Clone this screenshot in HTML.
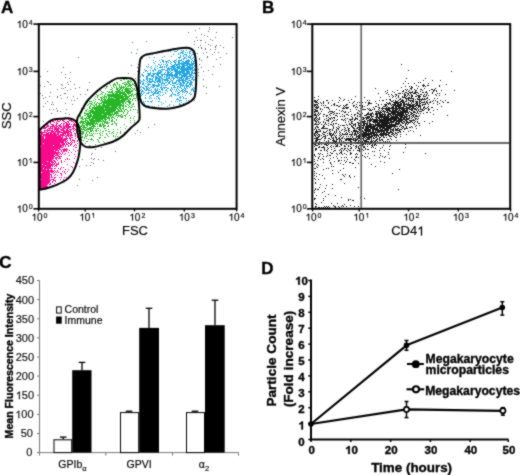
<!DOCTYPE html>
<html><head><meta charset="utf-8"><style>
html,body{margin:0;padding:0;background:#fff;width:520px;height:475px;overflow:hidden}
svg{display:block;will-change:transform}
text{stroke:#000;stroke-width:.15px}
text[font-weight=bold]{stroke-width:.35px}
.one{stroke:#000;stroke-width:.15px;vector-effect:non-scaling-stroke}
.oneb{stroke:#000;stroke-width:.35px;vector-effect:non-scaling-stroke}
</style></head><body>
<svg width="520" height="475" viewBox="0 0 520 475" font-family="Liberation Sans, sans-serif">
<defs><filter id="soft" x="0" y="0" width="520" height="475" filterUnits="userSpaceOnUse" color-interpolation-filters="sRGB"><feConvolveMatrix order="3" kernelMatrix="1 2 1 2 12 2 1 2 1" divisor="24" preserveAlpha="false" edgeMode="duplicate"/></filter></defs>
<g filter="url(#soft)">
<rect width="520" height="475" fill="#fff"/>
<path d="M64 118h1v1h-1zM68 118h1v1h-1zM58 119h1v1h-1zM60 119h1v1h-1zM62 119h1v1h-1zM64 119h1v1h-1zM68 119h1v1h-1zM72 119h1v1h-1zM52 120h1v1h-1zM55 120h1v1h-1zM57 120h1v1h-1zM60 120h1v1h-1zM62 120h1v1h-1zM63 120h1v1h-1zM69 120h1v1h-1zM70 120h1v1h-1zM71 120h1v1h-1zM73 120h1v1h-1zM74 120h1v1h-1zM49 121h1v1h-1zM50 121h1v1h-1zM52 121h1v1h-1zM53 121h1v1h-1zM57 121h1v1h-1zM58 121h1v1h-1zM59 121h1v1h-1zM63 121h1v1h-1zM64 121h1v1h-1zM67 121h1v1h-1zM68 121h1v1h-1zM71 121h1v1h-1zM72 121h1v1h-1zM48 122h1v1h-1zM50 122h1v1h-1zM54 122h1v1h-1zM56 122h1v1h-1zM65 122h1v1h-1zM66 122h1v1h-1zM68 122h1v1h-1zM73 122h1v1h-1zM75 122h1v1h-1zM47 123h1v1h-1zM50 123h1v1h-1zM56 123h1v1h-1zM57 123h1v1h-1zM61 123h1v1h-1zM63 123h1v1h-1zM64 123h1v1h-1zM66 123h1v1h-1zM67 123h1v1h-1zM69 123h1v1h-1zM74 123h1v1h-1zM47 124h1v1h-1zM51 124h1v1h-1zM52 124h1v1h-1zM53 124h1v1h-1zM56 124h1v1h-1zM60 124h1v1h-1zM63 124h1v1h-1zM66 124h1v1h-1zM67 124h1v1h-1zM68 124h1v1h-1zM69 124h1v1h-1zM71 124h1v1h-1zM73 124h1v1h-1zM74 124h1v1h-1zM75 124h1v1h-1zM76 124h1v1h-1zM47 125h1v1h-1zM48 125h1v1h-1zM52 125h1v1h-1zM53 125h1v1h-1zM55 125h1v1h-1zM56 125h1v1h-1zM58 125h1v1h-1zM59 125h1v1h-1zM60 125h1v1h-1zM63 125h1v1h-1zM65 125h1v1h-1zM66 125h1v1h-1zM67 125h1v1h-1zM68 125h1v1h-1zM73 125h1v1h-1zM74 125h1v1h-1zM75 125h1v1h-1zM44 126h1v1h-1zM46 126h1v1h-1zM47 126h1v1h-1zM48 126h1v1h-1zM50 126h1v1h-1zM51 126h1v1h-1zM52 126h1v1h-1zM53 126h1v1h-1zM54 126h1v1h-1zM56 126h1v1h-1zM57 126h1v1h-1zM59 126h1v1h-1zM60 126h1v1h-1zM61 126h1v1h-1zM63 126h1v1h-1zM64 126h1v1h-1zM65 126h1v1h-1zM66 126h1v1h-1zM67 126h1v1h-1zM68 126h1v1h-1zM69 126h1v1h-1zM70 126h1v1h-1zM72 126h1v1h-1zM73 126h1v1h-1zM75 126h1v1h-1zM78 126h1v1h-1zM42 127h1v1h-1zM44 127h1v1h-1zM45 127h1v1h-1zM46 127h1v1h-1zM50 127h1v1h-1zM52 127h1v1h-1zM54 127h1v1h-1zM55 127h1v1h-1zM56 127h1v1h-1zM58 127h1v1h-1zM60 127h1v1h-1zM61 127h1v1h-1zM63 127h1v1h-1zM64 127h1v1h-1zM66 127h1v1h-1zM67 127h1v1h-1zM68 127h1v1h-1zM69 127h1v1h-1zM70 127h1v1h-1zM73 127h1v1h-1zM77 127h1v1h-1zM41 128h1v1h-1zM43 128h1v1h-1zM44 128h1v1h-1zM45 128h1v1h-1zM48 128h1v1h-1zM49 128h1v1h-1zM50 128h1v1h-1zM51 128h1v1h-1zM52 128h1v1h-1zM54 128h1v1h-1zM55 128h1v1h-1zM56 128h1v1h-1zM57 128h1v1h-1zM58 128h1v1h-1zM59 128h1v1h-1zM62 128h1v1h-1zM63 128h1v1h-1zM64 128h1v1h-1zM65 128h1v1h-1zM67 128h1v1h-1zM68 128h1v1h-1zM72 128h1v1h-1zM73 128h1v1h-1zM74 128h1v1h-1zM76 128h1v1h-1zM41 129h1v1h-1zM47 129h1v1h-1zM49 129h1v1h-1zM52 129h1v1h-1zM54 129h1v1h-1zM55 129h1v1h-1zM56 129h1v1h-1zM57 129h1v1h-1zM58 129h1v1h-1zM60 129h1v1h-1zM61 129h1v1h-1zM62 129h1v1h-1zM63 129h1v1h-1zM66 129h1v1h-1zM67 129h1v1h-1zM69 129h1v1h-1zM70 129h1v1h-1zM71 129h1v1h-1zM73 129h1v1h-1zM75 129h1v1h-1zM78 129h1v1h-1zM40 130h1v1h-1zM44 130h1v1h-1zM45 130h1v1h-1zM46 130h1v1h-1zM47 130h1v1h-1zM48 130h1v1h-1zM49 130h1v1h-1zM50 130h1v1h-1zM51 130h1v1h-1zM52 130h1v1h-1zM54 130h1v1h-1zM56 130h1v1h-1zM57 130h1v1h-1zM58 130h1v1h-1zM61 130h1v1h-1zM62 130h1v1h-1zM63 130h1v1h-1zM64 130h1v1h-1zM66 130h1v1h-1zM67 130h1v1h-1zM68 130h1v1h-1zM70 130h1v1h-1zM74 130h1v1h-1zM76 130h1v1h-1zM78 130h1v1h-1zM41 131h1v1h-1zM44 131h1v1h-1zM47 131h1v1h-1zM51 131h1v1h-1zM52 131h1v1h-1zM53 131h1v1h-1zM55 131h1v1h-1zM56 131h1v1h-1zM57 131h1v1h-1zM58 131h1v1h-1zM59 131h1v1h-1zM60 131h1v1h-1zM63 131h1v1h-1zM64 131h1v1h-1zM65 131h1v1h-1zM66 131h1v1h-1zM67 131h1v1h-1zM68 131h1v1h-1zM69 131h1v1h-1zM70 131h1v1h-1zM73 131h1v1h-1zM76 131h1v1h-1zM78 131h1v1h-1zM40 132h1v1h-1zM41 132h1v1h-1zM42 132h1v1h-1zM43 132h1v1h-1zM44 132h1v1h-1zM45 132h1v1h-1zM46 132h1v1h-1zM48 132h1v1h-1zM49 132h1v1h-1zM50 132h1v1h-1zM51 132h1v1h-1zM52 132h1v1h-1zM53 132h1v1h-1zM54 132h1v1h-1zM55 132h1v1h-1zM57 132h1v1h-1zM58 132h1v1h-1zM59 132h1v1h-1zM60 132h1v1h-1zM61 132h1v1h-1zM62 132h1v1h-1zM63 132h1v1h-1zM64 132h1v1h-1zM65 132h1v1h-1zM66 132h1v1h-1zM67 132h1v1h-1zM68 132h1v1h-1zM70 132h1v1h-1zM71 132h1v1h-1zM76 132h1v1h-1zM77 132h1v1h-1zM41 133h1v1h-1zM42 133h1v1h-1zM46 133h1v1h-1zM47 133h1v1h-1zM48 133h1v1h-1zM50 133h1v1h-1zM51 133h1v1h-1zM53 133h1v1h-1zM54 133h1v1h-1zM55 133h1v1h-1zM57 133h1v1h-1zM58 133h1v1h-1zM62 133h1v1h-1zM63 133h1v1h-1zM64 133h1v1h-1zM65 133h1v1h-1zM67 133h1v1h-1zM68 133h1v1h-1zM69 133h1v1h-1zM71 133h1v1h-1zM74 133h1v1h-1zM75 133h1v1h-1zM78 133h1v1h-1zM41 134h1v1h-1zM42 134h1v1h-1zM43 134h1v1h-1zM44 134h1v1h-1zM45 134h1v1h-1zM46 134h1v1h-1zM47 134h1v1h-1zM48 134h1v1h-1zM49 134h1v1h-1zM50 134h1v1h-1zM51 134h1v1h-1zM52 134h1v1h-1zM53 134h1v1h-1zM54 134h1v1h-1zM55 134h1v1h-1zM56 134h1v1h-1zM57 134h1v1h-1zM58 134h1v1h-1zM60 134h1v1h-1zM61 134h1v1h-1zM62 134h1v1h-1zM63 134h1v1h-1zM65 134h1v1h-1zM67 134h1v1h-1zM68 134h1v1h-1zM70 134h1v1h-1zM71 134h1v1h-1zM75 134h1v1h-1zM40 135h1v1h-1zM41 135h1v1h-1zM43 135h1v1h-1zM44 135h1v1h-1zM45 135h1v1h-1zM46 135h1v1h-1zM47 135h1v1h-1zM48 135h1v1h-1zM49 135h1v1h-1zM50 135h1v1h-1zM51 135h1v1h-1zM52 135h1v1h-1zM53 135h1v1h-1zM54 135h1v1h-1zM55 135h1v1h-1zM56 135h1v1h-1zM58 135h1v1h-1zM59 135h1v1h-1zM60 135h1v1h-1zM61 135h1v1h-1zM62 135h1v1h-1zM63 135h1v1h-1zM64 135h1v1h-1zM66 135h1v1h-1zM67 135h1v1h-1zM68 135h1v1h-1zM69 135h1v1h-1zM70 135h1v1h-1zM71 135h1v1h-1zM72 135h1v1h-1zM75 135h1v1h-1zM78 135h1v1h-1zM40 136h1v1h-1zM41 136h1v1h-1zM42 136h1v1h-1zM43 136h1v1h-1zM45 136h1v1h-1zM46 136h1v1h-1zM47 136h1v1h-1zM48 136h1v1h-1zM49 136h1v1h-1zM50 136h1v1h-1zM51 136h1v1h-1zM52 136h1v1h-1zM53 136h1v1h-1zM54 136h1v1h-1zM55 136h1v1h-1zM56 136h1v1h-1zM57 136h1v1h-1zM58 136h1v1h-1zM59 136h1v1h-1zM60 136h1v1h-1zM62 136h1v1h-1zM65 136h1v1h-1zM66 136h1v1h-1zM68 136h1v1h-1zM70 136h1v1h-1zM75 136h1v1h-1zM77 136h1v1h-1zM78 136h1v1h-1zM40 137h1v1h-1zM41 137h1v1h-1zM42 137h1v1h-1zM43 137h1v1h-1zM45 137h1v1h-1zM46 137h1v1h-1zM47 137h1v1h-1zM48 137h1v1h-1zM49 137h1v1h-1zM50 137h1v1h-1zM51 137h1v1h-1zM52 137h1v1h-1zM53 137h1v1h-1zM54 137h1v1h-1zM55 137h1v1h-1zM56 137h1v1h-1zM57 137h1v1h-1zM58 137h1v1h-1zM59 137h1v1h-1zM60 137h1v1h-1zM61 137h1v1h-1zM62 137h1v1h-1zM66 137h1v1h-1zM69 137h1v1h-1zM71 137h1v1h-1zM72 137h1v1h-1zM77 137h1v1h-1zM40 138h1v1h-1zM41 138h1v1h-1zM42 138h1v1h-1zM43 138h1v1h-1zM45 138h1v1h-1zM46 138h1v1h-1zM47 138h1v1h-1zM48 138h1v1h-1zM49 138h1v1h-1zM50 138h1v1h-1zM51 138h1v1h-1zM52 138h1v1h-1zM53 138h1v1h-1zM54 138h1v1h-1zM55 138h1v1h-1zM56 138h1v1h-1zM57 138h1v1h-1zM58 138h1v1h-1zM59 138h1v1h-1zM60 138h1v1h-1zM61 138h1v1h-1zM62 138h1v1h-1zM64 138h1v1h-1zM65 138h1v1h-1zM66 138h1v1h-1zM67 138h1v1h-1zM69 138h1v1h-1zM70 138h1v1h-1zM75 138h1v1h-1zM40 139h1v1h-1zM41 139h1v1h-1zM42 139h1v1h-1zM43 139h1v1h-1zM44 139h1v1h-1zM45 139h1v1h-1zM46 139h1v1h-1zM47 139h1v1h-1zM48 139h1v1h-1zM49 139h1v1h-1zM50 139h1v1h-1zM51 139h1v1h-1zM52 139h1v1h-1zM53 139h1v1h-1zM54 139h1v1h-1zM55 139h1v1h-1zM56 139h1v1h-1zM57 139h1v1h-1zM58 139h1v1h-1zM59 139h1v1h-1zM60 139h1v1h-1zM61 139h1v1h-1zM62 139h1v1h-1zM63 139h1v1h-1zM64 139h1v1h-1zM65 139h1v1h-1zM66 139h1v1h-1zM70 139h1v1h-1zM72 139h1v1h-1zM78 139h1v1h-1zM40 140h1v1h-1zM41 140h1v1h-1zM42 140h1v1h-1zM43 140h1v1h-1zM44 140h1v1h-1zM45 140h1v1h-1zM46 140h1v1h-1zM47 140h1v1h-1zM48 140h1v1h-1zM49 140h1v1h-1zM50 140h1v1h-1zM51 140h1v1h-1zM52 140h1v1h-1zM53 140h1v1h-1zM54 140h1v1h-1zM55 140h1v1h-1zM56 140h1v1h-1zM57 140h1v1h-1zM58 140h1v1h-1zM59 140h1v1h-1zM60 140h1v1h-1zM61 140h1v1h-1zM62 140h1v1h-1zM63 140h1v1h-1zM64 140h1v1h-1zM65 140h1v1h-1zM67 140h1v1h-1zM70 140h1v1h-1zM72 140h1v1h-1zM73 140h1v1h-1zM74 140h1v1h-1zM77 140h1v1h-1zM79 140h1v1h-1zM40 141h1v1h-1zM41 141h1v1h-1zM42 141h1v1h-1zM43 141h1v1h-1zM44 141h1v1h-1zM45 141h1v1h-1zM46 141h1v1h-1zM47 141h1v1h-1zM48 141h1v1h-1zM49 141h1v1h-1zM50 141h1v1h-1zM51 141h1v1h-1zM52 141h1v1h-1zM53 141h1v1h-1zM54 141h1v1h-1zM55 141h1v1h-1zM56 141h1v1h-1zM57 141h1v1h-1zM58 141h1v1h-1zM59 141h1v1h-1zM60 141h1v1h-1zM61 141h1v1h-1zM62 141h1v1h-1zM63 141h1v1h-1zM65 141h1v1h-1zM66 141h1v1h-1zM71 141h1v1h-1zM74 141h1v1h-1zM77 141h1v1h-1zM40 142h1v1h-1zM41 142h1v1h-1zM42 142h1v1h-1zM43 142h1v1h-1zM44 142h1v1h-1zM45 142h1v1h-1zM46 142h1v1h-1zM47 142h1v1h-1zM48 142h1v1h-1zM49 142h1v1h-1zM50 142h1v1h-1zM51 142h1v1h-1zM52 142h1v1h-1zM53 142h1v1h-1zM54 142h1v1h-1zM55 142h1v1h-1zM56 142h1v1h-1zM57 142h1v1h-1zM58 142h1v1h-1zM59 142h1v1h-1zM60 142h1v1h-1zM61 142h1v1h-1zM62 142h1v1h-1zM63 142h1v1h-1zM65 142h1v1h-1zM67 142h1v1h-1zM68 142h1v1h-1zM70 142h1v1h-1zM72 142h1v1h-1zM74 142h1v1h-1zM40 143h1v1h-1zM41 143h1v1h-1zM42 143h1v1h-1zM44 143h1v1h-1zM45 143h1v1h-1zM46 143h1v1h-1zM47 143h1v1h-1zM48 143h1v1h-1zM49 143h1v1h-1zM50 143h1v1h-1zM51 143h1v1h-1zM52 143h1v1h-1zM53 143h1v1h-1zM54 143h1v1h-1zM55 143h1v1h-1zM56 143h1v1h-1zM57 143h1v1h-1zM58 143h1v1h-1zM59 143h1v1h-1zM61 143h1v1h-1zM62 143h1v1h-1zM63 143h1v1h-1zM64 143h1v1h-1zM66 143h1v1h-1zM68 143h1v1h-1zM69 143h1v1h-1zM71 143h1v1h-1zM77 143h1v1h-1zM40 144h1v1h-1zM41 144h1v1h-1zM42 144h1v1h-1zM43 144h1v1h-1zM44 144h1v1h-1zM45 144h1v1h-1zM46 144h1v1h-1zM47 144h1v1h-1zM48 144h1v1h-1zM49 144h1v1h-1zM50 144h1v1h-1zM51 144h1v1h-1zM52 144h1v1h-1zM53 144h1v1h-1zM54 144h1v1h-1zM55 144h1v1h-1zM56 144h1v1h-1zM57 144h1v1h-1zM58 144h1v1h-1zM59 144h1v1h-1zM60 144h1v1h-1zM62 144h1v1h-1zM63 144h1v1h-1zM64 144h1v1h-1zM66 144h1v1h-1zM67 144h1v1h-1zM70 144h1v1h-1zM71 144h1v1h-1zM75 144h1v1h-1zM40 145h1v1h-1zM41 145h1v1h-1zM42 145h1v1h-1zM43 145h1v1h-1zM44 145h1v1h-1zM45 145h1v1h-1zM46 145h1v1h-1zM47 145h1v1h-1zM48 145h1v1h-1zM49 145h1v1h-1zM50 145h1v1h-1zM51 145h1v1h-1zM52 145h1v1h-1zM54 145h1v1h-1zM55 145h1v1h-1zM56 145h1v1h-1zM57 145h1v1h-1zM58 145h1v1h-1zM59 145h1v1h-1zM60 145h1v1h-1zM61 145h1v1h-1zM62 145h1v1h-1zM63 145h1v1h-1zM65 145h1v1h-1zM68 145h1v1h-1zM70 145h1v1h-1zM74 145h1v1h-1zM76 145h1v1h-1zM41 146h1v1h-1zM42 146h1v1h-1zM43 146h1v1h-1zM44 146h1v1h-1zM45 146h1v1h-1zM46 146h1v1h-1zM47 146h1v1h-1zM48 146h1v1h-1zM49 146h1v1h-1zM50 146h1v1h-1zM51 146h1v1h-1zM52 146h1v1h-1zM53 146h1v1h-1zM54 146h1v1h-1zM55 146h1v1h-1zM56 146h1v1h-1zM57 146h1v1h-1zM58 146h1v1h-1zM59 146h1v1h-1zM60 146h1v1h-1zM61 146h1v1h-1zM63 146h1v1h-1zM65 146h1v1h-1zM68 146h1v1h-1zM73 146h1v1h-1zM40 147h1v1h-1zM41 147h1v1h-1zM42 147h1v1h-1zM43 147h1v1h-1zM44 147h1v1h-1zM45 147h1v1h-1zM46 147h1v1h-1zM47 147h1v1h-1zM48 147h1v1h-1zM49 147h1v1h-1zM50 147h1v1h-1zM51 147h1v1h-1zM52 147h1v1h-1zM53 147h1v1h-1zM54 147h1v1h-1zM55 147h1v1h-1zM56 147h1v1h-1zM57 147h1v1h-1zM58 147h1v1h-1zM59 147h1v1h-1zM60 147h1v1h-1zM61 147h1v1h-1zM62 147h1v1h-1zM75 147h1v1h-1zM76 147h1v1h-1zM40 148h1v1h-1zM41 148h1v1h-1zM42 148h1v1h-1zM43 148h1v1h-1zM44 148h1v1h-1zM45 148h1v1h-1zM46 148h1v1h-1zM47 148h1v1h-1zM48 148h1v1h-1zM49 148h1v1h-1zM50 148h1v1h-1zM51 148h1v1h-1zM52 148h1v1h-1zM53 148h1v1h-1zM54 148h1v1h-1zM55 148h1v1h-1zM56 148h1v1h-1zM57 148h1v1h-1zM58 148h1v1h-1zM59 148h1v1h-1zM64 148h1v1h-1zM66 148h1v1h-1zM40 149h1v1h-1zM41 149h1v1h-1zM42 149h1v1h-1zM43 149h1v1h-1zM44 149h1v1h-1zM45 149h1v1h-1zM46 149h1v1h-1zM47 149h1v1h-1zM48 149h1v1h-1zM49 149h1v1h-1zM50 149h1v1h-1zM51 149h1v1h-1zM52 149h1v1h-1zM53 149h1v1h-1zM54 149h1v1h-1zM55 149h1v1h-1zM56 149h1v1h-1zM57 149h1v1h-1zM59 149h1v1h-1zM60 149h1v1h-1zM62 149h1v1h-1zM63 149h1v1h-1zM64 149h1v1h-1zM65 149h1v1h-1zM66 149h1v1h-1zM67 149h1v1h-1zM73 149h1v1h-1zM40 150h1v1h-1zM41 150h1v1h-1zM42 150h1v1h-1zM43 150h1v1h-1zM44 150h1v1h-1zM45 150h1v1h-1zM46 150h1v1h-1zM47 150h1v1h-1zM48 150h1v1h-1zM49 150h1v1h-1zM50 150h1v1h-1zM51 150h1v1h-1zM52 150h1v1h-1zM53 150h1v1h-1zM55 150h1v1h-1zM56 150h1v1h-1zM57 150h1v1h-1zM58 150h1v1h-1zM61 150h1v1h-1zM63 150h1v1h-1zM64 150h1v1h-1zM65 150h1v1h-1zM66 150h1v1h-1zM69 150h1v1h-1zM77 150h1v1h-1zM40 151h1v1h-1zM41 151h1v1h-1zM42 151h1v1h-1zM43 151h1v1h-1zM44 151h1v1h-1zM45 151h1v1h-1zM46 151h1v1h-1zM47 151h1v1h-1zM48 151h1v1h-1zM49 151h1v1h-1zM50 151h1v1h-1zM51 151h1v1h-1zM52 151h1v1h-1zM53 151h1v1h-1zM54 151h1v1h-1zM55 151h1v1h-1zM58 151h1v1h-1zM61 151h1v1h-1zM63 151h1v1h-1zM64 151h1v1h-1zM66 151h1v1h-1zM75 151h1v1h-1zM40 152h1v1h-1zM41 152h1v1h-1zM42 152h1v1h-1zM43 152h1v1h-1zM44 152h1v1h-1zM45 152h1v1h-1zM46 152h1v1h-1zM47 152h1v1h-1zM48 152h1v1h-1zM49 152h1v1h-1zM50 152h1v1h-1zM51 152h1v1h-1zM52 152h1v1h-1zM53 152h1v1h-1zM54 152h1v1h-1zM55 152h1v1h-1zM56 152h1v1h-1zM57 152h1v1h-1zM58 152h1v1h-1zM59 152h1v1h-1zM62 152h1v1h-1zM68 152h1v1h-1zM71 152h1v1h-1zM40 153h1v1h-1zM41 153h1v1h-1zM42 153h1v1h-1zM43 153h1v1h-1zM44 153h1v1h-1zM45 153h1v1h-1zM46 153h1v1h-1zM47 153h1v1h-1zM48 153h1v1h-1zM49 153h1v1h-1zM50 153h1v1h-1zM51 153h1v1h-1zM52 153h1v1h-1zM53 153h1v1h-1zM54 153h1v1h-1zM55 153h1v1h-1zM56 153h1v1h-1zM57 153h1v1h-1zM58 153h1v1h-1zM60 153h1v1h-1zM62 153h1v1h-1zM65 153h1v1h-1zM40 154h1v1h-1zM41 154h1v1h-1zM42 154h1v1h-1zM43 154h1v1h-1zM44 154h1v1h-1zM45 154h1v1h-1zM46 154h1v1h-1zM47 154h1v1h-1zM48 154h1v1h-1zM49 154h1v1h-1zM50 154h1v1h-1zM51 154h1v1h-1zM52 154h1v1h-1zM53 154h1v1h-1zM54 154h1v1h-1zM56 154h1v1h-1zM57 154h1v1h-1zM59 154h1v1h-1zM61 154h1v1h-1zM64 154h1v1h-1zM74 154h1v1h-1zM40 155h1v1h-1zM41 155h1v1h-1zM42 155h1v1h-1zM43 155h1v1h-1zM44 155h1v1h-1zM45 155h1v1h-1zM46 155h1v1h-1zM47 155h1v1h-1zM48 155h1v1h-1zM49 155h1v1h-1zM50 155h1v1h-1zM51 155h1v1h-1zM52 155h1v1h-1zM53 155h1v1h-1zM55 155h1v1h-1zM56 155h1v1h-1zM57 155h1v1h-1zM58 155h1v1h-1zM69 155h1v1h-1zM40 156h1v1h-1zM41 156h1v1h-1zM42 156h1v1h-1zM43 156h1v1h-1zM44 156h1v1h-1zM45 156h1v1h-1zM46 156h1v1h-1zM47 156h1v1h-1zM48 156h1v1h-1zM49 156h1v1h-1zM50 156h1v1h-1zM51 156h1v1h-1zM52 156h1v1h-1zM53 156h1v1h-1zM54 156h1v1h-1zM58 156h1v1h-1zM59 156h1v1h-1zM60 156h1v1h-1zM61 156h1v1h-1zM75 156h1v1h-1zM40 157h1v1h-1zM41 157h1v1h-1zM42 157h1v1h-1zM43 157h1v1h-1zM44 157h1v1h-1zM45 157h1v1h-1zM46 157h1v1h-1zM47 157h1v1h-1zM48 157h1v1h-1zM49 157h1v1h-1zM50 157h1v1h-1zM51 157h1v1h-1zM52 157h1v1h-1zM53 157h1v1h-1zM55 157h1v1h-1zM56 157h1v1h-1zM57 157h1v1h-1zM59 157h1v1h-1zM40 158h1v1h-1zM41 158h1v1h-1zM42 158h1v1h-1zM43 158h1v1h-1zM44 158h1v1h-1zM45 158h1v1h-1zM46 158h1v1h-1zM47 158h1v1h-1zM48 158h1v1h-1zM49 158h1v1h-1zM50 158h1v1h-1zM51 158h1v1h-1zM52 158h1v1h-1zM53 158h1v1h-1zM55 158h1v1h-1zM56 158h1v1h-1zM58 158h1v1h-1zM59 158h1v1h-1zM60 158h1v1h-1zM67 158h1v1h-1zM74 158h1v1h-1zM40 159h1v1h-1zM41 159h1v1h-1zM42 159h1v1h-1zM43 159h1v1h-1zM44 159h1v1h-1zM45 159h1v1h-1zM46 159h1v1h-1zM47 159h1v1h-1zM48 159h1v1h-1zM49 159h1v1h-1zM50 159h1v1h-1zM51 159h1v1h-1zM52 159h1v1h-1zM56 159h1v1h-1zM65 159h1v1h-1zM67 159h1v1h-1zM69 159h1v1h-1zM40 160h1v1h-1zM41 160h1v1h-1zM42 160h1v1h-1zM43 160h1v1h-1zM44 160h1v1h-1zM45 160h1v1h-1zM46 160h1v1h-1zM47 160h1v1h-1zM48 160h1v1h-1zM49 160h1v1h-1zM50 160h1v1h-1zM51 160h1v1h-1zM53 160h1v1h-1zM54 160h1v1h-1zM57 160h1v1h-1zM61 160h1v1h-1zM40 161h1v1h-1zM41 161h1v1h-1zM42 161h1v1h-1zM43 161h1v1h-1zM44 161h1v1h-1zM45 161h1v1h-1zM46 161h1v1h-1zM48 161h1v1h-1zM49 161h1v1h-1zM50 161h1v1h-1zM51 161h1v1h-1zM52 161h1v1h-1zM54 161h1v1h-1zM55 161h1v1h-1zM61 161h1v1h-1zM64 161h1v1h-1zM40 162h1v1h-1zM41 162h1v1h-1zM42 162h1v1h-1zM43 162h1v1h-1zM44 162h1v1h-1zM45 162h1v1h-1zM46 162h1v1h-1zM47 162h1v1h-1zM48 162h1v1h-1zM49 162h1v1h-1zM51 162h1v1h-1zM52 162h1v1h-1zM53 162h1v1h-1zM55 162h1v1h-1zM58 162h1v1h-1zM61 162h1v1h-1zM73 162h1v1h-1zM40 163h1v1h-1zM41 163h1v1h-1zM42 163h1v1h-1zM43 163h1v1h-1zM44 163h1v1h-1zM45 163h1v1h-1zM46 163h1v1h-1zM47 163h1v1h-1zM48 163h1v1h-1zM49 163h1v1h-1zM50 163h1v1h-1zM52 163h1v1h-1zM54 163h1v1h-1zM56 163h1v1h-1zM58 163h1v1h-1zM75 163h1v1h-1zM40 164h1v1h-1zM41 164h1v1h-1zM43 164h1v1h-1zM44 164h1v1h-1zM45 164h1v1h-1zM46 164h1v1h-1zM47 164h1v1h-1zM48 164h1v1h-1zM49 164h1v1h-1zM50 164h1v1h-1zM51 164h1v1h-1zM52 164h1v1h-1zM53 164h1v1h-1zM54 164h1v1h-1zM56 164h1v1h-1zM57 164h1v1h-1zM58 164h1v1h-1zM67 164h1v1h-1zM40 165h1v1h-1zM41 165h1v1h-1zM42 165h1v1h-1zM43 165h1v1h-1zM44 165h1v1h-1zM46 165h1v1h-1zM47 165h1v1h-1zM48 165h1v1h-1zM49 165h1v1h-1zM50 165h1v1h-1zM51 165h1v1h-1zM52 165h1v1h-1zM55 165h1v1h-1zM56 165h1v1h-1zM40 166h1v1h-1zM41 166h1v1h-1zM42 166h1v1h-1zM43 166h1v1h-1zM44 166h1v1h-1zM45 166h1v1h-1zM46 166h1v1h-1zM47 166h1v1h-1zM48 166h1v1h-1zM49 166h1v1h-1zM50 166h1v1h-1zM52 166h1v1h-1zM54 166h1v1h-1zM56 166h1v1h-1zM71 166h1v1h-1zM40 167h1v1h-1zM41 167h1v1h-1zM42 167h1v1h-1zM43 167h1v1h-1zM44 167h1v1h-1zM45 167h1v1h-1zM46 167h1v1h-1zM47 167h1v1h-1zM48 167h1v1h-1zM49 167h1v1h-1zM50 167h1v1h-1zM61 167h1v1h-1zM63 167h1v1h-1zM72 167h1v1h-1zM40 168h1v1h-1zM41 168h1v1h-1zM42 168h1v1h-1zM44 168h1v1h-1zM45 168h1v1h-1zM46 168h1v1h-1zM47 168h1v1h-1zM48 168h1v1h-1zM49 168h1v1h-1zM50 168h1v1h-1zM51 168h1v1h-1zM52 168h1v1h-1zM54 168h1v1h-1zM55 168h1v1h-1zM58 168h1v1h-1zM60 168h1v1h-1zM40 169h1v1h-1zM41 169h1v1h-1zM42 169h1v1h-1zM43 169h1v1h-1zM44 169h1v1h-1zM45 169h1v1h-1zM47 169h1v1h-1zM48 169h1v1h-1zM51 169h1v1h-1zM60 169h1v1h-1zM65 169h1v1h-1zM68 169h1v1h-1zM40 170h1v1h-1zM41 170h1v1h-1zM42 170h1v1h-1zM43 170h1v1h-1zM44 170h1v1h-1zM45 170h1v1h-1zM46 170h1v1h-1zM47 170h1v1h-1zM48 170h1v1h-1zM49 170h1v1h-1zM50 170h1v1h-1zM51 170h1v1h-1zM52 170h1v1h-1zM54 170h1v1h-1zM57 170h1v1h-1zM40 171h1v1h-1zM41 171h1v1h-1zM42 171h1v1h-1zM43 171h1v1h-1zM44 171h1v1h-1zM45 171h1v1h-1zM46 171h1v1h-1zM47 171h1v1h-1zM48 171h1v1h-1zM49 171h1v1h-1zM50 171h1v1h-1zM51 171h1v1h-1zM52 171h1v1h-1zM53 171h1v1h-1zM55 171h1v1h-1zM57 171h1v1h-1zM62 171h1v1h-1zM64 171h1v1h-1zM67 171h1v1h-1zM40 172h1v1h-1zM42 172h1v1h-1zM43 172h1v1h-1zM44 172h1v1h-1zM45 172h1v1h-1zM46 172h1v1h-1zM47 172h1v1h-1zM48 172h1v1h-1zM49 172h1v1h-1zM51 172h1v1h-1zM52 172h1v1h-1zM54 172h1v1h-1zM56 172h1v1h-1zM58 172h1v1h-1zM64 172h1v1h-1zM40 173h1v1h-1zM41 173h1v1h-1zM42 173h1v1h-1zM43 173h1v1h-1zM44 173h1v1h-1zM45 173h1v1h-1zM46 173h1v1h-1zM47 173h1v1h-1zM48 173h1v1h-1zM49 173h1v1h-1zM53 173h1v1h-1zM60 173h1v1h-1zM61 173h1v1h-1zM65 173h1v1h-1zM40 174h1v1h-1zM41 174h1v1h-1zM42 174h1v1h-1zM43 174h1v1h-1zM44 174h1v1h-1zM45 174h1v1h-1zM46 174h1v1h-1zM47 174h1v1h-1zM48 174h1v1h-1zM49 174h1v1h-1zM50 174h1v1h-1zM51 174h1v1h-1zM55 174h1v1h-1zM61 174h1v1h-1zM40 175h1v1h-1zM41 175h1v1h-1zM42 175h1v1h-1zM43 175h1v1h-1zM44 175h1v1h-1zM45 175h1v1h-1zM46 175h1v1h-1zM47 175h1v1h-1zM48 175h1v1h-1zM49 175h1v1h-1zM51 175h1v1h-1zM54 175h1v1h-1zM57 175h1v1h-1zM61 175h1v1h-1zM40 176h1v1h-1zM41 176h1v1h-1zM42 176h1v1h-1zM43 176h1v1h-1zM44 176h1v1h-1zM45 176h1v1h-1zM46 176h1v1h-1zM47 176h1v1h-1zM48 176h1v1h-1zM49 176h1v1h-1zM51 176h1v1h-1zM40 177h1v1h-1zM41 177h1v1h-1zM42 177h1v1h-1zM43 177h1v1h-1zM44 177h1v1h-1zM45 177h1v1h-1zM46 177h1v1h-1zM47 177h1v1h-1zM48 177h1v1h-1zM49 177h1v1h-1zM51 177h1v1h-1zM52 177h1v1h-1zM54 177h1v1h-1zM55 177h1v1h-1zM59 177h1v1h-1zM61 177h1v1h-1zM64 177h1v1h-1zM66 177h1v1h-1zM68 177h1v1h-1zM40 178h1v1h-1zM41 178h1v1h-1zM42 178h1v1h-1zM43 178h1v1h-1zM44 178h1v1h-1zM45 178h1v1h-1zM46 178h1v1h-1zM47 178h1v1h-1zM48 178h1v1h-1zM49 178h1v1h-1zM54 178h1v1h-1zM41 179h1v1h-1zM42 179h1v1h-1zM43 179h1v1h-1zM44 179h1v1h-1zM45 179h1v1h-1zM46 179h1v1h-1zM47 179h1v1h-1zM48 179h1v1h-1zM49 179h1v1h-1zM51 179h1v1h-1zM52 179h1v1h-1zM53 179h1v1h-1zM60 179h1v1h-1zM63 179h1v1h-1zM40 180h1v1h-1zM41 180h1v1h-1zM42 180h1v1h-1zM43 180h1v1h-1zM44 180h1v1h-1zM45 180h1v1h-1zM46 180h1v1h-1zM47 180h1v1h-1zM48 180h1v1h-1zM49 180h1v1h-1zM50 180h1v1h-1zM53 180h1v1h-1zM54 180h1v1h-1zM55 180h1v1h-1zM40 181h1v1h-1zM41 181h1v1h-1zM42 181h1v1h-1zM43 181h1v1h-1zM44 181h1v1h-1zM45 181h1v1h-1zM46 181h1v1h-1zM47 181h1v1h-1zM48 181h1v1h-1zM49 181h1v1h-1zM52 181h1v1h-1zM55 181h1v1h-1zM63 181h1v1h-1zM40 182h1v1h-1zM41 182h1v1h-1zM42 182h1v1h-1zM43 182h1v1h-1zM44 182h1v1h-1zM45 182h1v1h-1zM46 182h1v1h-1zM47 182h1v1h-1zM48 182h1v1h-1zM49 182h1v1h-1zM52 182h1v1h-1zM40 183h1v1h-1zM41 183h1v1h-1zM42 183h1v1h-1zM43 183h1v1h-1zM44 183h1v1h-1zM45 183h1v1h-1zM46 183h1v1h-1zM47 183h1v1h-1zM48 183h1v1h-1zM50 183h1v1h-1zM54 183h1v1h-1zM40 184h1v1h-1zM41 184h1v1h-1zM42 184h1v1h-1zM43 184h1v1h-1zM44 184h1v1h-1zM45 184h1v1h-1zM46 184h1v1h-1zM47 184h1v1h-1zM49 184h1v1h-1zM50 184h1v1h-1zM40 185h1v1h-1zM41 185h1v1h-1zM42 185h1v1h-1zM43 185h1v1h-1zM44 185h1v1h-1zM45 185h1v1h-1zM46 185h1v1h-1zM52 185h1v1h-1zM40 186h1v1h-1zM41 186h1v1h-1zM42 186h1v1h-1zM43 186h1v1h-1zM44 186h1v1h-1zM45 186h1v1h-1zM46 186h1v1h-1zM47 186h1v1h-1zM51 186h1v1h-1zM40 187h1v1h-1zM41 187h1v1h-1zM42 187h1v1h-1zM43 187h1v1h-1zM44 187h1v1h-1zM45 187h1v1h-1zM46 187h1v1h-1zM47 187h1v1h-1zM40 188h1v1h-1zM41 188h1v1h-1zM42 188h1v1h-1zM43 188h1v1h-1zM44 188h1v1h-1zM45 188h1v1h-1zM40 189h1v1h-1z" fill="#f80a8c"/>
<path d="M126 78h1v1h-1zM127 78h1v1h-1zM128 78h1v1h-1zM129 78h1v1h-1zM130 78h1v1h-1zM123 79h1v1h-1zM124 79h1v1h-1zM126 79h1v1h-1zM130 79h1v1h-1zM120 80h1v1h-1zM121 80h1v1h-1zM128 80h1v1h-1zM130 80h1v1h-1zM132 80h1v1h-1zM127 81h1v1h-1zM128 81h1v1h-1zM129 81h1v1h-1zM131 81h1v1h-1zM116 82h1v1h-1zM117 82h1v1h-1zM124 82h1v1h-1zM125 82h1v1h-1zM127 82h1v1h-1zM128 82h1v1h-1zM130 82h1v1h-1zM107 83h1v1h-1zM109 83h1v1h-1zM114 83h1v1h-1zM117 83h1v1h-1zM122 83h1v1h-1zM123 83h1v1h-1zM126 83h1v1h-1zM128 83h1v1h-1zM129 83h1v1h-1zM132 83h1v1h-1zM134 83h1v1h-1zM135 83h1v1h-1zM113 84h1v1h-1zM114 84h1v1h-1zM115 84h1v1h-1zM117 84h1v1h-1zM119 84h1v1h-1zM124 84h1v1h-1zM125 84h1v1h-1zM126 84h1v1h-1zM127 84h1v1h-1zM129 84h1v1h-1zM130 84h1v1h-1zM132 84h1v1h-1zM133 84h1v1h-1zM135 84h1v1h-1zM110 85h1v1h-1zM113 85h1v1h-1zM115 85h1v1h-1zM119 85h1v1h-1zM121 85h1v1h-1zM125 85h1v1h-1zM128 85h1v1h-1zM129 85h1v1h-1zM130 85h1v1h-1zM131 85h1v1h-1zM134 85h1v1h-1zM104 86h1v1h-1zM106 86h1v1h-1zM107 86h1v1h-1zM113 86h1v1h-1zM116 86h1v1h-1zM119 86h1v1h-1zM121 86h1v1h-1zM123 86h1v1h-1zM125 86h1v1h-1zM127 86h1v1h-1zM128 86h1v1h-1zM130 86h1v1h-1zM135 86h1v1h-1zM106 87h1v1h-1zM111 87h1v1h-1zM114 87h1v1h-1zM116 87h1v1h-1zM119 87h1v1h-1zM120 87h1v1h-1zM121 87h1v1h-1zM122 87h1v1h-1zM123 87h1v1h-1zM124 87h1v1h-1zM126 87h1v1h-1zM131 87h1v1h-1zM136 87h1v1h-1zM105 88h1v1h-1zM112 88h1v1h-1zM116 88h1v1h-1zM117 88h1v1h-1zM118 88h1v1h-1zM120 88h1v1h-1zM121 88h1v1h-1zM123 88h1v1h-1zM125 88h1v1h-1zM126 88h1v1h-1zM127 88h1v1h-1zM128 88h1v1h-1zM129 88h1v1h-1zM130 88h1v1h-1zM132 88h1v1h-1zM134 88h1v1h-1zM136 88h1v1h-1zM110 89h1v1h-1zM111 89h1v1h-1zM116 89h1v1h-1zM117 89h1v1h-1zM119 89h1v1h-1zM120 89h1v1h-1zM122 89h1v1h-1zM124 89h1v1h-1zM125 89h1v1h-1zM126 89h1v1h-1zM127 89h1v1h-1zM128 89h1v1h-1zM130 89h1v1h-1zM133 89h1v1h-1zM134 89h1v1h-1zM136 89h1v1h-1zM100 90h1v1h-1zM112 90h1v1h-1zM117 90h1v1h-1zM118 90h1v1h-1zM119 90h1v1h-1zM121 90h1v1h-1zM122 90h1v1h-1zM125 90h1v1h-1zM126 90h1v1h-1zM127 90h1v1h-1zM128 90h1v1h-1zM129 90h1v1h-1zM131 90h1v1h-1zM132 90h1v1h-1zM135 90h1v1h-1zM101 91h1v1h-1zM107 91h1v1h-1zM109 91h1v1h-1zM111 91h1v1h-1zM112 91h1v1h-1zM115 91h1v1h-1zM116 91h1v1h-1zM117 91h1v1h-1zM118 91h1v1h-1zM119 91h1v1h-1zM120 91h1v1h-1zM122 91h1v1h-1zM124 91h1v1h-1zM125 91h1v1h-1zM126 91h1v1h-1zM127 91h1v1h-1zM128 91h1v1h-1zM129 91h1v1h-1zM130 91h1v1h-1zM131 91h1v1h-1zM132 91h1v1h-1zM137 91h1v1h-1zM102 92h1v1h-1zM103 92h1v1h-1zM108 92h1v1h-1zM109 92h1v1h-1zM110 92h1v1h-1zM111 92h1v1h-1zM112 92h1v1h-1zM114 92h1v1h-1zM116 92h1v1h-1zM117 92h1v1h-1zM118 92h1v1h-1zM119 92h1v1h-1zM120 92h1v1h-1zM121 92h1v1h-1zM122 92h1v1h-1zM123 92h1v1h-1zM124 92h1v1h-1zM126 92h1v1h-1zM127 92h1v1h-1zM128 92h1v1h-1zM129 92h1v1h-1zM130 92h1v1h-1zM137 92h1v1h-1zM101 93h1v1h-1zM105 93h1v1h-1zM112 93h1v1h-1zM113 93h1v1h-1zM115 93h1v1h-1zM116 93h1v1h-1zM117 93h1v1h-1zM119 93h1v1h-1zM120 93h1v1h-1zM121 93h1v1h-1zM122 93h1v1h-1zM123 93h1v1h-1zM124 93h1v1h-1zM125 93h1v1h-1zM127 93h1v1h-1zM128 93h1v1h-1zM129 93h1v1h-1zM130 93h1v1h-1zM132 93h1v1h-1zM136 93h1v1h-1zM96 94h1v1h-1zM100 94h1v1h-1zM102 94h1v1h-1zM105 94h1v1h-1zM107 94h1v1h-1zM108 94h1v1h-1zM109 94h1v1h-1zM110 94h1v1h-1zM111 94h1v1h-1zM112 94h1v1h-1zM113 94h1v1h-1zM114 94h1v1h-1zM115 94h1v1h-1zM116 94h1v1h-1zM117 94h1v1h-1zM118 94h1v1h-1zM119 94h1v1h-1zM120 94h1v1h-1zM122 94h1v1h-1zM123 94h1v1h-1zM124 94h1v1h-1zM125 94h1v1h-1zM126 94h1v1h-1zM128 94h1v1h-1zM131 94h1v1h-1zM132 94h1v1h-1zM134 94h1v1h-1zM135 94h1v1h-1zM136 94h1v1h-1zM137 94h1v1h-1zM93 95h1v1h-1zM97 95h1v1h-1zM98 95h1v1h-1zM104 95h1v1h-1zM107 95h1v1h-1zM108 95h1v1h-1zM109 95h1v1h-1zM110 95h1v1h-1zM111 95h1v1h-1zM112 95h1v1h-1zM113 95h1v1h-1zM114 95h1v1h-1zM115 95h1v1h-1zM116 95h1v1h-1zM117 95h1v1h-1zM118 95h1v1h-1zM119 95h1v1h-1zM120 95h1v1h-1zM121 95h1v1h-1zM122 95h1v1h-1zM124 95h1v1h-1zM125 95h1v1h-1zM126 95h1v1h-1zM129 95h1v1h-1zM130 95h1v1h-1zM131 95h1v1h-1zM133 95h1v1h-1zM136 95h1v1h-1zM137 95h1v1h-1zM92 96h1v1h-1zM95 96h1v1h-1zM97 96h1v1h-1zM102 96h1v1h-1zM104 96h1v1h-1zM105 96h1v1h-1zM106 96h1v1h-1zM108 96h1v1h-1zM109 96h1v1h-1zM110 96h1v1h-1zM111 96h1v1h-1zM112 96h1v1h-1zM113 96h1v1h-1zM114 96h1v1h-1zM115 96h1v1h-1zM116 96h1v1h-1zM117 96h1v1h-1zM118 96h1v1h-1zM119 96h1v1h-1zM120 96h1v1h-1zM121 96h1v1h-1zM122 96h1v1h-1zM123 96h1v1h-1zM124 96h1v1h-1zM125 96h1v1h-1zM126 96h1v1h-1zM127 96h1v1h-1zM128 96h1v1h-1zM129 96h1v1h-1zM131 96h1v1h-1zM133 96h1v1h-1zM136 96h1v1h-1zM90 97h1v1h-1zM97 97h1v1h-1zM100 97h1v1h-1zM101 97h1v1h-1zM103 97h1v1h-1zM104 97h1v1h-1zM106 97h1v1h-1zM108 97h1v1h-1zM109 97h1v1h-1zM111 97h1v1h-1zM113 97h1v1h-1zM114 97h1v1h-1zM115 97h1v1h-1zM116 97h1v1h-1zM117 97h1v1h-1zM118 97h1v1h-1zM119 97h1v1h-1zM120 97h1v1h-1zM121 97h1v1h-1zM122 97h1v1h-1zM123 97h1v1h-1zM125 97h1v1h-1zM126 97h1v1h-1zM127 97h1v1h-1zM128 97h1v1h-1zM136 97h1v1h-1zM89 98h1v1h-1zM94 98h1v1h-1zM101 98h1v1h-1zM102 98h1v1h-1zM104 98h1v1h-1zM106 98h1v1h-1zM108 98h1v1h-1zM109 98h1v1h-1zM110 98h1v1h-1zM111 98h1v1h-1zM112 98h1v1h-1zM113 98h1v1h-1zM115 98h1v1h-1zM116 98h1v1h-1zM117 98h1v1h-1zM118 98h1v1h-1zM119 98h1v1h-1zM120 98h1v1h-1zM121 98h1v1h-1zM122 98h1v1h-1zM123 98h1v1h-1zM124 98h1v1h-1zM125 98h1v1h-1zM126 98h1v1h-1zM127 98h1v1h-1zM129 98h1v1h-1zM130 98h1v1h-1zM133 98h1v1h-1zM134 98h1v1h-1zM135 98h1v1h-1zM137 98h1v1h-1zM95 99h1v1h-1zM98 99h1v1h-1zM99 99h1v1h-1zM101 99h1v1h-1zM103 99h1v1h-1zM104 99h1v1h-1zM105 99h1v1h-1zM107 99h1v1h-1zM108 99h1v1h-1zM109 99h1v1h-1zM110 99h1v1h-1zM111 99h1v1h-1zM112 99h1v1h-1zM113 99h1v1h-1zM114 99h1v1h-1zM115 99h1v1h-1zM116 99h1v1h-1zM117 99h1v1h-1zM118 99h1v1h-1zM119 99h1v1h-1zM121 99h1v1h-1zM122 99h1v1h-1zM123 99h1v1h-1zM124 99h1v1h-1zM125 99h1v1h-1zM126 99h1v1h-1zM127 99h1v1h-1zM128 99h1v1h-1zM130 99h1v1h-1zM132 99h1v1h-1zM137 99h1v1h-1zM93 100h1v1h-1zM100 100h1v1h-1zM101 100h1v1h-1zM102 100h1v1h-1zM104 100h1v1h-1zM105 100h1v1h-1zM106 100h1v1h-1zM107 100h1v1h-1zM108 100h1v1h-1zM109 100h1v1h-1zM110 100h1v1h-1zM111 100h1v1h-1zM112 100h1v1h-1zM113 100h1v1h-1zM114 100h1v1h-1zM115 100h1v1h-1zM116 100h1v1h-1zM117 100h1v1h-1zM118 100h1v1h-1zM119 100h1v1h-1zM120 100h1v1h-1zM121 100h1v1h-1zM122 100h1v1h-1zM123 100h1v1h-1zM124 100h1v1h-1zM125 100h1v1h-1zM128 100h1v1h-1zM129 100h1v1h-1zM132 100h1v1h-1zM135 100h1v1h-1zM89 101h1v1h-1zM90 101h1v1h-1zM91 101h1v1h-1zM95 101h1v1h-1zM102 101h1v1h-1zM103 101h1v1h-1zM104 101h1v1h-1zM105 101h1v1h-1zM106 101h1v1h-1zM107 101h1v1h-1zM108 101h1v1h-1zM109 101h1v1h-1zM110 101h1v1h-1zM111 101h1v1h-1zM112 101h1v1h-1zM113 101h1v1h-1zM114 101h1v1h-1zM115 101h1v1h-1zM116 101h1v1h-1zM117 101h1v1h-1zM118 101h1v1h-1zM119 101h1v1h-1zM120 101h1v1h-1zM121 101h1v1h-1zM122 101h1v1h-1zM123 101h1v1h-1zM124 101h1v1h-1zM126 101h1v1h-1zM127 101h1v1h-1zM128 101h1v1h-1zM129 101h1v1h-1zM130 101h1v1h-1zM87 102h1v1h-1zM92 102h1v1h-1zM94 102h1v1h-1zM97 102h1v1h-1zM101 102h1v1h-1zM102 102h1v1h-1zM103 102h1v1h-1zM104 102h1v1h-1zM105 102h1v1h-1zM106 102h1v1h-1zM107 102h1v1h-1zM108 102h1v1h-1zM109 102h1v1h-1zM110 102h1v1h-1zM111 102h1v1h-1zM112 102h1v1h-1zM113 102h1v1h-1zM114 102h1v1h-1zM115 102h1v1h-1zM116 102h1v1h-1zM117 102h1v1h-1zM118 102h1v1h-1zM119 102h1v1h-1zM120 102h1v1h-1zM121 102h1v1h-1zM122 102h1v1h-1zM123 102h1v1h-1zM125 102h1v1h-1zM128 102h1v1h-1zM129 102h1v1h-1zM130 102h1v1h-1zM138 102h1v1h-1zM86 103h1v1h-1zM89 103h1v1h-1zM90 103h1v1h-1zM91 103h1v1h-1zM94 103h1v1h-1zM96 103h1v1h-1zM98 103h1v1h-1zM99 103h1v1h-1zM100 103h1v1h-1zM101 103h1v1h-1zM103 103h1v1h-1zM104 103h1v1h-1zM105 103h1v1h-1zM106 103h1v1h-1zM107 103h1v1h-1zM108 103h1v1h-1zM109 103h1v1h-1zM110 103h1v1h-1zM111 103h1v1h-1zM112 103h1v1h-1zM113 103h1v1h-1zM114 103h1v1h-1zM115 103h1v1h-1zM116 103h1v1h-1zM117 103h1v1h-1zM118 103h1v1h-1zM119 103h1v1h-1zM120 103h1v1h-1zM122 103h1v1h-1zM123 103h1v1h-1zM125 103h1v1h-1zM129 103h1v1h-1zM130 103h1v1h-1zM133 103h1v1h-1zM138 103h1v1h-1zM85 104h1v1h-1zM88 104h1v1h-1zM91 104h1v1h-1zM92 104h1v1h-1zM95 104h1v1h-1zM96 104h1v1h-1zM99 104h1v1h-1zM102 104h1v1h-1zM103 104h1v1h-1zM104 104h1v1h-1zM106 104h1v1h-1zM107 104h1v1h-1zM108 104h1v1h-1zM109 104h1v1h-1zM110 104h1v1h-1zM111 104h1v1h-1zM112 104h1v1h-1zM113 104h1v1h-1zM114 104h1v1h-1zM115 104h1v1h-1zM116 104h1v1h-1zM117 104h1v1h-1zM118 104h1v1h-1zM119 104h1v1h-1zM120 104h1v1h-1zM121 104h1v1h-1zM123 104h1v1h-1zM127 104h1v1h-1zM129 104h1v1h-1zM132 104h1v1h-1zM133 104h1v1h-1zM87 105h1v1h-1zM90 105h1v1h-1zM93 105h1v1h-1zM94 105h1v1h-1zM96 105h1v1h-1zM98 105h1v1h-1zM99 105h1v1h-1zM100 105h1v1h-1zM102 105h1v1h-1zM103 105h1v1h-1zM104 105h1v1h-1zM105 105h1v1h-1zM106 105h1v1h-1zM107 105h1v1h-1zM108 105h1v1h-1zM109 105h1v1h-1zM110 105h1v1h-1zM111 105h1v1h-1zM112 105h1v1h-1zM113 105h1v1h-1zM114 105h1v1h-1zM115 105h1v1h-1zM116 105h1v1h-1zM117 105h1v1h-1zM118 105h1v1h-1zM119 105h1v1h-1zM120 105h1v1h-1zM121 105h1v1h-1zM122 105h1v1h-1zM123 105h1v1h-1zM125 105h1v1h-1zM128 105h1v1h-1zM131 105h1v1h-1zM89 106h1v1h-1zM90 106h1v1h-1zM94 106h1v1h-1zM96 106h1v1h-1zM97 106h1v1h-1zM98 106h1v1h-1zM99 106h1v1h-1zM100 106h1v1h-1zM101 106h1v1h-1zM102 106h1v1h-1zM103 106h1v1h-1zM104 106h1v1h-1zM105 106h1v1h-1zM106 106h1v1h-1zM107 106h1v1h-1zM108 106h1v1h-1zM109 106h1v1h-1zM111 106h1v1h-1zM112 106h1v1h-1zM113 106h1v1h-1zM114 106h1v1h-1zM115 106h1v1h-1zM116 106h1v1h-1zM117 106h1v1h-1zM119 106h1v1h-1zM120 106h1v1h-1zM122 106h1v1h-1zM123 106h1v1h-1zM125 106h1v1h-1zM126 106h1v1h-1zM129 106h1v1h-1zM132 106h1v1h-1zM134 106h1v1h-1zM138 106h1v1h-1zM89 107h1v1h-1zM92 107h1v1h-1zM93 107h1v1h-1zM94 107h1v1h-1zM95 107h1v1h-1zM96 107h1v1h-1zM97 107h1v1h-1zM98 107h1v1h-1zM99 107h1v1h-1zM100 107h1v1h-1zM101 107h1v1h-1zM102 107h1v1h-1zM103 107h1v1h-1zM104 107h1v1h-1zM105 107h1v1h-1zM106 107h1v1h-1zM107 107h1v1h-1zM108 107h1v1h-1zM109 107h1v1h-1zM110 107h1v1h-1zM111 107h1v1h-1zM112 107h1v1h-1zM113 107h1v1h-1zM114 107h1v1h-1zM115 107h1v1h-1zM116 107h1v1h-1zM118 107h1v1h-1zM119 107h1v1h-1zM120 107h1v1h-1zM123 107h1v1h-1zM128 107h1v1h-1zM130 107h1v1h-1zM131 107h1v1h-1zM84 108h1v1h-1zM89 108h1v1h-1zM90 108h1v1h-1zM92 108h1v1h-1zM93 108h1v1h-1zM94 108h1v1h-1zM95 108h1v1h-1zM96 108h1v1h-1zM97 108h1v1h-1zM98 108h1v1h-1zM99 108h1v1h-1zM100 108h1v1h-1zM101 108h1v1h-1zM102 108h1v1h-1zM103 108h1v1h-1zM105 108h1v1h-1zM106 108h1v1h-1zM107 108h1v1h-1zM108 108h1v1h-1zM109 108h1v1h-1zM110 108h1v1h-1zM111 108h1v1h-1zM112 108h1v1h-1zM113 108h1v1h-1zM114 108h1v1h-1zM115 108h1v1h-1zM116 108h1v1h-1zM117 108h1v1h-1zM119 108h1v1h-1zM120 108h1v1h-1zM122 108h1v1h-1zM123 108h1v1h-1zM82 109h1v1h-1zM87 109h1v1h-1zM91 109h1v1h-1zM92 109h1v1h-1zM94 109h1v1h-1zM95 109h1v1h-1zM96 109h1v1h-1zM97 109h1v1h-1zM98 109h1v1h-1zM99 109h1v1h-1zM100 109h1v1h-1zM101 109h1v1h-1zM102 109h1v1h-1zM103 109h1v1h-1zM104 109h1v1h-1zM105 109h1v1h-1zM106 109h1v1h-1zM107 109h1v1h-1zM108 109h1v1h-1zM109 109h1v1h-1zM110 109h1v1h-1zM111 109h1v1h-1zM112 109h1v1h-1zM113 109h1v1h-1zM114 109h1v1h-1zM115 109h1v1h-1zM117 109h1v1h-1zM118 109h1v1h-1zM120 109h1v1h-1zM121 109h1v1h-1zM123 109h1v1h-1zM125 109h1v1h-1zM126 109h1v1h-1zM130 109h1v1h-1zM133 109h1v1h-1zM135 109h1v1h-1zM85 110h1v1h-1zM86 110h1v1h-1zM89 110h1v1h-1zM90 110h1v1h-1zM91 110h1v1h-1zM92 110h1v1h-1zM93 110h1v1h-1zM95 110h1v1h-1zM96 110h1v1h-1zM97 110h1v1h-1zM98 110h1v1h-1zM99 110h1v1h-1zM100 110h1v1h-1zM101 110h1v1h-1zM102 110h1v1h-1zM103 110h1v1h-1zM104 110h1v1h-1zM105 110h1v1h-1zM106 110h1v1h-1zM107 110h1v1h-1zM108 110h1v1h-1zM109 110h1v1h-1zM110 110h1v1h-1zM111 110h1v1h-1zM112 110h1v1h-1zM113 110h1v1h-1zM114 110h1v1h-1zM115 110h1v1h-1zM118 110h1v1h-1zM119 110h1v1h-1zM121 110h1v1h-1zM124 110h1v1h-1zM127 110h1v1h-1zM130 110h1v1h-1zM137 110h1v1h-1zM81 111h1v1h-1zM86 111h1v1h-1zM88 111h1v1h-1zM90 111h1v1h-1zM91 111h1v1h-1zM92 111h1v1h-1zM93 111h1v1h-1zM94 111h1v1h-1zM95 111h1v1h-1zM96 111h1v1h-1zM97 111h1v1h-1zM98 111h1v1h-1zM99 111h1v1h-1zM100 111h1v1h-1zM101 111h1v1h-1zM102 111h1v1h-1zM103 111h1v1h-1zM104 111h1v1h-1zM106 111h1v1h-1zM107 111h1v1h-1zM108 111h1v1h-1zM109 111h1v1h-1zM110 111h1v1h-1zM111 111h1v1h-1zM112 111h1v1h-1zM113 111h1v1h-1zM114 111h1v1h-1zM116 111h1v1h-1zM117 111h1v1h-1zM118 111h1v1h-1zM119 111h1v1h-1zM120 111h1v1h-1zM121 111h1v1h-1zM122 111h1v1h-1zM124 111h1v1h-1zM128 111h1v1h-1zM84 112h1v1h-1zM89 112h1v1h-1zM90 112h1v1h-1zM91 112h1v1h-1zM92 112h1v1h-1zM93 112h1v1h-1zM94 112h1v1h-1zM95 112h1v1h-1zM96 112h1v1h-1zM97 112h1v1h-1zM98 112h1v1h-1zM99 112h1v1h-1zM100 112h1v1h-1zM101 112h1v1h-1zM102 112h1v1h-1zM103 112h1v1h-1zM104 112h1v1h-1zM105 112h1v1h-1zM106 112h1v1h-1zM107 112h1v1h-1zM108 112h1v1h-1zM109 112h1v1h-1zM110 112h1v1h-1zM111 112h1v1h-1zM112 112h1v1h-1zM114 112h1v1h-1zM115 112h1v1h-1zM116 112h1v1h-1zM117 112h1v1h-1zM123 112h1v1h-1zM127 112h1v1h-1zM137 112h1v1h-1zM139 112h1v1h-1zM84 113h1v1h-1zM85 113h1v1h-1zM86 113h1v1h-1zM87 113h1v1h-1zM88 113h1v1h-1zM89 113h1v1h-1zM90 113h1v1h-1zM92 113h1v1h-1zM93 113h1v1h-1zM94 113h1v1h-1zM95 113h1v1h-1zM96 113h1v1h-1zM97 113h1v1h-1zM98 113h1v1h-1zM99 113h1v1h-1zM100 113h1v1h-1zM101 113h1v1h-1zM102 113h1v1h-1zM103 113h1v1h-1zM104 113h1v1h-1zM105 113h1v1h-1zM106 113h1v1h-1zM107 113h1v1h-1zM108 113h1v1h-1zM109 113h1v1h-1zM110 113h1v1h-1zM112 113h1v1h-1zM114 113h1v1h-1zM115 113h1v1h-1zM116 113h1v1h-1zM117 113h1v1h-1zM118 113h1v1h-1zM123 113h1v1h-1zM127 113h1v1h-1zM86 114h1v1h-1zM87 114h1v1h-1zM88 114h1v1h-1zM90 114h1v1h-1zM91 114h1v1h-1zM93 114h1v1h-1zM94 114h1v1h-1zM95 114h1v1h-1zM96 114h1v1h-1zM97 114h1v1h-1zM98 114h1v1h-1zM99 114h1v1h-1zM100 114h1v1h-1zM101 114h1v1h-1zM103 114h1v1h-1zM104 114h1v1h-1zM105 114h1v1h-1zM106 114h1v1h-1zM107 114h1v1h-1zM108 114h1v1h-1zM109 114h1v1h-1zM110 114h1v1h-1zM111 114h1v1h-1zM112 114h1v1h-1zM113 114h1v1h-1zM114 114h1v1h-1zM116 114h1v1h-1zM121 114h1v1h-1zM126 114h1v1h-1zM80 115h1v1h-1zM84 115h1v1h-1zM85 115h1v1h-1zM87 115h1v1h-1zM88 115h1v1h-1zM89 115h1v1h-1zM90 115h1v1h-1zM91 115h1v1h-1zM93 115h1v1h-1zM94 115h1v1h-1zM95 115h1v1h-1zM96 115h1v1h-1zM97 115h1v1h-1zM98 115h1v1h-1zM99 115h1v1h-1zM100 115h1v1h-1zM101 115h1v1h-1zM102 115h1v1h-1zM103 115h1v1h-1zM104 115h1v1h-1zM105 115h1v1h-1zM106 115h1v1h-1zM108 115h1v1h-1zM109 115h1v1h-1zM110 115h1v1h-1zM111 115h1v1h-1zM113 115h1v1h-1zM116 115h1v1h-1zM117 115h1v1h-1zM118 115h1v1h-1zM119 115h1v1h-1zM120 115h1v1h-1zM122 115h1v1h-1zM124 115h1v1h-1zM125 115h1v1h-1zM129 115h1v1h-1zM79 116h1v1h-1zM80 116h1v1h-1zM82 116h1v1h-1zM87 116h1v1h-1zM88 116h1v1h-1zM89 116h1v1h-1zM90 116h1v1h-1zM91 116h1v1h-1zM92 116h1v1h-1zM93 116h1v1h-1zM94 116h1v1h-1zM95 116h1v1h-1zM96 116h1v1h-1zM97 116h1v1h-1zM98 116h1v1h-1zM99 116h1v1h-1zM100 116h1v1h-1zM101 116h1v1h-1zM102 116h1v1h-1zM103 116h1v1h-1zM104 116h1v1h-1zM105 116h1v1h-1zM106 116h1v1h-1zM108 116h1v1h-1zM110 116h1v1h-1zM112 116h1v1h-1zM115 116h1v1h-1zM118 116h1v1h-1zM120 116h1v1h-1zM121 116h1v1h-1zM122 116h1v1h-1zM125 116h1v1h-1zM134 116h1v1h-1zM81 117h1v1h-1zM82 117h1v1h-1zM86 117h1v1h-1zM88 117h1v1h-1zM89 117h1v1h-1zM90 117h1v1h-1zM92 117h1v1h-1zM93 117h1v1h-1zM94 117h1v1h-1zM95 117h1v1h-1zM96 117h1v1h-1zM97 117h1v1h-1zM98 117h1v1h-1zM99 117h1v1h-1zM100 117h1v1h-1zM101 117h1v1h-1zM102 117h1v1h-1zM103 117h1v1h-1zM104 117h1v1h-1zM105 117h1v1h-1zM106 117h1v1h-1zM107 117h1v1h-1zM108 117h1v1h-1zM109 117h1v1h-1zM111 117h1v1h-1zM112 117h1v1h-1zM113 117h1v1h-1zM117 117h1v1h-1zM121 117h1v1h-1zM122 117h1v1h-1zM130 117h1v1h-1zM138 117h1v1h-1zM80 118h1v1h-1zM81 118h1v1h-1zM82 118h1v1h-1zM84 118h1v1h-1zM85 118h1v1h-1zM86 118h1v1h-1zM87 118h1v1h-1zM88 118h1v1h-1zM89 118h1v1h-1zM91 118h1v1h-1zM92 118h1v1h-1zM93 118h1v1h-1zM94 118h1v1h-1zM95 118h1v1h-1zM96 118h1v1h-1zM97 118h1v1h-1zM98 118h1v1h-1zM99 118h1v1h-1zM100 118h1v1h-1zM101 118h1v1h-1zM102 118h1v1h-1zM103 118h1v1h-1zM104 118h1v1h-1zM105 118h1v1h-1zM107 118h1v1h-1zM108 118h1v1h-1zM109 118h1v1h-1zM111 118h1v1h-1zM114 118h1v1h-1zM125 118h1v1h-1zM130 118h1v1h-1zM133 118h1v1h-1zM82 119h1v1h-1zM83 119h1v1h-1zM85 119h1v1h-1zM89 119h1v1h-1zM90 119h1v1h-1zM91 119h1v1h-1zM92 119h1v1h-1zM93 119h1v1h-1zM95 119h1v1h-1zM96 119h1v1h-1zM97 119h1v1h-1zM98 119h1v1h-1zM99 119h1v1h-1zM100 119h1v1h-1zM101 119h1v1h-1zM102 119h1v1h-1zM104 119h1v1h-1zM105 119h1v1h-1zM106 119h1v1h-1zM109 119h1v1h-1zM112 119h1v1h-1zM116 119h1v1h-1zM81 120h1v1h-1zM85 120h1v1h-1zM86 120h1v1h-1zM87 120h1v1h-1zM89 120h1v1h-1zM90 120h1v1h-1zM91 120h1v1h-1zM92 120h1v1h-1zM93 120h1v1h-1zM94 120h1v1h-1zM95 120h1v1h-1zM96 120h1v1h-1zM97 120h1v1h-1zM98 120h1v1h-1zM99 120h1v1h-1zM100 120h1v1h-1zM102 120h1v1h-1zM103 120h1v1h-1zM105 120h1v1h-1zM109 120h1v1h-1zM111 120h1v1h-1zM112 120h1v1h-1zM116 120h1v1h-1zM130 120h1v1h-1zM134 120h1v1h-1zM80 121h1v1h-1zM81 121h1v1h-1zM82 121h1v1h-1zM83 121h1v1h-1zM84 121h1v1h-1zM85 121h1v1h-1zM87 121h1v1h-1zM88 121h1v1h-1zM90 121h1v1h-1zM91 121h1v1h-1zM92 121h1v1h-1zM93 121h1v1h-1zM94 121h1v1h-1zM95 121h1v1h-1zM96 121h1v1h-1zM97 121h1v1h-1zM98 121h1v1h-1zM99 121h1v1h-1zM100 121h1v1h-1zM101 121h1v1h-1zM103 121h1v1h-1zM104 121h1v1h-1zM105 121h1v1h-1zM107 121h1v1h-1zM111 121h1v1h-1zM112 121h1v1h-1zM114 121h1v1h-1zM79 122h1v1h-1zM80 122h1v1h-1zM81 122h1v1h-1zM82 122h1v1h-1zM83 122h1v1h-1zM85 122h1v1h-1zM86 122h1v1h-1zM87 122h1v1h-1zM88 122h1v1h-1zM89 122h1v1h-1zM90 122h1v1h-1zM91 122h1v1h-1zM92 122h1v1h-1zM93 122h1v1h-1zM94 122h1v1h-1zM96 122h1v1h-1zM98 122h1v1h-1zM102 122h1v1h-1zM104 122h1v1h-1zM105 122h1v1h-1zM106 122h1v1h-1zM107 122h1v1h-1zM109 122h1v1h-1zM114 122h1v1h-1zM130 122h1v1h-1zM134 122h1v1h-1zM78 123h1v1h-1zM80 123h1v1h-1zM82 123h1v1h-1zM83 123h1v1h-1zM84 123h1v1h-1zM86 123h1v1h-1zM87 123h1v1h-1zM88 123h1v1h-1zM89 123h1v1h-1zM90 123h1v1h-1zM91 123h1v1h-1zM92 123h1v1h-1zM93 123h1v1h-1zM94 123h1v1h-1zM95 123h1v1h-1zM96 123h1v1h-1zM97 123h1v1h-1zM100 123h1v1h-1zM102 123h1v1h-1zM104 123h1v1h-1zM106 123h1v1h-1zM107 123h1v1h-1zM108 123h1v1h-1zM112 123h1v1h-1zM115 123h1v1h-1zM116 123h1v1h-1zM78 124h1v1h-1zM82 124h1v1h-1zM85 124h1v1h-1zM86 124h1v1h-1zM87 124h1v1h-1zM88 124h1v1h-1zM89 124h1v1h-1zM90 124h1v1h-1zM91 124h1v1h-1zM92 124h1v1h-1zM93 124h1v1h-1zM95 124h1v1h-1zM97 124h1v1h-1zM99 124h1v1h-1zM100 124h1v1h-1zM102 124h1v1h-1zM103 124h1v1h-1zM111 124h1v1h-1zM112 124h1v1h-1zM116 124h1v1h-1zM124 124h1v1h-1zM78 125h1v1h-1zM79 125h1v1h-1zM81 125h1v1h-1zM82 125h1v1h-1zM83 125h1v1h-1zM84 125h1v1h-1zM86 125h1v1h-1zM87 125h1v1h-1zM89 125h1v1h-1zM90 125h1v1h-1zM92 125h1v1h-1zM93 125h1v1h-1zM94 125h1v1h-1zM99 125h1v1h-1zM100 125h1v1h-1zM101 125h1v1h-1zM103 125h1v1h-1zM104 125h1v1h-1zM105 125h1v1h-1zM108 125h1v1h-1zM116 125h1v1h-1zM78 126h1v1h-1zM80 126h1v1h-1zM81 126h1v1h-1zM83 126h1v1h-1zM84 126h1v1h-1zM87 126h1v1h-1zM91 126h1v1h-1zM92 126h1v1h-1zM93 126h1v1h-1zM94 126h1v1h-1zM95 126h1v1h-1zM97 126h1v1h-1zM99 126h1v1h-1zM100 126h1v1h-1zM101 126h1v1h-1zM103 126h1v1h-1zM104 126h1v1h-1zM107 126h1v1h-1zM108 126h1v1h-1zM126 126h1v1h-1zM131 126h1v1h-1zM77 127h1v1h-1zM79 127h1v1h-1zM80 127h1v1h-1zM82 127h1v1h-1zM83 127h1v1h-1zM84 127h1v1h-1zM85 127h1v1h-1zM86 127h1v1h-1zM89 127h1v1h-1zM90 127h1v1h-1zM91 127h1v1h-1zM93 127h1v1h-1zM103 127h1v1h-1zM120 127h1v1h-1zM81 128h1v1h-1zM83 128h1v1h-1zM85 128h1v1h-1zM87 128h1v1h-1zM88 128h1v1h-1zM89 128h1v1h-1zM90 128h1v1h-1zM91 128h1v1h-1zM92 128h1v1h-1zM93 128h1v1h-1zM95 128h1v1h-1zM97 128h1v1h-1zM98 128h1v1h-1zM104 128h1v1h-1zM105 128h1v1h-1zM125 128h1v1h-1zM78 129h1v1h-1zM81 129h1v1h-1zM82 129h1v1h-1zM83 129h1v1h-1zM84 129h1v1h-1zM86 129h1v1h-1zM87 129h1v1h-1zM88 129h1v1h-1zM89 129h1v1h-1zM90 129h1v1h-1zM92 129h1v1h-1zM96 129h1v1h-1zM108 129h1v1h-1zM113 129h1v1h-1zM117 129h1v1h-1zM78 130h1v1h-1zM84 130h1v1h-1zM85 130h1v1h-1zM86 130h1v1h-1zM90 130h1v1h-1zM91 130h1v1h-1zM92 130h1v1h-1zM95 130h1v1h-1zM96 130h1v1h-1zM98 130h1v1h-1zM100 130h1v1h-1zM105 130h1v1h-1zM106 130h1v1h-1zM78 131h1v1h-1zM81 131h1v1h-1zM82 131h1v1h-1zM83 131h1v1h-1zM87 131h1v1h-1zM88 131h1v1h-1zM90 131h1v1h-1zM91 131h1v1h-1zM93 131h1v1h-1zM96 131h1v1h-1zM102 131h1v1h-1zM103 131h1v1h-1zM108 131h1v1h-1zM109 131h1v1h-1zM113 131h1v1h-1zM120 131h1v1h-1zM82 132h1v1h-1zM83 132h1v1h-1zM86 132h1v1h-1zM89 132h1v1h-1zM100 132h1v1h-1zM112 132h1v1h-1zM117 132h1v1h-1zM120 132h1v1h-1zM124 132h1v1h-1zM78 133h1v1h-1zM81 133h1v1h-1zM82 133h1v1h-1zM83 133h1v1h-1zM86 133h1v1h-1zM89 133h1v1h-1zM91 133h1v1h-1zM93 133h1v1h-1zM95 133h1v1h-1zM97 133h1v1h-1zM99 133h1v1h-1zM102 133h1v1h-1zM106 133h1v1h-1zM109 133h1v1h-1zM111 133h1v1h-1zM113 133h1v1h-1zM120 133h1v1h-1zM80 134h1v1h-1zM82 134h1v1h-1zM85 134h1v1h-1zM87 134h1v1h-1zM92 134h1v1h-1zM100 134h1v1h-1zM106 134h1v1h-1zM116 134h1v1h-1zM78 135h1v1h-1zM80 135h1v1h-1zM85 135h1v1h-1zM87 135h1v1h-1zM89 135h1v1h-1zM90 135h1v1h-1zM91 135h1v1h-1zM92 135h1v1h-1zM100 135h1v1h-1zM102 135h1v1h-1zM107 135h1v1h-1zM113 135h1v1h-1zM78 136h1v1h-1zM82 136h1v1h-1zM85 136h1v1h-1zM86 136h1v1h-1zM93 136h1v1h-1zM108 136h1v1h-1zM113 136h1v1h-1zM115 136h1v1h-1zM117 136h1v1h-1zM81 137h1v1h-1zM82 137h1v1h-1zM84 137h1v1h-1zM99 137h1v1h-1zM100 137h1v1h-1zM104 137h1v1h-1zM105 137h1v1h-1zM80 138h1v1h-1zM84 138h1v1h-1zM86 138h1v1h-1zM91 138h1v1h-1zM99 138h1v1h-1zM115 138h1v1h-1zM81 139h1v1h-1zM88 139h1v1h-1zM90 139h1v1h-1zM91 139h1v1h-1zM92 139h1v1h-1zM97 139h1v1h-1zM81 140h1v1h-1zM83 140h1v1h-1zM93 140h1v1h-1zM98 140h1v1h-1zM86 141h1v1h-1zM87 141h1v1h-1zM98 141h1v1h-1zM103 141h1v1h-1zM99 142h1v1h-1zM104 142h1v1h-1zM109 142h1v1h-1zM81 143h1v1h-1zM85 143h1v1h-1zM95 144h1v1h-1zM89 145h1v1h-1zM89 146h1v1h-1z" fill="#28b628"/>
<path d="M182 48h1v1h-1zM185 48h1v1h-1zM186 48h1v1h-1zM191 49h1v1h-1zM177 50h1v1h-1zM181 50h1v1h-1zM183 50h1v1h-1zM186 50h1v1h-1zM191 50h1v1h-1zM164 51h1v1h-1zM168 51h1v1h-1zM170 51h1v1h-1zM174 51h1v1h-1zM175 51h1v1h-1zM176 51h1v1h-1zM182 51h1v1h-1zM183 51h1v1h-1zM189 51h1v1h-1zM190 51h1v1h-1zM162 52h1v1h-1zM180 52h1v1h-1zM181 52h1v1h-1zM182 52h1v1h-1zM185 52h1v1h-1zM187 52h1v1h-1zM189 52h1v1h-1zM192 52h1v1h-1zM155 53h1v1h-1zM178 53h1v1h-1zM180 53h1v1h-1zM182 53h1v1h-1zM183 53h1v1h-1zM189 53h1v1h-1zM190 53h1v1h-1zM193 53h1v1h-1zM152 54h1v1h-1zM173 54h1v1h-1zM178 54h1v1h-1zM184 54h1v1h-1zM185 54h1v1h-1zM186 54h1v1h-1zM192 54h1v1h-1zM193 54h1v1h-1zM180 55h1v1h-1zM183 55h1v1h-1zM186 55h1v1h-1zM189 55h1v1h-1zM191 55h1v1h-1zM164 56h1v1h-1zM171 56h1v1h-1zM180 56h1v1h-1zM183 56h1v1h-1zM186 56h1v1h-1zM188 56h1v1h-1zM190 56h1v1h-1zM149 57h1v1h-1zM154 57h1v1h-1zM162 57h1v1h-1zM178 57h1v1h-1zM179 57h1v1h-1zM180 57h1v1h-1zM184 57h1v1h-1zM185 57h1v1h-1zM188 57h1v1h-1zM189 57h1v1h-1zM190 57h1v1h-1zM193 57h1v1h-1zM142 58h1v1h-1zM179 58h1v1h-1zM183 58h1v1h-1zM184 58h1v1h-1zM186 58h1v1h-1zM190 58h1v1h-1zM192 58h1v1h-1zM195 58h1v1h-1zM161 59h1v1h-1zM176 59h1v1h-1zM181 59h1v1h-1zM183 59h1v1h-1zM188 59h1v1h-1zM191 59h1v1h-1zM194 59h1v1h-1zM195 59h1v1h-1zM153 60h1v1h-1zM159 60h1v1h-1zM162 60h1v1h-1zM163 60h1v1h-1zM168 60h1v1h-1zM169 60h1v1h-1zM174 60h1v1h-1zM175 60h1v1h-1zM178 60h1v1h-1zM179 60h1v1h-1zM180 60h1v1h-1zM181 60h1v1h-1zM186 60h1v1h-1zM187 60h1v1h-1zM188 60h1v1h-1zM189 60h1v1h-1zM192 60h1v1h-1zM194 60h1v1h-1zM195 60h1v1h-1zM155 61h1v1h-1zM162 61h1v1h-1zM163 61h1v1h-1zM165 61h1v1h-1zM166 61h1v1h-1zM167 61h1v1h-1zM170 61h1v1h-1zM173 61h1v1h-1zM174 61h1v1h-1zM176 61h1v1h-1zM178 61h1v1h-1zM179 61h1v1h-1zM182 61h1v1h-1zM183 61h1v1h-1zM185 61h1v1h-1zM186 61h1v1h-1zM187 61h1v1h-1zM188 61h1v1h-1zM189 61h1v1h-1zM191 61h1v1h-1zM193 61h1v1h-1zM194 61h1v1h-1zM195 61h1v1h-1zM153 62h1v1h-1zM160 62h1v1h-1zM163 62h1v1h-1zM166 62h1v1h-1zM168 62h1v1h-1zM171 62h1v1h-1zM174 62h1v1h-1zM175 62h1v1h-1zM178 62h1v1h-1zM179 62h1v1h-1zM181 62h1v1h-1zM183 62h1v1h-1zM184 62h1v1h-1zM185 62h1v1h-1zM186 62h1v1h-1zM187 62h1v1h-1zM188 62h1v1h-1zM191 62h1v1h-1zM193 62h1v1h-1zM195 62h1v1h-1zM154 63h1v1h-1zM166 63h1v1h-1zM170 63h1v1h-1zM175 63h1v1h-1zM178 63h1v1h-1zM179 63h1v1h-1zM180 63h1v1h-1zM181 63h1v1h-1zM182 63h1v1h-1zM183 63h1v1h-1zM184 63h1v1h-1zM185 63h1v1h-1zM186 63h1v1h-1zM187 63h1v1h-1zM188 63h1v1h-1zM189 63h1v1h-1zM191 63h1v1h-1zM192 63h1v1h-1zM193 63h1v1h-1zM194 63h1v1h-1zM195 63h1v1h-1zM148 64h1v1h-1zM158 64h1v1h-1zM159 64h1v1h-1zM161 64h1v1h-1zM163 64h1v1h-1zM165 64h1v1h-1zM167 64h1v1h-1zM171 64h1v1h-1zM174 64h1v1h-1zM175 64h1v1h-1zM176 64h1v1h-1zM177 64h1v1h-1zM178 64h1v1h-1zM179 64h1v1h-1zM181 64h1v1h-1zM182 64h1v1h-1zM183 64h1v1h-1zM184 64h1v1h-1zM186 64h1v1h-1zM187 64h1v1h-1zM188 64h1v1h-1zM189 64h1v1h-1zM190 64h1v1h-1zM191 64h1v1h-1zM192 64h1v1h-1zM193 64h1v1h-1zM195 64h1v1h-1zM155 65h1v1h-1zM160 65h1v1h-1zM166 65h1v1h-1zM167 65h1v1h-1zM172 65h1v1h-1zM173 65h1v1h-1zM174 65h1v1h-1zM176 65h1v1h-1zM177 65h1v1h-1zM179 65h1v1h-1zM182 65h1v1h-1zM183 65h1v1h-1zM184 65h1v1h-1zM185 65h1v1h-1zM186 65h1v1h-1zM187 65h1v1h-1zM189 65h1v1h-1zM190 65h1v1h-1zM191 65h1v1h-1zM192 65h1v1h-1zM194 65h1v1h-1zM195 65h1v1h-1zM146 66h1v1h-1zM148 66h1v1h-1zM151 66h1v1h-1zM157 66h1v1h-1zM160 66h1v1h-1zM162 66h1v1h-1zM164 66h1v1h-1zM166 66h1v1h-1zM170 66h1v1h-1zM171 66h1v1h-1zM172 66h1v1h-1zM173 66h1v1h-1zM174 66h1v1h-1zM175 66h1v1h-1zM177 66h1v1h-1zM178 66h1v1h-1zM179 66h1v1h-1zM180 66h1v1h-1zM181 66h1v1h-1zM182 66h1v1h-1zM183 66h1v1h-1zM184 66h1v1h-1zM187 66h1v1h-1zM188 66h1v1h-1zM189 66h1v1h-1zM190 66h1v1h-1zM192 66h1v1h-1zM194 66h1v1h-1zM147 67h1v1h-1zM150 67h1v1h-1zM155 67h1v1h-1zM159 67h1v1h-1zM160 67h1v1h-1zM161 67h1v1h-1zM162 67h1v1h-1zM164 67h1v1h-1zM166 67h1v1h-1zM168 67h1v1h-1zM171 67h1v1h-1zM172 67h1v1h-1zM173 67h1v1h-1zM174 67h1v1h-1zM176 67h1v1h-1zM177 67h1v1h-1zM178 67h1v1h-1zM179 67h1v1h-1zM181 67h1v1h-1zM182 67h1v1h-1zM183 67h1v1h-1zM184 67h1v1h-1zM186 67h1v1h-1zM187 67h1v1h-1zM188 67h1v1h-1zM189 67h1v1h-1zM190 67h1v1h-1zM191 67h1v1h-1zM192 67h1v1h-1zM193 67h1v1h-1zM151 68h1v1h-1zM154 68h1v1h-1zM157 68h1v1h-1zM167 68h1v1h-1zM168 68h1v1h-1zM169 68h1v1h-1zM170 68h1v1h-1zM171 68h1v1h-1zM173 68h1v1h-1zM174 68h1v1h-1zM175 68h1v1h-1zM177 68h1v1h-1zM178 68h1v1h-1zM179 68h1v1h-1zM180 68h1v1h-1zM181 68h1v1h-1zM182 68h1v1h-1zM183 68h1v1h-1zM184 68h1v1h-1zM185 68h1v1h-1zM186 68h1v1h-1zM187 68h1v1h-1zM188 68h1v1h-1zM189 68h1v1h-1zM190 68h1v1h-1zM191 68h1v1h-1zM192 68h1v1h-1zM194 68h1v1h-1zM139 69h1v1h-1zM144 69h1v1h-1zM154 69h1v1h-1zM155 69h1v1h-1zM161 69h1v1h-1zM162 69h1v1h-1zM163 69h1v1h-1zM164 69h1v1h-1zM167 69h1v1h-1zM168 69h1v1h-1zM169 69h1v1h-1zM171 69h1v1h-1zM172 69h1v1h-1zM173 69h1v1h-1zM174 69h1v1h-1zM175 69h1v1h-1zM176 69h1v1h-1zM177 69h1v1h-1zM180 69h1v1h-1zM181 69h1v1h-1zM182 69h1v1h-1zM183 69h1v1h-1zM184 69h1v1h-1zM185 69h1v1h-1zM186 69h1v1h-1zM187 69h1v1h-1zM188 69h1v1h-1zM189 69h1v1h-1zM190 69h1v1h-1zM191 69h1v1h-1zM192 69h1v1h-1zM194 69h1v1h-1zM195 69h1v1h-1zM145 70h1v1h-1zM146 70h1v1h-1zM150 70h1v1h-1zM152 70h1v1h-1zM153 70h1v1h-1zM155 70h1v1h-1zM158 70h1v1h-1zM159 70h1v1h-1zM160 70h1v1h-1zM162 70h1v1h-1zM165 70h1v1h-1zM166 70h1v1h-1zM167 70h1v1h-1zM169 70h1v1h-1zM171 70h1v1h-1zM172 70h1v1h-1zM174 70h1v1h-1zM175 70h1v1h-1zM176 70h1v1h-1zM177 70h1v1h-1zM179 70h1v1h-1zM181 70h1v1h-1zM182 70h1v1h-1zM183 70h1v1h-1zM184 70h1v1h-1zM185 70h1v1h-1zM186 70h1v1h-1zM187 70h1v1h-1zM188 70h1v1h-1zM190 70h1v1h-1zM192 70h1v1h-1zM193 70h1v1h-1zM194 70h1v1h-1zM195 70h1v1h-1zM145 71h1v1h-1zM147 71h1v1h-1zM153 71h1v1h-1zM158 71h1v1h-1zM160 71h1v1h-1zM161 71h1v1h-1zM167 71h1v1h-1zM168 71h1v1h-1zM170 71h1v1h-1zM174 71h1v1h-1zM175 71h1v1h-1zM176 71h1v1h-1zM177 71h1v1h-1zM178 71h1v1h-1zM179 71h1v1h-1zM180 71h1v1h-1zM181 71h1v1h-1zM182 71h1v1h-1zM183 71h1v1h-1zM184 71h1v1h-1zM186 71h1v1h-1zM187 71h1v1h-1zM188 71h1v1h-1zM189 71h1v1h-1zM191 71h1v1h-1zM192 71h1v1h-1zM143 72h1v1h-1zM150 72h1v1h-1zM157 72h1v1h-1zM158 72h1v1h-1zM159 72h1v1h-1zM160 72h1v1h-1zM161 72h1v1h-1zM165 72h1v1h-1zM167 72h1v1h-1zM168 72h1v1h-1zM169 72h1v1h-1zM171 72h1v1h-1zM172 72h1v1h-1zM175 72h1v1h-1zM176 72h1v1h-1zM177 72h1v1h-1zM178 72h1v1h-1zM179 72h1v1h-1zM180 72h1v1h-1zM181 72h1v1h-1zM182 72h1v1h-1zM183 72h1v1h-1zM184 72h1v1h-1zM186 72h1v1h-1zM187 72h1v1h-1zM188 72h1v1h-1zM189 72h1v1h-1zM191 72h1v1h-1zM192 72h1v1h-1zM194 72h1v1h-1zM147 73h1v1h-1zM148 73h1v1h-1zM149 73h1v1h-1zM150 73h1v1h-1zM152 73h1v1h-1zM153 73h1v1h-1zM154 73h1v1h-1zM155 73h1v1h-1zM156 73h1v1h-1zM157 73h1v1h-1zM158 73h1v1h-1zM159 73h1v1h-1zM160 73h1v1h-1zM164 73h1v1h-1zM167 73h1v1h-1zM168 73h1v1h-1zM170 73h1v1h-1zM171 73h1v1h-1zM175 73h1v1h-1zM176 73h1v1h-1zM177 73h1v1h-1zM178 73h1v1h-1zM179 73h1v1h-1zM180 73h1v1h-1zM182 73h1v1h-1zM183 73h1v1h-1zM184 73h1v1h-1zM185 73h1v1h-1zM186 73h1v1h-1zM187 73h1v1h-1zM188 73h1v1h-1zM189 73h1v1h-1zM191 73h1v1h-1zM192 73h1v1h-1zM193 73h1v1h-1zM194 73h1v1h-1zM195 73h1v1h-1zM141 74h1v1h-1zM142 74h1v1h-1zM148 74h1v1h-1zM149 74h1v1h-1zM150 74h1v1h-1zM153 74h1v1h-1zM154 74h1v1h-1zM156 74h1v1h-1zM157 74h1v1h-1zM158 74h1v1h-1zM161 74h1v1h-1zM162 74h1v1h-1zM163 74h1v1h-1zM164 74h1v1h-1zM165 74h1v1h-1zM166 74h1v1h-1zM167 74h1v1h-1zM168 74h1v1h-1zM169 74h1v1h-1zM170 74h1v1h-1zM171 74h1v1h-1zM172 74h1v1h-1zM174 74h1v1h-1zM175 74h1v1h-1zM176 74h1v1h-1zM177 74h1v1h-1zM179 74h1v1h-1zM180 74h1v1h-1zM181 74h1v1h-1zM183 74h1v1h-1zM184 74h1v1h-1zM185 74h1v1h-1zM186 74h1v1h-1zM187 74h1v1h-1zM189 74h1v1h-1zM190 74h1v1h-1zM191 74h1v1h-1zM142 75h1v1h-1zM143 75h1v1h-1zM147 75h1v1h-1zM148 75h1v1h-1zM149 75h1v1h-1zM151 75h1v1h-1zM152 75h1v1h-1zM153 75h1v1h-1zM157 75h1v1h-1zM158 75h1v1h-1zM161 75h1v1h-1zM162 75h1v1h-1zM166 75h1v1h-1zM167 75h1v1h-1zM168 75h1v1h-1zM169 75h1v1h-1zM170 75h1v1h-1zM171 75h1v1h-1zM172 75h1v1h-1zM173 75h1v1h-1zM174 75h1v1h-1zM175 75h1v1h-1zM176 75h1v1h-1zM177 75h1v1h-1zM179 75h1v1h-1zM181 75h1v1h-1zM182 75h1v1h-1zM183 75h1v1h-1zM184 75h1v1h-1zM185 75h1v1h-1zM186 75h1v1h-1zM189 75h1v1h-1zM190 75h1v1h-1zM191 75h1v1h-1zM192 75h1v1h-1zM140 76h1v1h-1zM143 76h1v1h-1zM146 76h1v1h-1zM147 76h1v1h-1zM151 76h1v1h-1zM152 76h1v1h-1zM153 76h1v1h-1zM155 76h1v1h-1zM156 76h1v1h-1zM158 76h1v1h-1zM159 76h1v1h-1zM160 76h1v1h-1zM162 76h1v1h-1zM164 76h1v1h-1zM166 76h1v1h-1zM167 76h1v1h-1zM169 76h1v1h-1zM171 76h1v1h-1zM172 76h1v1h-1zM174 76h1v1h-1zM175 76h1v1h-1zM176 76h1v1h-1zM177 76h1v1h-1zM181 76h1v1h-1zM182 76h1v1h-1zM183 76h1v1h-1zM184 76h1v1h-1zM185 76h1v1h-1zM186 76h1v1h-1zM187 76h1v1h-1zM188 76h1v1h-1zM189 76h1v1h-1zM190 76h1v1h-1zM193 76h1v1h-1zM146 77h1v1h-1zM147 77h1v1h-1zM153 77h1v1h-1zM155 77h1v1h-1zM156 77h1v1h-1zM157 77h1v1h-1zM159 77h1v1h-1zM160 77h1v1h-1zM161 77h1v1h-1zM164 77h1v1h-1zM166 77h1v1h-1zM168 77h1v1h-1zM169 77h1v1h-1zM172 77h1v1h-1zM173 77h1v1h-1zM175 77h1v1h-1zM176 77h1v1h-1zM177 77h1v1h-1zM178 77h1v1h-1zM179 77h1v1h-1zM180 77h1v1h-1zM181 77h1v1h-1zM182 77h1v1h-1zM184 77h1v1h-1zM186 77h1v1h-1zM187 77h1v1h-1zM190 77h1v1h-1zM191 77h1v1h-1zM192 77h1v1h-1zM193 77h1v1h-1zM195 77h1v1h-1zM146 78h1v1h-1zM147 78h1v1h-1zM149 78h1v1h-1zM150 78h1v1h-1zM152 78h1v1h-1zM155 78h1v1h-1zM156 78h1v1h-1zM157 78h1v1h-1zM158 78h1v1h-1zM159 78h1v1h-1zM161 78h1v1h-1zM162 78h1v1h-1zM166 78h1v1h-1zM167 78h1v1h-1zM168 78h1v1h-1zM169 78h1v1h-1zM171 78h1v1h-1zM173 78h1v1h-1zM174 78h1v1h-1zM177 78h1v1h-1zM179 78h1v1h-1zM180 78h1v1h-1zM181 78h1v1h-1zM183 78h1v1h-1zM185 78h1v1h-1zM186 78h1v1h-1zM187 78h1v1h-1zM188 78h1v1h-1zM189 78h1v1h-1zM192 78h1v1h-1zM139 79h1v1h-1zM143 79h1v1h-1zM146 79h1v1h-1zM147 79h1v1h-1zM149 79h1v1h-1zM150 79h1v1h-1zM151 79h1v1h-1zM152 79h1v1h-1zM155 79h1v1h-1zM156 79h1v1h-1zM158 79h1v1h-1zM159 79h1v1h-1zM160 79h1v1h-1zM162 79h1v1h-1zM163 79h1v1h-1zM164 79h1v1h-1zM165 79h1v1h-1zM166 79h1v1h-1zM167 79h1v1h-1zM170 79h1v1h-1zM173 79h1v1h-1zM178 79h1v1h-1zM179 79h1v1h-1zM181 79h1v1h-1zM182 79h1v1h-1zM183 79h1v1h-1zM185 79h1v1h-1zM186 79h1v1h-1zM187 79h1v1h-1zM191 79h1v1h-1zM192 79h1v1h-1zM193 79h1v1h-1zM194 79h1v1h-1zM195 79h1v1h-1zM139 80h1v1h-1zM140 80h1v1h-1zM143 80h1v1h-1zM144 80h1v1h-1zM147 80h1v1h-1zM149 80h1v1h-1zM152 80h1v1h-1zM155 80h1v1h-1zM157 80h1v1h-1zM158 80h1v1h-1zM159 80h1v1h-1zM160 80h1v1h-1zM162 80h1v1h-1zM164 80h1v1h-1zM165 80h1v1h-1zM166 80h1v1h-1zM167 80h1v1h-1zM168 80h1v1h-1zM171 80h1v1h-1zM172 80h1v1h-1zM176 80h1v1h-1zM177 80h1v1h-1zM178 80h1v1h-1zM179 80h1v1h-1zM180 80h1v1h-1zM181 80h1v1h-1zM182 80h1v1h-1zM183 80h1v1h-1zM184 80h1v1h-1zM185 80h1v1h-1zM188 80h1v1h-1zM189 80h1v1h-1zM190 80h1v1h-1zM193 80h1v1h-1zM195 80h1v1h-1zM141 81h1v1h-1zM142 81h1v1h-1zM146 81h1v1h-1zM148 81h1v1h-1zM149 81h1v1h-1zM150 81h1v1h-1zM151 81h1v1h-1zM152 81h1v1h-1zM153 81h1v1h-1zM154 81h1v1h-1zM156 81h1v1h-1zM157 81h1v1h-1zM158 81h1v1h-1zM159 81h1v1h-1zM160 81h1v1h-1zM162 81h1v1h-1zM167 81h1v1h-1zM169 81h1v1h-1zM170 81h1v1h-1zM172 81h1v1h-1zM176 81h1v1h-1zM178 81h1v1h-1zM179 81h1v1h-1zM182 81h1v1h-1zM183 81h1v1h-1zM185 81h1v1h-1zM186 81h1v1h-1zM187 81h1v1h-1zM190 81h1v1h-1zM191 81h1v1h-1zM139 82h1v1h-1zM140 82h1v1h-1zM143 82h1v1h-1zM147 82h1v1h-1zM149 82h1v1h-1zM150 82h1v1h-1zM151 82h1v1h-1zM154 82h1v1h-1zM155 82h1v1h-1zM157 82h1v1h-1zM159 82h1v1h-1zM160 82h1v1h-1zM162 82h1v1h-1zM165 82h1v1h-1zM166 82h1v1h-1zM168 82h1v1h-1zM169 82h1v1h-1zM172 82h1v1h-1zM174 82h1v1h-1zM175 82h1v1h-1zM176 82h1v1h-1zM179 82h1v1h-1zM180 82h1v1h-1zM182 82h1v1h-1zM183 82h1v1h-1zM184 82h1v1h-1zM187 82h1v1h-1zM188 82h1v1h-1zM190 82h1v1h-1zM191 82h1v1h-1zM192 82h1v1h-1zM140 83h1v1h-1zM142 83h1v1h-1zM143 83h1v1h-1zM145 83h1v1h-1zM148 83h1v1h-1zM158 83h1v1h-1zM161 83h1v1h-1zM162 83h1v1h-1zM163 83h1v1h-1zM164 83h1v1h-1zM168 83h1v1h-1zM169 83h1v1h-1zM172 83h1v1h-1zM173 83h1v1h-1zM174 83h1v1h-1zM175 83h1v1h-1zM178 83h1v1h-1zM180 83h1v1h-1zM181 83h1v1h-1zM183 83h1v1h-1zM184 83h1v1h-1zM186 83h1v1h-1zM187 83h1v1h-1zM189 83h1v1h-1zM190 83h1v1h-1zM191 83h1v1h-1zM142 84h1v1h-1zM143 84h1v1h-1zM147 84h1v1h-1zM148 84h1v1h-1zM149 84h1v1h-1zM150 84h1v1h-1zM152 84h1v1h-1zM153 84h1v1h-1zM154 84h1v1h-1zM158 84h1v1h-1zM159 84h1v1h-1zM161 84h1v1h-1zM164 84h1v1h-1zM167 84h1v1h-1zM170 84h1v1h-1zM176 84h1v1h-1zM177 84h1v1h-1zM179 84h1v1h-1zM180 84h1v1h-1zM181 84h1v1h-1zM183 84h1v1h-1zM186 84h1v1h-1zM189 84h1v1h-1zM190 84h1v1h-1zM191 84h1v1h-1zM139 85h1v1h-1zM144 85h1v1h-1zM148 85h1v1h-1zM152 85h1v1h-1zM153 85h1v1h-1zM154 85h1v1h-1zM155 85h1v1h-1zM156 85h1v1h-1zM157 85h1v1h-1zM158 85h1v1h-1zM159 85h1v1h-1zM161 85h1v1h-1zM163 85h1v1h-1zM165 85h1v1h-1zM166 85h1v1h-1zM172 85h1v1h-1zM173 85h1v1h-1zM174 85h1v1h-1zM180 85h1v1h-1zM181 85h1v1h-1zM182 85h1v1h-1zM183 85h1v1h-1zM185 85h1v1h-1zM186 85h1v1h-1zM187 85h1v1h-1zM188 85h1v1h-1zM190 85h1v1h-1zM192 85h1v1h-1zM141 86h1v1h-1zM145 86h1v1h-1zM146 86h1v1h-1zM147 86h1v1h-1zM151 86h1v1h-1zM153 86h1v1h-1zM154 86h1v1h-1zM156 86h1v1h-1zM157 86h1v1h-1zM158 86h1v1h-1zM161 86h1v1h-1zM174 86h1v1h-1zM177 86h1v1h-1zM178 86h1v1h-1zM180 86h1v1h-1zM182 86h1v1h-1zM184 86h1v1h-1zM186 86h1v1h-1zM187 86h1v1h-1zM188 86h1v1h-1zM190 86h1v1h-1zM140 87h1v1h-1zM142 87h1v1h-1zM143 87h1v1h-1zM146 87h1v1h-1zM148 87h1v1h-1zM150 87h1v1h-1zM152 87h1v1h-1zM153 87h1v1h-1zM160 87h1v1h-1zM161 87h1v1h-1zM163 87h1v1h-1zM164 87h1v1h-1zM165 87h1v1h-1zM166 87h1v1h-1zM171 87h1v1h-1zM173 87h1v1h-1zM174 87h1v1h-1zM175 87h1v1h-1zM177 87h1v1h-1zM179 87h1v1h-1zM180 87h1v1h-1zM184 87h1v1h-1zM186 87h1v1h-1zM189 87h1v1h-1zM193 87h1v1h-1zM139 88h1v1h-1zM143 88h1v1h-1zM144 88h1v1h-1zM146 88h1v1h-1zM147 88h1v1h-1zM149 88h1v1h-1zM155 88h1v1h-1zM157 88h1v1h-1zM161 88h1v1h-1zM162 88h1v1h-1zM164 88h1v1h-1zM167 88h1v1h-1zM168 88h1v1h-1zM171 88h1v1h-1zM177 88h1v1h-1zM181 88h1v1h-1zM184 88h1v1h-1zM185 88h1v1h-1zM187 88h1v1h-1zM192 88h1v1h-1zM194 88h1v1h-1zM141 89h1v1h-1zM144 89h1v1h-1zM146 89h1v1h-1zM147 89h1v1h-1zM148 89h1v1h-1zM151 89h1v1h-1zM154 89h1v1h-1zM155 89h1v1h-1zM157 89h1v1h-1zM159 89h1v1h-1zM161 89h1v1h-1zM162 89h1v1h-1zM166 89h1v1h-1zM170 89h1v1h-1zM172 89h1v1h-1zM174 89h1v1h-1zM176 89h1v1h-1zM178 89h1v1h-1zM182 89h1v1h-1zM183 89h1v1h-1zM185 89h1v1h-1zM191 89h1v1h-1zM192 89h1v1h-1zM193 89h1v1h-1zM139 90h1v1h-1zM140 90h1v1h-1zM142 90h1v1h-1zM145 90h1v1h-1zM146 90h1v1h-1zM148 90h1v1h-1zM149 90h1v1h-1zM150 90h1v1h-1zM155 90h1v1h-1zM156 90h1v1h-1zM157 90h1v1h-1zM162 90h1v1h-1zM165 90h1v1h-1zM166 90h1v1h-1zM170 90h1v1h-1zM171 90h1v1h-1zM176 90h1v1h-1zM179 90h1v1h-1zM181 90h1v1h-1zM182 90h1v1h-1zM184 90h1v1h-1zM185 90h1v1h-1zM191 90h1v1h-1zM193 90h1v1h-1zM141 91h1v1h-1zM142 91h1v1h-1zM143 91h1v1h-1zM151 91h1v1h-1zM153 91h1v1h-1zM155 91h1v1h-1zM156 91h1v1h-1zM158 91h1v1h-1zM159 91h1v1h-1zM160 91h1v1h-1zM167 91h1v1h-1zM171 91h1v1h-1zM175 91h1v1h-1zM177 91h1v1h-1zM180 91h1v1h-1zM182 91h1v1h-1zM183 91h1v1h-1zM185 91h1v1h-1zM186 91h1v1h-1zM187 91h1v1h-1zM193 91h1v1h-1zM194 91h1v1h-1zM139 92h1v1h-1zM141 92h1v1h-1zM144 92h1v1h-1zM148 92h1v1h-1zM149 92h1v1h-1zM151 92h1v1h-1zM152 92h1v1h-1zM154 92h1v1h-1zM155 92h1v1h-1zM157 92h1v1h-1zM158 92h1v1h-1zM160 92h1v1h-1zM162 92h1v1h-1zM165 92h1v1h-1zM172 92h1v1h-1zM178 92h1v1h-1zM179 92h1v1h-1zM182 92h1v1h-1zM184 92h1v1h-1zM187 92h1v1h-1zM190 92h1v1h-1zM140 93h1v1h-1zM141 93h1v1h-1zM143 93h1v1h-1zM146 93h1v1h-1zM147 93h1v1h-1zM148 93h1v1h-1zM153 93h1v1h-1zM154 93h1v1h-1zM155 93h1v1h-1zM156 93h1v1h-1zM157 93h1v1h-1zM158 93h1v1h-1zM165 93h1v1h-1zM172 93h1v1h-1zM177 93h1v1h-1zM178 93h1v1h-1zM186 93h1v1h-1zM189 93h1v1h-1zM194 93h1v1h-1zM139 94h1v1h-1zM140 94h1v1h-1zM142 94h1v1h-1zM152 94h1v1h-1zM153 94h1v1h-1zM159 94h1v1h-1zM163 94h1v1h-1zM171 94h1v1h-1zM173 94h1v1h-1zM174 94h1v1h-1zM175 94h1v1h-1zM179 94h1v1h-1zM182 94h1v1h-1zM190 94h1v1h-1zM191 94h1v1h-1zM140 95h1v1h-1zM141 95h1v1h-1zM145 95h1v1h-1zM150 95h1v1h-1zM151 95h1v1h-1zM153 95h1v1h-1zM158 95h1v1h-1zM160 95h1v1h-1zM162 95h1v1h-1zM170 95h1v1h-1zM171 95h1v1h-1zM175 95h1v1h-1zM177 95h1v1h-1zM178 95h1v1h-1zM185 95h1v1h-1zM140 96h1v1h-1zM149 96h1v1h-1zM156 96h1v1h-1zM157 96h1v1h-1zM169 96h1v1h-1zM171 96h1v1h-1zM180 96h1v1h-1zM182 96h1v1h-1zM145 97h1v1h-1zM150 97h1v1h-1zM158 97h1v1h-1zM179 97h1v1h-1zM180 97h1v1h-1zM183 97h1v1h-1zM145 98h1v1h-1zM149 98h1v1h-1zM151 98h1v1h-1zM154 98h1v1h-1zM156 98h1v1h-1zM158 98h1v1h-1zM159 98h1v1h-1zM177 98h1v1h-1zM180 98h1v1h-1zM183 98h1v1h-1zM185 98h1v1h-1zM186 98h1v1h-1zM141 99h1v1h-1zM159 99h1v1h-1zM176 99h1v1h-1zM177 99h1v1h-1zM178 99h1v1h-1zM192 99h1v1h-1zM152 100h1v1h-1zM179 100h1v1h-1zM180 100h1v1h-1zM181 100h1v1h-1zM186 100h1v1h-1zM188 100h1v1h-1zM143 101h1v1h-1zM145 101h1v1h-1zM147 101h1v1h-1zM148 101h1v1h-1zM150 101h1v1h-1zM151 101h1v1h-1zM158 101h1v1h-1zM159 101h1v1h-1zM165 101h1v1h-1zM171 101h1v1h-1zM175 101h1v1h-1zM177 101h1v1h-1zM179 101h1v1h-1zM143 102h1v1h-1zM151 102h1v1h-1zM161 102h1v1h-1zM181 102h1v1h-1zM144 103h1v1h-1zM163 103h1v1h-1zM179 103h1v1h-1zM183 103h1v1h-1zM186 103h1v1h-1zM144 104h1v1h-1zM161 104h1v1h-1zM169 104h1v1h-1zM179 104h1v1h-1zM180 104h1v1h-1zM184 104h1v1h-1zM148 105h1v1h-1zM158 105h1v1h-1zM169 105h1v1h-1zM173 105h1v1h-1zM182 105h1v1h-1zM152 106h1v1h-1zM154 106h1v1h-1zM167 106h1v1h-1zM160 108h1v1h-1z" fill="#22a6e4"/>
<path d="M209 27h1v1h-1zM199 28h1v1h-1zM209 29h1v1h-1zM195 30h1v1h-1zM208 31h1v1h-1zM188 32h1v1h-1zM216 32h1v1h-1zM201 34h1v1h-1zM204 35h1v1h-1zM207 36h1v1h-1zM196 37h1v1h-1zM215 37h1v1h-1zM232 37h1v1h-1zM210 39h1v1h-1zM197 40h1v1h-1zM200 40h1v1h-1zM201 40h1v1h-1zM212 40h1v1h-1zM146 41h1v1h-1zM194 41h1v1h-1zM132 42h1v1h-1zM205 42h1v1h-1zM194 44h1v1h-1zM208 44h1v1h-1zM200 45h1v1h-1zM210 45h1v1h-1zM216 45h1v1h-1zM220 45h1v1h-1zM215 46h1v1h-1zM198 47h1v1h-1zM201 47h1v1h-1zM215 47h1v1h-1zM223 47h1v1h-1zM201 48h1v1h-1zM205 48h1v1h-1zM137 49h1v1h-1zM205 49h1v1h-1zM210 49h1v1h-1zM215 49h1v1h-1zM131 52h1v1h-1zM206 52h1v1h-1zM214 52h1v1h-1zM218 52h1v1h-1zM136 53h1v1h-1zM195 53h1v1h-1zM197 53h1v1h-1zM203 53h1v1h-1zM226 53h1v1h-1zM212 54h1v1h-1zM207 56h1v1h-1zM78 57h1v1h-1zM207 57h1v1h-1zM220 57h1v1h-1zM199 58h1v1h-1zM199 59h1v1h-1zM216 59h1v1h-1zM201 60h1v1h-1zM138 64h1v1h-1zM199 64h1v1h-1zM220 64h1v1h-1zM131 65h1v1h-1zM213 66h1v1h-1zM63 67h1v1h-1zM137 67h1v1h-1zM201 67h1v1h-1zM198 69h1v1h-1zM208 70h1v1h-1zM47 71h1v1h-1zM137 71h1v1h-1zM196 71h1v1h-1zM203 71h1v1h-1zM61 72h1v1h-1zM70 72h1v1h-1zM198 72h1v1h-1zM128 73h1v1h-1zM65 74h1v1h-1zM212 74h1v1h-1zM198 75h1v1h-1zM40 76h1v1h-1zM65 77h1v1h-1zM69 78h1v1h-1zM135 78h1v1h-1zM203 79h1v1h-1zM47 81h1v1h-1zM70 81h1v1h-1zM135 81h1v1h-1zM48 82h1v1h-1zM67 82h1v1h-1zM89 82h1v1h-1zM50 84h1v1h-1zM61 84h1v1h-1zM68 84h1v1h-1zM74 84h1v1h-1zM40 85h1v1h-1zM62 85h1v1h-1zM44 86h1v1h-1zM203 86h1v1h-1zM219 86h1v1h-1zM65 87h1v1h-1zM79 87h1v1h-1zM206 87h1v1h-1zM61 88h1v1h-1zM63 88h1v1h-1zM75 88h1v1h-1zM57 89h1v1h-1zM70 89h1v1h-1zM87 89h1v1h-1zM67 90h1v1h-1zM87 90h1v1h-1zM50 92h1v1h-1zM40 93h1v1h-1zM64 93h1v1h-1zM65 93h1v1h-1zM206 93h1v1h-1zM80 94h1v1h-1zM85 94h1v1h-1zM42 95h1v1h-1zM60 95h1v1h-1zM49 96h1v1h-1zM57 96h1v1h-1zM73 96h1v1h-1zM45 97h1v1h-1zM57 97h1v1h-1zM67 97h1v1h-1zM43 98h1v1h-1zM61 98h1v1h-1zM77 98h1v1h-1zM88 98h1v1h-1zM71 100h1v1h-1zM74 100h1v1h-1zM194 100h1v1h-1zM47 101h1v1h-1zM52 102h1v1h-1zM45 103h1v1h-1zM65 103h1v1h-1zM51 104h1v1h-1zM53 104h1v1h-1zM72 104h1v1h-1zM43 106h1v1h-1zM56 108h1v1h-1zM81 108h1v1h-1zM49 109h1v1h-1zM53 109h1v1h-1zM66 109h1v1h-1zM57 110h1v1h-1zM57 111h1v1h-1zM60 111h1v1h-1zM51 113h1v1h-1zM65 113h1v1h-1zM69 114h1v1h-1zM65 117h1v1h-1zM56 118h1v1h-1zM76 120h1v1h-1zM43 121h1v1h-1zM154 124h1v1h-1zM148 127h1v1h-1zM137 130h1v1h-1zM140 132h1v1h-1zM135 133h1v1h-1zM124 134h1v1h-1zM86 147h1v1h-1zM93 147h1v1h-1zM101 147h1v1h-1zM95 149h1v1h-1zM115 151h1v1h-1zM92 153h1v1h-1zM91 154h1v1h-1zM91 158h1v1h-1zM94 158h1v1h-1zM82 159h1v1h-1zM93 159h1v1h-1zM98 159h1v1h-1zM103 160h1v1h-1zM91 162h1v1h-1zM93 163h1v1h-1zM86 165h1v1h-1zM90 165h1v1h-1zM79 166h1v1h-1zM97 177h1v1h-1zM79 179h1v1h-1zM92 180h1v1h-1zM77 185h1v1h-1z" fill="#6a6a6a"/>
<path d="M39.6,129.5C41.6,127.9 43.5,126.1 45.5,124.6C47.5,123.0 48.8,121.2 51.5,120.2C54.2,119.2 58.9,119.0 62.0,118.7C65.1,118.4 67.6,117.9 70.0,118.4C72.4,118.9 74.6,119.9 76.2,121.6C77.8,123.3 78.8,126.1 79.5,128.8C80.2,131.5 80.3,135.1 80.4,138.0C80.5,140.9 80.5,142.9 80.1,146.4C79.7,149.9 79.2,154.9 78.0,159.2C76.8,163.5 75.0,168.7 73.2,172.0C71.4,175.3 70.1,176.9 67.4,179.0C64.7,181.1 60.5,183.1 57.2,184.6C53.9,186.1 50.5,187.1 47.6,188.0C44.7,188.9 42.3,189.2 39.6,189.8Z" fill="none" stroke="#000" stroke-width="2" stroke-linejoin="round"/>
<path d="M77.4,118.3C78.0,116.1 79.3,114.9 80.7,112.4C82.1,109.9 84.4,105.3 85.8,103.1C87.2,100.8 87.4,100.7 89.1,98.9C90.8,97.1 93.5,94.3 95.9,92.2C98.3,90.1 100.9,88.1 103.4,86.3C105.9,84.5 108.8,82.6 111.0,81.3C113.2,80.0 114.7,79.0 116.9,78.4C119.2,77.8 122.1,77.9 124.5,77.9C126.9,77.9 129.5,77.8 131.2,78.4C132.9,79.0 133.6,79.6 134.6,81.3C135.6,83.0 136.4,85.3 137.1,88.8C137.8,92.3 138.4,97.8 138.8,102.3C139.2,106.8 139.6,112.6 139.6,115.7C139.6,118.8 140.2,118.8 138.8,120.8C137.4,122.8 133.9,125.0 131.2,127.5C128.5,130.0 125.6,133.7 122.8,135.9C120.0,138.2 117.5,139.6 114.4,141.0C111.3,142.4 107.7,143.4 104.3,144.4C100.9,145.4 97.3,146.5 94.2,146.9C91.1,147.3 88.0,147.6 85.8,146.9C83.5,146.2 82.0,144.5 80.7,142.7C79.4,140.9 78.8,138.7 78.2,135.9C77.6,133.1 77.1,128.7 77.0,125.8C76.9,122.9 76.8,120.5 77.4,118.3Z" fill="none" stroke="#000" stroke-width="2" stroke-linejoin="round"/>
<path d="M141.6,57.2C142.5,56.3 143.9,55.5 145.4,54.9C146.9,54.3 147.5,54.4 150.7,53.8C153.8,53.2 160.0,51.9 164.3,51.1C168.6,50.3 172.7,49.3 176.5,48.8C180.3,48.2 184.4,47.7 187.1,47.8C189.8,47.9 191.1,48.7 192.4,49.6C193.7,50.5 194.1,50.9 194.7,53.4C195.3,55.9 195.9,60.4 196.2,64.8C196.4,69.2 196.3,75.4 196.2,79.9C196.1,84.5 195.9,89.1 195.5,92.1C195.1,95.1 195.2,96.3 194.0,98.1C192.8,99.9 191.0,101.3 188.6,102.7C186.2,104.1 183.0,105.5 179.5,106.5C176.0,107.5 171.7,108.5 167.4,108.8C163.1,109.0 157.2,108.4 153.7,108.0C150.1,107.6 148.1,107.4 146.1,106.5C144.1,105.6 142.7,104.6 141.6,102.7C140.5,100.8 139.8,98.9 139.3,95.1C138.8,91.3 138.6,84.5 138.6,79.9C138.6,75.4 139.1,71.1 139.3,67.8C139.6,64.5 139.7,62.0 140.1,60.2C140.5,58.4 140.7,58.1 141.6,57.2Z" fill="none" stroke="#000" stroke-width="2" stroke-linejoin="round"/>
<path d="M399 118h1v1h-1zM374 129h1v1h-1zM403 123h1v1h-1zM390 113h1v1h-1zM390 113h1v1h-1zM404 115h1v1h-1zM387 124h1v1h-1zM407 112h1v1h-1zM385 122h1v1h-1zM386 108h1v1h-1zM392 121h1v1h-1zM403 103h1v1h-1zM399 120h1v1h-1zM377 131h1v1h-1zM428 95h1v1h-1zM413 100h1v1h-1zM399 123h1v1h-1zM404 109h1v1h-1zM370 118h1v1h-1zM412 115h1v1h-1zM390 138h1v1h-1zM409 116h1v1h-1zM396 119h1v1h-1zM369 125h1v1h-1zM399 110h1v1h-1zM395 124h1v1h-1zM388 129h1v1h-1zM391 120h1v1h-1zM413 115h1v1h-1zM405 128h1v1h-1zM384 124h1v1h-1zM387 128h1v1h-1zM392 124h1v1h-1zM366 141h1v1h-1zM384 137h1v1h-1zM381 119h1v1h-1zM351 134h1v1h-1zM425 92h1v1h-1zM387 115h1v1h-1zM415 96h1v1h-1zM391 126h1v1h-1zM396 124h1v1h-1zM386 112h1v1h-1zM351 122h1v1h-1zM362 117h1v1h-1zM401 111h1v1h-1zM384 122h1v1h-1zM393 106h1v1h-1zM397 115h1v1h-1zM371 140h1v1h-1zM371 132h1v1h-1zM376 133h1v1h-1zM350 124h1v1h-1zM372 136h1v1h-1zM388 114h1v1h-1zM412 106h1v1h-1zM408 91h1v1h-1zM399 105h1v1h-1zM376 119h1v1h-1zM369 122h1v1h-1zM421 100h1v1h-1zM395 113h1v1h-1zM376 127h1v1h-1zM377 138h1v1h-1zM435 94h1v1h-1zM406 112h1v1h-1zM399 119h1v1h-1zM395 117h1v1h-1zM393 128h1v1h-1zM411 110h1v1h-1zM403 107h1v1h-1zM417 99h1v1h-1zM363 143h1v1h-1zM401 104h1v1h-1zM396 115h1v1h-1zM408 107h1v1h-1zM401 109h1v1h-1zM355 141h1v1h-1zM394 121h1v1h-1zM424 107h1v1h-1zM414 122h1v1h-1zM377 132h1v1h-1zM362 144h1v1h-1zM418 110h1v1h-1zM387 106h1v1h-1zM395 103h1v1h-1zM380 133h1v1h-1zM413 108h1v1h-1zM385 117h1v1h-1zM391 125h1v1h-1zM366 127h1v1h-1zM389 108h1v1h-1zM400 116h1v1h-1zM376 132h1v1h-1zM385 129h1v1h-1zM413 131h1v1h-1zM367 130h1v1h-1zM402 120h1v1h-1zM406 103h1v1h-1zM391 117h1v1h-1zM366 135h1v1h-1zM397 130h1v1h-1zM411 103h1v1h-1zM385 106h1v1h-1zM354 114h1v1h-1zM412 117h1v1h-1zM399 114h1v1h-1zM422 109h1v1h-1zM417 98h1v1h-1zM400 101h1v1h-1zM384 115h1v1h-1zM359 150h1v1h-1zM350 136h1v1h-1zM391 124h1v1h-1zM385 134h1v1h-1zM383 106h1v1h-1zM379 140h1v1h-1zM374 132h1v1h-1zM411 108h1v1h-1zM396 115h1v1h-1zM397 124h1v1h-1zM419 96h1v1h-1zM382 133h1v1h-1zM401 114h1v1h-1zM376 133h1v1h-1zM381 120h1v1h-1zM399 126h1v1h-1zM390 126h1v1h-1zM375 122h1v1h-1zM386 123h1v1h-1zM408 105h1v1h-1zM378 131h1v1h-1zM371 139h1v1h-1zM411 87h1v1h-1zM369 138h1v1h-1zM390 129h1v1h-1zM370 137h1v1h-1zM374 129h1v1h-1zM413 112h1v1h-1zM400 103h1v1h-1zM383 118h1v1h-1zM416 96h1v1h-1zM377 116h1v1h-1zM413 108h1v1h-1zM400 116h1v1h-1zM412 108h1v1h-1zM395 124h1v1h-1zM397 111h1v1h-1zM390 120h1v1h-1zM339 140h1v1h-1zM427 85h1v1h-1zM395 101h1v1h-1zM397 124h1v1h-1zM391 122h1v1h-1zM374 119h1v1h-1zM378 122h1v1h-1zM387 110h1v1h-1zM399 93h1v1h-1zM401 122h1v1h-1zM396 118h1v1h-1zM413 120h1v1h-1zM378 126h1v1h-1zM409 105h1v1h-1zM381 119h1v1h-1zM399 106h1v1h-1zM378 122h1v1h-1zM405 101h1v1h-1zM369 129h1v1h-1zM426 98h1v1h-1zM380 120h1v1h-1zM391 136h1v1h-1zM376 125h1v1h-1zM377 139h1v1h-1zM394 134h1v1h-1zM362 133h1v1h-1zM415 115h1v1h-1zM391 124h1v1h-1zM348 136h1v1h-1zM390 115h1v1h-1zM387 92h1v1h-1zM391 111h1v1h-1zM382 127h1v1h-1zM385 116h1v1h-1zM344 148h1v1h-1zM365 132h1v1h-1zM348 142h1v1h-1zM364 134h1v1h-1zM401 108h1v1h-1zM411 102h1v1h-1zM420 105h1v1h-1zM389 141h1v1h-1zM395 109h1v1h-1zM384 123h1v1h-1zM396 112h1v1h-1zM391 112h1v1h-1zM377 131h1v1h-1zM412 106h1v1h-1zM388 134h1v1h-1zM385 134h1v1h-1zM383 118h1v1h-1zM372 116h1v1h-1zM360 141h1v1h-1zM392 126h1v1h-1zM401 118h1v1h-1zM405 111h1v1h-1zM385 122h1v1h-1zM421 99h1v1h-1zM379 124h1v1h-1zM381 126h1v1h-1zM350 150h1v1h-1zM420 96h1v1h-1zM406 96h1v1h-1zM417 105h1v1h-1zM359 132h1v1h-1zM405 111h1v1h-1zM359 135h1v1h-1zM405 92h1v1h-1zM387 118h1v1h-1zM383 123h1v1h-1zM395 123h1v1h-1zM389 125h1v1h-1zM421 102h1v1h-1zM413 107h1v1h-1zM369 144h1v1h-1zM403 101h1v1h-1zM354 159h1v1h-1zM432 107h1v1h-1zM383 126h1v1h-1zM383 117h1v1h-1zM397 129h1v1h-1zM432 89h1v1h-1zM405 111h1v1h-1zM390 119h1v1h-1zM403 113h1v1h-1zM382 120h1v1h-1zM411 110h1v1h-1zM381 127h1v1h-1zM383 121h1v1h-1zM389 127h1v1h-1zM415 108h1v1h-1zM392 114h1v1h-1zM385 119h1v1h-1zM366 141h1v1h-1zM402 97h1v1h-1zM385 125h1v1h-1zM397 116h1v1h-1zM380 113h1v1h-1zM395 112h1v1h-1zM402 126h1v1h-1zM364 143h1v1h-1zM355 133h1v1h-1zM386 120h1v1h-1zM358 136h1v1h-1zM400 106h1v1h-1zM388 113h1v1h-1zM411 105h1v1h-1zM402 107h1v1h-1zM410 122h1v1h-1zM387 139h1v1h-1zM397 117h1v1h-1zM407 107h1v1h-1zM403 97h1v1h-1zM393 111h1v1h-1zM386 116h1v1h-1zM379 128h1v1h-1zM393 135h1v1h-1zM380 122h1v1h-1zM418 116h1v1h-1zM414 106h1v1h-1zM389 123h1v1h-1zM380 125h1v1h-1zM394 92h1v1h-1zM411 98h1v1h-1zM402 109h1v1h-1zM371 137h1v1h-1zM358 131h1v1h-1zM419 97h1v1h-1zM403 100h1v1h-1zM381 122h1v1h-1zM387 114h1v1h-1zM393 125h1v1h-1zM388 112h1v1h-1zM369 123h1v1h-1zM407 107h1v1h-1zM384 134h1v1h-1zM371 132h1v1h-1zM412 104h1v1h-1zM395 122h1v1h-1zM413 104h1v1h-1zM400 120h1v1h-1zM412 113h1v1h-1zM422 99h1v1h-1zM389 103h1v1h-1zM412 108h1v1h-1zM384 130h1v1h-1zM404 121h1v1h-1zM344 142h1v1h-1zM385 114h1v1h-1zM377 130h1v1h-1zM360 139h1v1h-1zM404 112h1v1h-1zM389 114h1v1h-1zM399 113h1v1h-1zM365 135h1v1h-1zM386 99h1v1h-1zM435 100h1v1h-1zM401 107h1v1h-1zM360 121h1v1h-1zM396 98h1v1h-1zM394 116h1v1h-1zM371 114h1v1h-1zM374 125h1v1h-1zM389 108h1v1h-1zM350 140h1v1h-1zM408 102h1v1h-1zM412 122h1v1h-1zM402 114h1v1h-1zM411 118h1v1h-1zM408 94h1v1h-1zM364 133h1v1h-1zM390 108h1v1h-1zM404 115h1v1h-1zM411 120h1v1h-1zM384 123h1v1h-1zM382 107h1v1h-1zM403 108h1v1h-1zM407 118h1v1h-1zM431 107h1v1h-1zM357 136h1v1h-1zM392 117h1v1h-1zM382 113h1v1h-1zM389 102h1v1h-1zM390 114h1v1h-1zM385 134h1v1h-1zM392 109h1v1h-1zM370 136h1v1h-1zM373 132h1v1h-1zM370 127h1v1h-1zM392 110h1v1h-1zM398 97h1v1h-1zM412 101h1v1h-1zM369 137h1v1h-1zM389 126h1v1h-1zM412 105h1v1h-1zM392 118h1v1h-1zM409 90h1v1h-1zM412 91h1v1h-1zM379 119h1v1h-1zM381 120h1v1h-1zM386 107h1v1h-1zM375 122h1v1h-1zM389 116h1v1h-1zM387 122h1v1h-1zM424 96h1v1h-1zM385 108h1v1h-1zM376 118h1v1h-1zM396 124h1v1h-1zM391 108h1v1h-1zM353 145h1v1h-1zM377 141h1v1h-1zM372 145h1v1h-1zM381 110h1v1h-1zM399 112h1v1h-1zM373 125h1v1h-1zM358 131h1v1h-1zM407 116h1v1h-1zM383 124h1v1h-1zM395 128h1v1h-1zM395 103h1v1h-1zM397 90h1v1h-1zM381 122h1v1h-1zM372 129h1v1h-1zM375 141h1v1h-1zM372 126h1v1h-1zM395 120h1v1h-1zM445 94h1v1h-1zM388 94h1v1h-1zM379 124h1v1h-1zM385 116h1v1h-1zM379 114h1v1h-1zM362 131h1v1h-1zM389 116h1v1h-1zM407 128h1v1h-1zM389 109h1v1h-1zM375 124h1v1h-1zM395 125h1v1h-1zM390 143h1v1h-1zM379 112h1v1h-1zM361 143h1v1h-1zM401 104h1v1h-1zM392 132h1v1h-1zM346 154h1v1h-1zM388 123h1v1h-1zM408 118h1v1h-1zM446 84h1v1h-1zM374 128h1v1h-1zM422 102h1v1h-1zM366 118h1v1h-1zM409 106h1v1h-1zM409 117h1v1h-1zM375 101h1v1h-1zM363 118h1v1h-1zM375 134h1v1h-1zM414 109h1v1h-1zM419 100h1v1h-1zM389 125h1v1h-1zM386 119h1v1h-1zM385 135h1v1h-1zM388 109h1v1h-1zM389 135h1v1h-1zM410 104h1v1h-1zM404 102h1v1h-1zM403 117h1v1h-1zM372 126h1v1h-1zM373 147h1v1h-1zM379 121h1v1h-1zM410 93h1v1h-1zM396 94h1v1h-1zM390 121h1v1h-1zM418 123h1v1h-1zM406 116h1v1h-1zM375 128h1v1h-1zM408 83h1v1h-1zM405 95h1v1h-1zM372 135h1v1h-1zM383 118h1v1h-1zM407 107h1v1h-1zM422 98h1v1h-1zM418 106h1v1h-1zM371 125h1v1h-1zM385 128h1v1h-1zM420 111h1v1h-1zM378 125h1v1h-1zM399 118h1v1h-1zM385 120h1v1h-1zM400 107h1v1h-1zM368 135h1v1h-1zM366 131h1v1h-1zM370 124h1v1h-1zM427 93h1v1h-1zM426 92h1v1h-1zM429 102h1v1h-1zM386 133h1v1h-1zM366 117h1v1h-1zM390 99h1v1h-1zM382 116h1v1h-1zM376 139h1v1h-1zM395 102h1v1h-1zM367 122h1v1h-1zM403 90h1v1h-1zM392 108h1v1h-1zM383 120h1v1h-1zM371 140h1v1h-1zM399 131h1v1h-1zM391 118h1v1h-1zM405 113h1v1h-1zM396 120h1v1h-1zM391 119h1v1h-1zM369 137h1v1h-1zM372 113h1v1h-1zM394 121h1v1h-1zM403 118h1v1h-1zM379 110h1v1h-1zM360 128h1v1h-1zM372 133h1v1h-1zM384 126h1v1h-1zM404 115h1v1h-1zM392 132h1v1h-1zM374 136h1v1h-1zM400 136h1v1h-1zM386 117h1v1h-1zM412 95h1v1h-1zM384 108h1v1h-1zM384 130h1v1h-1zM397 128h1v1h-1zM396 107h1v1h-1zM356 140h1v1h-1zM377 113h1v1h-1zM379 142h1v1h-1zM380 127h1v1h-1zM388 130h1v1h-1zM412 95h1v1h-1zM406 111h1v1h-1zM402 123h1v1h-1zM373 133h1v1h-1zM389 103h1v1h-1zM397 106h1v1h-1zM361 134h1v1h-1zM362 142h1v1h-1zM416 105h1v1h-1zM415 112h1v1h-1zM392 117h1v1h-1zM404 97h1v1h-1zM413 114h1v1h-1zM437 93h1v1h-1zM333 140h1v1h-1zM397 113h1v1h-1zM407 95h1v1h-1zM408 131h1v1h-1zM378 124h1v1h-1zM367 134h1v1h-1zM420 109h1v1h-1zM423 84h1v1h-1zM358 146h1v1h-1zM370 130h1v1h-1zM405 114h1v1h-1zM400 98h1v1h-1zM383 128h1v1h-1zM358 125h1v1h-1zM412 106h1v1h-1zM418 105h1v1h-1zM359 145h1v1h-1zM396 124h1v1h-1zM392 101h1v1h-1zM398 132h1v1h-1zM415 101h1v1h-1zM397 115h1v1h-1zM406 119h1v1h-1zM404 128h1v1h-1zM361 129h1v1h-1zM433 91h1v1h-1zM382 126h1v1h-1zM398 128h1v1h-1zM417 105h1v1h-1zM415 126h1v1h-1zM392 126h1v1h-1zM349 140h1v1h-1zM389 113h1v1h-1zM412 104h1v1h-1zM388 120h1v1h-1zM362 131h1v1h-1zM415 105h1v1h-1zM437 98h1v1h-1zM409 104h1v1h-1zM417 112h1v1h-1zM363 144h1v1h-1zM383 128h1v1h-1zM355 157h1v1h-1zM417 116h1v1h-1zM397 103h1v1h-1zM346 150h1v1h-1zM406 114h1v1h-1zM406 98h1v1h-1zM369 117h1v1h-1zM386 120h1v1h-1zM415 93h1v1h-1zM365 134h1v1h-1zM394 104h1v1h-1zM414 111h1v1h-1zM391 107h1v1h-1zM379 112h1v1h-1zM394 113h1v1h-1zM401 112h1v1h-1zM402 101h1v1h-1zM424 101h1v1h-1zM359 127h1v1h-1zM399 131h1v1h-1zM391 122h1v1h-1zM424 102h1v1h-1zM370 133h1v1h-1zM424 98h1v1h-1zM369 117h1v1h-1zM378 130h1v1h-1zM369 139h1v1h-1zM384 114h1v1h-1zM384 125h1v1h-1zM388 109h1v1h-1zM393 126h1v1h-1zM405 110h1v1h-1zM407 124h1v1h-1zM351 153h1v1h-1zM411 100h1v1h-1zM393 119h1v1h-1zM400 132h1v1h-1zM388 134h1v1h-1zM406 104h1v1h-1zM380 115h1v1h-1zM409 100h1v1h-1zM366 126h1v1h-1zM419 95h1v1h-1zM429 123h1v1h-1zM371 136h1v1h-1zM413 119h1v1h-1zM377 117h1v1h-1zM371 136h1v1h-1zM386 131h1v1h-1zM386 104h1v1h-1zM376 121h1v1h-1zM393 100h1v1h-1zM407 93h1v1h-1zM361 129h1v1h-1zM358 147h1v1h-1zM395 126h1v1h-1zM392 112h1v1h-1zM388 110h1v1h-1zM412 120h1v1h-1zM402 111h1v1h-1zM354 140h1v1h-1zM399 131h1v1h-1zM374 127h1v1h-1zM382 111h1v1h-1zM370 143h1v1h-1zM398 108h1v1h-1zM382 109h1v1h-1zM384 133h1v1h-1zM360 129h1v1h-1zM418 95h1v1h-1zM411 112h1v1h-1zM408 119h1v1h-1zM368 112h1v1h-1zM376 132h1v1h-1zM423 107h1v1h-1zM388 134h1v1h-1zM406 108h1v1h-1zM424 88h1v1h-1zM362 141h1v1h-1zM360 123h1v1h-1zM406 123h1v1h-1zM359 134h1v1h-1zM378 112h1v1h-1zM383 127h1v1h-1zM413 116h1v1h-1zM369 138h1v1h-1zM389 107h1v1h-1zM410 121h1v1h-1zM373 135h1v1h-1zM372 130h1v1h-1zM409 105h1v1h-1zM411 116h1v1h-1zM365 140h1v1h-1zM364 136h1v1h-1zM424 99h1v1h-1zM395 118h1v1h-1zM381 126h1v1h-1zM393 117h1v1h-1zM390 121h1v1h-1zM407 122h1v1h-1zM416 92h1v1h-1zM410 88h1v1h-1zM375 120h1v1h-1zM384 127h1v1h-1zM383 119h1v1h-1zM422 98h1v1h-1zM415 109h1v1h-1zM358 143h1v1h-1zM386 126h1v1h-1zM386 129h1v1h-1zM416 107h1v1h-1zM412 100h1v1h-1zM380 121h1v1h-1zM373 129h1v1h-1zM389 108h1v1h-1zM399 109h1v1h-1zM391 107h1v1h-1zM367 127h1v1h-1zM379 108h1v1h-1zM396 101h1v1h-1zM404 122h1v1h-1zM395 100h1v1h-1zM377 131h1v1h-1zM386 127h1v1h-1zM398 123h1v1h-1zM335 150h1v1h-1zM388 123h1v1h-1zM400 110h1v1h-1zM400 114h1v1h-1zM385 125h1v1h-1zM392 126h1v1h-1zM404 109h1v1h-1zM387 115h1v1h-1zM360 130h1v1h-1zM395 104h1v1h-1zM360 138h1v1h-1zM379 132h1v1h-1zM429 90h1v1h-1zM400 117h1v1h-1zM413 116h1v1h-1zM399 105h1v1h-1zM411 116h1v1h-1zM395 118h1v1h-1zM402 101h1v1h-1zM390 110h1v1h-1zM377 130h1v1h-1zM398 112h1v1h-1zM397 120h1v1h-1zM400 93h1v1h-1zM419 111h1v1h-1zM423 108h1v1h-1zM370 120h1v1h-1zM395 109h1v1h-1zM433 110h1v1h-1zM386 129h1v1h-1zM379 124h1v1h-1zM382 121h1v1h-1zM381 125h1v1h-1zM381 132h1v1h-1zM420 96h1v1h-1zM384 127h1v1h-1zM391 112h1v1h-1zM364 115h1v1h-1zM432 93h1v1h-1zM371 126h1v1h-1zM373 142h1v1h-1zM411 108h1v1h-1zM383 130h1v1h-1zM388 107h1v1h-1zM425 104h1v1h-1zM361 120h1v1h-1zM428 104h1v1h-1zM383 125h1v1h-1zM346 157h1v1h-1zM401 127h1v1h-1zM388 132h1v1h-1zM362 127h1v1h-1zM432 80h1v1h-1zM385 125h1v1h-1zM359 142h1v1h-1zM392 121h1v1h-1zM406 98h1v1h-1zM402 99h1v1h-1zM387 121h1v1h-1zM391 134h1v1h-1zM382 114h1v1h-1zM371 135h1v1h-1zM402 116h1v1h-1zM396 111h1v1h-1zM405 81h1v1h-1zM376 134h1v1h-1zM414 83h1v1h-1zM413 102h1v1h-1zM402 96h1v1h-1zM384 114h1v1h-1zM409 116h1v1h-1zM376 106h1v1h-1zM404 96h1v1h-1zM388 112h1v1h-1zM373 120h1v1h-1zM388 120h1v1h-1zM373 127h1v1h-1zM406 109h1v1h-1zM387 120h1v1h-1zM376 128h1v1h-1zM445 100h1v1h-1zM388 110h1v1h-1zM417 104h1v1h-1zM380 124h1v1h-1zM404 117h1v1h-1zM369 103h1v1h-1zM401 103h1v1h-1zM400 116h1v1h-1zM434 89h1v1h-1zM356 153h1v1h-1zM386 105h1v1h-1zM433 114h1v1h-1zM360 143h1v1h-1zM407 104h1v1h-1zM389 111h1v1h-1zM395 105h1v1h-1zM377 120h1v1h-1zM383 123h1v1h-1zM354 133h1v1h-1zM385 126h1v1h-1zM384 117h1v1h-1zM380 131h1v1h-1zM417 92h1v1h-1zM394 117h1v1h-1zM411 97h1v1h-1zM404 121h1v1h-1zM372 130h1v1h-1zM390 121h1v1h-1zM397 132h1v1h-1zM384 124h1v1h-1zM405 101h1v1h-1zM403 108h1v1h-1zM384 118h1v1h-1zM404 116h1v1h-1zM385 141h1v1h-1zM391 136h1v1h-1zM416 101h1v1h-1zM413 104h1v1h-1zM414 114h1v1h-1zM425 103h1v1h-1zM382 100h1v1h-1zM383 114h1v1h-1zM395 110h1v1h-1zM408 100h1v1h-1zM419 101h1v1h-1zM395 120h1v1h-1zM386 109h1v1h-1zM418 109h1v1h-1zM403 110h1v1h-1zM400 119h1v1h-1zM388 139h1v1h-1zM388 115h1v1h-1zM386 102h1v1h-1zM394 111h1v1h-1zM393 116h1v1h-1zM410 101h1v1h-1zM394 114h1v1h-1zM384 112h1v1h-1zM389 125h1v1h-1zM406 123h1v1h-1zM406 116h1v1h-1zM399 104h1v1h-1zM403 111h1v1h-1zM385 126h1v1h-1zM411 95h1v1h-1zM372 130h1v1h-1zM350 136h1v1h-1zM413 120h1v1h-1zM409 115h1v1h-1zM379 128h1v1h-1zM374 109h1v1h-1zM413 111h1v1h-1zM405 98h1v1h-1zM386 131h1v1h-1zM386 134h1v1h-1zM408 119h1v1h-1zM417 102h1v1h-1zM428 85h1v1h-1zM396 118h1v1h-1zM402 115h1v1h-1zM362 105h1v1h-1zM385 115h1v1h-1zM350 152h1v1h-1zM355 138h1v1h-1zM420 113h1v1h-1zM399 114h1v1h-1zM382 130h1v1h-1zM415 108h1v1h-1zM391 123h1v1h-1zM389 133h1v1h-1zM376 125h1v1h-1zM384 113h1v1h-1zM414 89h1v1h-1zM384 124h1v1h-1zM423 85h1v1h-1zM399 102h1v1h-1zM415 105h1v1h-1zM391 115h1v1h-1zM368 131h1v1h-1zM418 118h1v1h-1zM374 133h1v1h-1zM410 100h1v1h-1zM409 106h1v1h-1zM385 111h1v1h-1zM377 128h1v1h-1zM381 130h1v1h-1zM410 120h1v1h-1zM378 131h1v1h-1zM339 153h1v1h-1zM368 137h1v1h-1zM412 107h1v1h-1zM398 110h1v1h-1zM366 115h1v1h-1zM382 119h1v1h-1zM388 125h1v1h-1zM439 93h1v1h-1zM371 133h1v1h-1zM373 128h1v1h-1zM389 114h1v1h-1zM398 110h1v1h-1zM377 114h1v1h-1zM417 122h1v1h-1zM391 115h1v1h-1zM381 126h1v1h-1zM382 128h1v1h-1zM384 113h1v1h-1zM385 111h1v1h-1zM396 108h1v1h-1zM415 103h1v1h-1zM391 125h1v1h-1zM404 103h1v1h-1zM405 104h1v1h-1zM378 118h1v1h-1zM353 145h1v1h-1zM394 118h1v1h-1zM401 120h1v1h-1zM421 111h1v1h-1zM356 146h1v1h-1zM402 108h1v1h-1zM386 116h1v1h-1zM400 115h1v1h-1zM413 102h1v1h-1zM400 116h1v1h-1zM407 116h1v1h-1zM395 109h1v1h-1zM374 135h1v1h-1zM398 115h1v1h-1zM378 111h1v1h-1zM403 119h1v1h-1zM359 138h1v1h-1zM403 104h1v1h-1zM400 119h1v1h-1zM394 126h1v1h-1zM381 115h1v1h-1zM410 104h1v1h-1zM393 104h1v1h-1zM405 106h1v1h-1zM402 113h1v1h-1zM384 124h1v1h-1zM398 113h1v1h-1zM415 118h1v1h-1zM388 128h1v1h-1zM403 114h1v1h-1zM396 117h1v1h-1zM416 102h1v1h-1zM390 113h1v1h-1zM387 112h1v1h-1zM379 124h1v1h-1zM385 128h1v1h-1zM397 108h1v1h-1zM405 89h1v1h-1zM365 142h1v1h-1zM382 122h1v1h-1zM401 119h1v1h-1zM403 113h1v1h-1zM373 119h1v1h-1zM370 121h1v1h-1zM386 116h1v1h-1zM392 95h1v1h-1zM411 126h1v1h-1zM381 119h1v1h-1zM398 110h1v1h-1zM380 112h1v1h-1zM387 122h1v1h-1zM411 113h1v1h-1zM400 129h1v1h-1zM403 106h1v1h-1zM409 122h1v1h-1zM387 125h1v1h-1zM375 114h1v1h-1zM402 123h1v1h-1zM389 114h1v1h-1zM423 104h1v1h-1zM402 116h1v1h-1zM394 114h1v1h-1zM371 127h1v1h-1zM389 127h1v1h-1zM401 105h1v1h-1zM363 127h1v1h-1zM374 141h1v1h-1zM402 110h1v1h-1zM408 123h1v1h-1zM376 114h1v1h-1zM391 117h1v1h-1zM384 123h1v1h-1zM386 112h1v1h-1zM416 116h1v1h-1zM407 108h1v1h-1zM425 78h1v1h-1zM422 104h1v1h-1zM393 102h1v1h-1zM390 120h1v1h-1zM414 108h1v1h-1zM410 130h1v1h-1zM396 110h1v1h-1zM408 108h1v1h-1zM391 113h1v1h-1zM379 120h1v1h-1zM406 115h1v1h-1zM392 129h1v1h-1zM385 130h1v1h-1zM392 91h1v1h-1zM379 134h1v1h-1zM369 131h1v1h-1zM423 86h1v1h-1zM403 102h1v1h-1zM378 105h1v1h-1zM401 117h1v1h-1zM393 115h1v1h-1zM381 126h1v1h-1zM377 119h1v1h-1zM367 124h1v1h-1zM404 116h1v1h-1zM420 107h1v1h-1zM419 99h1v1h-1zM396 114h1v1h-1zM423 104h1v1h-1zM405 128h1v1h-1zM415 106h1v1h-1zM420 99h1v1h-1zM385 119h1v1h-1zM400 118h1v1h-1zM390 117h1v1h-1zM384 125h1v1h-1zM400 119h1v1h-1zM412 98h1v1h-1zM426 108h1v1h-1zM395 137h1v1h-1zM391 111h1v1h-1zM433 100h1v1h-1zM377 111h1v1h-1zM396 123h1v1h-1zM423 80h1v1h-1zM397 128h1v1h-1zM413 114h1v1h-1zM385 105h1v1h-1zM364 130h1v1h-1zM396 95h1v1h-1zM372 151h1v1h-1zM374 145h1v1h-1zM419 103h1v1h-1zM402 100h1v1h-1zM393 119h1v1h-1zM413 107h1v1h-1zM422 110h1v1h-1zM412 127h1v1h-1zM376 139h1v1h-1zM380 137h1v1h-1zM414 104h1v1h-1zM392 116h1v1h-1zM421 109h1v1h-1zM377 128h1v1h-1zM404 106h1v1h-1zM356 130h1v1h-1zM401 100h1v1h-1zM398 107h1v1h-1zM409 95h1v1h-1zM353 130h1v1h-1zM370 130h1v1h-1zM376 117h1v1h-1zM402 112h1v1h-1zM424 98h1v1h-1zM416 104h1v1h-1zM363 123h1v1h-1zM388 127h1v1h-1zM414 92h1v1h-1zM404 104h1v1h-1zM371 135h1v1h-1zM401 103h1v1h-1zM416 125h1v1h-1zM411 109h1v1h-1zM396 117h1v1h-1zM407 121h1v1h-1zM403 90h1v1h-1zM406 121h1v1h-1zM409 97h1v1h-1zM406 100h1v1h-1zM398 93h1v1h-1zM393 128h1v1h-1zM407 107h1v1h-1zM404 94h1v1h-1zM384 122h1v1h-1zM383 135h1v1h-1zM399 105h1v1h-1zM407 110h1v1h-1zM376 118h1v1h-1zM400 110h1v1h-1zM441 106h1v1h-1zM358 140h1v1h-1zM399 107h1v1h-1zM404 122h1v1h-1zM387 103h1v1h-1zM393 117h1v1h-1zM406 117h1v1h-1zM384 106h1v1h-1zM388 126h1v1h-1zM419 123h1v1h-1zM437 104h1v1h-1zM387 111h1v1h-1zM411 112h1v1h-1zM413 98h1v1h-1zM372 126h1v1h-1zM395 133h1v1h-1zM381 127h1v1h-1zM390 119h1v1h-1zM413 104h1v1h-1zM376 117h1v1h-1zM412 92h1v1h-1zM431 89h1v1h-1zM381 127h1v1h-1zM397 114h1v1h-1zM415 119h1v1h-1zM377 135h1v1h-1zM356 137h1v1h-1zM393 115h1v1h-1zM387 141h1v1h-1zM402 128h1v1h-1zM383 131h1v1h-1zM379 115h1v1h-1zM379 119h1v1h-1zM394 113h1v1h-1zM412 109h1v1h-1zM397 117h1v1h-1zM405 116h1v1h-1zM363 117h1v1h-1zM423 99h1v1h-1zM419 111h1v1h-1zM426 101h1v1h-1zM393 117h1v1h-1zM379 123h1v1h-1zM401 108h1v1h-1zM369 122h1v1h-1zM392 117h1v1h-1zM395 128h1v1h-1zM390 119h1v1h-1zM372 146h1v1h-1zM407 105h1v1h-1zM366 130h1v1h-1zM400 124h1v1h-1zM384 111h1v1h-1zM356 137h1v1h-1zM399 99h1v1h-1zM393 117h1v1h-1zM421 89h1v1h-1zM422 90h1v1h-1zM374 122h1v1h-1zM352 137h1v1h-1zM396 122h1v1h-1zM415 115h1v1h-1zM405 144h1v1h-1zM427 98h1v1h-1zM400 124h1v1h-1zM375 119h1v1h-1zM389 122h1v1h-1zM395 113h1v1h-1zM413 105h1v1h-1zM384 126h1v1h-1zM392 114h1v1h-1zM403 106h1v1h-1zM383 116h1v1h-1zM392 113h1v1h-1zM411 110h1v1h-1zM395 100h1v1h-1zM414 120h1v1h-1zM387 131h1v1h-1zM363 128h1v1h-1zM381 136h1v1h-1zM387 126h1v1h-1zM397 104h1v1h-1zM381 116h1v1h-1zM380 129h1v1h-1zM381 117h1v1h-1zM399 115h1v1h-1zM382 119h1v1h-1zM419 115h1v1h-1zM397 101h1v1h-1zM405 124h1v1h-1zM378 120h1v1h-1zM425 99h1v1h-1zM409 127h1v1h-1zM405 98h1v1h-1zM397 102h1v1h-1zM380 114h1v1h-1zM375 106h1v1h-1zM383 117h1v1h-1zM419 125h1v1h-1zM398 107h1v1h-1zM361 135h1v1h-1zM407 116h1v1h-1zM366 140h1v1h-1zM372 109h1v1h-1zM418 106h1v1h-1zM401 129h1v1h-1zM395 132h1v1h-1zM335 137h1v1h-1zM406 112h1v1h-1zM393 130h1v1h-1zM394 125h1v1h-1zM365 129h1v1h-1zM376 132h1v1h-1zM392 122h1v1h-1zM354 138h1v1h-1zM406 110h1v1h-1zM405 111h1v1h-1zM369 126h1v1h-1zM373 127h1v1h-1zM391 112h1v1h-1zM399 129h1v1h-1zM377 130h1v1h-1zM394 126h1v1h-1zM374 134h1v1h-1zM367 144h1v1h-1zM404 105h1v1h-1zM401 115h1v1h-1zM362 125h1v1h-1zM393 120h1v1h-1zM396 118h1v1h-1zM412 87h1v1h-1zM407 89h1v1h-1zM414 93h1v1h-1zM388 125h1v1h-1zM408 99h1v1h-1zM377 123h1v1h-1zM364 115h1v1h-1zM447 115h1v1h-1zM373 127h1v1h-1zM410 92h1v1h-1zM375 113h1v1h-1zM385 133h1v1h-1zM426 94h1v1h-1zM357 143h1v1h-1zM394 119h1v1h-1zM400 111h1v1h-1zM380 131h1v1h-1zM382 147h1v1h-1zM371 126h1v1h-1zM432 92h1v1h-1zM360 145h1v1h-1zM372 135h1v1h-1zM391 132h1v1h-1zM367 137h1v1h-1zM403 106h1v1h-1zM378 135h1v1h-1zM375 113h1v1h-1zM389 120h1v1h-1zM377 131h1v1h-1zM406 128h1v1h-1zM361 131h1v1h-1zM387 119h1v1h-1zM406 108h1v1h-1zM403 97h1v1h-1zM366 133h1v1h-1zM360 135h1v1h-1zM426 91h1v1h-1zM409 109h1v1h-1zM362 155h1v1h-1zM406 104h1v1h-1zM400 120h1v1h-1zM401 114h1v1h-1zM418 97h1v1h-1zM392 125h1v1h-1zM409 120h1v1h-1zM386 129h1v1h-1zM421 102h1v1h-1zM406 114h1v1h-1zM413 99h1v1h-1zM404 119h1v1h-1zM368 136h1v1h-1zM390 117h1v1h-1zM388 115h1v1h-1zM398 117h1v1h-1zM370 119h1v1h-1zM378 122h1v1h-1zM373 116h1v1h-1zM375 143h1v1h-1zM403 127h1v1h-1zM380 130h1v1h-1zM411 95h1v1h-1zM380 124h1v1h-1zM365 153h1v1h-1zM396 122h1v1h-1zM418 113h1v1h-1zM424 121h1v1h-1zM385 142h1v1h-1zM388 132h1v1h-1zM386 126h1v1h-1zM398 111h1v1h-1zM382 125h1v1h-1zM344 157h1v1h-1zM415 115h1v1h-1zM403 115h1v1h-1zM370 133h1v1h-1zM390 126h1v1h-1zM391 139h1v1h-1zM375 135h1v1h-1zM387 106h1v1h-1zM369 134h1v1h-1zM389 123h1v1h-1zM408 119h1v1h-1zM402 102h1v1h-1zM423 92h1v1h-1zM388 110h1v1h-1zM408 123h1v1h-1zM403 114h1v1h-1zM383 132h1v1h-1zM359 149h1v1h-1zM372 130h1v1h-1zM348 128h1v1h-1zM400 131h1v1h-1zM411 88h1v1h-1zM405 112h1v1h-1zM436 95h1v1h-1zM397 113h1v1h-1zM441 90h1v1h-1zM427 97h1v1h-1zM407 112h1v1h-1zM427 100h1v1h-1zM375 111h1v1h-1zM362 121h1v1h-1zM406 120h1v1h-1zM415 90h1v1h-1zM406 111h1v1h-1zM413 120h1v1h-1zM395 119h1v1h-1zM376 117h1v1h-1zM405 111h1v1h-1zM406 108h1v1h-1zM383 123h1v1h-1zM419 106h1v1h-1zM422 92h1v1h-1zM356 145h1v1h-1zM406 122h1v1h-1zM366 132h1v1h-1zM387 127h1v1h-1zM401 127h1v1h-1zM408 113h1v1h-1zM400 108h1v1h-1zM395 94h1v1h-1zM391 105h1v1h-1zM380 130h1v1h-1zM398 112h1v1h-1zM386 123h1v1h-1zM420 135h1v1h-1zM393 124h1v1h-1zM392 113h1v1h-1zM368 149h1v1h-1zM405 125h1v1h-1zM383 125h1v1h-1zM399 119h1v1h-1zM387 125h1v1h-1zM426 95h1v1h-1zM412 96h1v1h-1zM437 101h1v1h-1zM386 132h1v1h-1zM398 106h1v1h-1zM391 123h1v1h-1zM376 122h1v1h-1zM398 104h1v1h-1zM381 131h1v1h-1zM434 90h1v1h-1zM390 119h1v1h-1zM407 111h1v1h-1zM388 127h1v1h-1zM392 124h1v1h-1zM381 118h1v1h-1zM419 102h1v1h-1zM416 110h1v1h-1zM396 103h1v1h-1zM383 126h1v1h-1zM388 108h1v1h-1zM404 110h1v1h-1zM380 134h1v1h-1zM402 115h1v1h-1zM360 139h1v1h-1zM382 125h1v1h-1zM378 117h1v1h-1zM392 129h1v1h-1zM420 89h1v1h-1zM357 122h1v1h-1zM394 113h1v1h-1zM379 118h1v1h-1zM375 134h1v1h-1zM378 123h1v1h-1zM360 128h1v1h-1zM392 106h1v1h-1zM394 105h1v1h-1zM362 121h1v1h-1zM395 115h1v1h-1zM398 130h1v1h-1zM337 144h1v1h-1zM384 114h1v1h-1zM377 125h1v1h-1zM372 128h1v1h-1zM368 132h1v1h-1zM357 154h1v1h-1zM370 131h1v1h-1zM348 146h1v1h-1zM402 111h1v1h-1zM367 123h1v1h-1zM401 101h1v1h-1zM373 107h1v1h-1zM391 111h1v1h-1zM375 120h1v1h-1zM382 123h1v1h-1zM397 124h1v1h-1zM374 108h1v1h-1zM404 117h1v1h-1zM376 145h1v1h-1zM376 127h1v1h-1zM365 136h1v1h-1zM427 112h1v1h-1zM422 105h1v1h-1zM393 121h1v1h-1zM394 108h1v1h-1zM381 119h1v1h-1zM390 127h1v1h-1zM432 101h1v1h-1zM398 115h1v1h-1zM397 128h1v1h-1zM391 134h1v1h-1zM390 100h1v1h-1zM401 109h1v1h-1zM379 121h1v1h-1zM389 123h1v1h-1zM416 128h1v1h-1zM390 111h1v1h-1zM379 119h1v1h-1zM399 121h1v1h-1zM389 111h1v1h-1zM386 118h1v1h-1zM388 132h1v1h-1zM405 124h1v1h-1zM390 136h1v1h-1zM376 140h1v1h-1zM375 126h1v1h-1zM389 119h1v1h-1zM383 137h1v1h-1zM366 130h1v1h-1zM413 112h1v1h-1zM361 132h1v1h-1zM381 135h1v1h-1zM413 112h1v1h-1zM372 118h1v1h-1zM381 121h1v1h-1zM361 133h1v1h-1zM395 125h1v1h-1zM356 139h1v1h-1zM395 94h1v1h-1zM382 124h1v1h-1zM402 113h1v1h-1zM376 116h1v1h-1zM372 144h1v1h-1zM383 136h1v1h-1zM409 92h1v1h-1zM395 117h1v1h-1zM376 103h1v1h-1zM409 98h1v1h-1zM354 129h1v1h-1zM383 121h1v1h-1zM409 108h1v1h-1zM375 131h1v1h-1zM396 110h1v1h-1zM381 119h1v1h-1zM419 105h1v1h-1zM399 107h1v1h-1zM402 126h1v1h-1zM386 121h1v1h-1zM379 124h1v1h-1zM369 139h1v1h-1zM372 127h1v1h-1zM358 150h1v1h-1zM391 127h1v1h-1zM399 116h1v1h-1zM424 85h1v1h-1zM397 113h1v1h-1zM419 98h1v1h-1zM373 133h1v1h-1zM380 128h1v1h-1zM397 112h1v1h-1zM378 126h1v1h-1zM406 107h1v1h-1zM403 102h1v1h-1zM387 118h1v1h-1zM380 119h1v1h-1zM386 121h1v1h-1zM370 119h1v1h-1zM430 112h1v1h-1zM397 126h1v1h-1zM421 102h1v1h-1zM371 126h1v1h-1zM429 99h1v1h-1zM382 121h1v1h-1zM394 127h1v1h-1zM403 112h1v1h-1zM412 104h1v1h-1zM409 86h1v1h-1zM390 111h1v1h-1zM374 132h1v1h-1zM415 91h1v1h-1zM388 118h1v1h-1zM374 138h1v1h-1zM375 144h1v1h-1zM382 119h1v1h-1zM336 123h1v1h-1zM386 122h1v1h-1zM384 129h1v1h-1zM411 89h1v1h-1zM412 117h1v1h-1zM387 119h1v1h-1zM356 157h1v1h-1zM370 131h1v1h-1zM383 125h1v1h-1zM398 103h1v1h-1zM363 144h1v1h-1zM386 124h1v1h-1zM361 131h1v1h-1zM419 106h1v1h-1zM381 120h1v1h-1zM380 142h1v1h-1zM396 121h1v1h-1zM377 127h1v1h-1zM381 123h1v1h-1zM400 131h1v1h-1zM380 126h1v1h-1zM382 129h1v1h-1zM416 92h1v1h-1zM395 123h1v1h-1zM380 127h1v1h-1zM416 94h1v1h-1zM396 105h1v1h-1zM421 109h1v1h-1zM380 125h1v1h-1zM391 124h1v1h-1zM404 118h1v1h-1zM411 121h1v1h-1zM390 132h1v1h-1zM426 91h1v1h-1zM370 129h1v1h-1zM393 96h1v1h-1zM387 121h1v1h-1zM388 123h1v1h-1zM382 108h1v1h-1zM434 90h1v1h-1zM379 126h1v1h-1zM357 139h1v1h-1zM413 106h1v1h-1zM392 106h1v1h-1zM400 113h1v1h-1zM414 124h1v1h-1zM426 94h1v1h-1zM375 123h1v1h-1zM384 120h1v1h-1zM413 119h1v1h-1zM380 111h1v1h-1zM404 129h1v1h-1zM365 129h1v1h-1zM383 128h1v1h-1zM410 114h1v1h-1zM327 151h1v1h-1zM397 111h1v1h-1zM350 153h1v1h-1zM435 88h1v1h-1zM406 92h1v1h-1zM423 102h1v1h-1zM416 90h1v1h-1zM377 132h1v1h-1zM392 117h1v1h-1zM368 118h1v1h-1zM406 117h1v1h-1zM387 122h1v1h-1zM406 120h1v1h-1zM383 124h1v1h-1zM391 111h1v1h-1zM367 114h1v1h-1zM381 124h1v1h-1zM372 119h1v1h-1zM384 117h1v1h-1zM389 96h1v1h-1zM403 91h1v1h-1zM375 128h1v1h-1zM407 110h1v1h-1zM385 142h1v1h-1zM424 109h1v1h-1zM386 110h1v1h-1zM380 134h1v1h-1zM387 118h1v1h-1zM398 95h1v1h-1zM394 121h1v1h-1zM397 106h1v1h-1zM386 110h1v1h-1zM428 83h1v1h-1zM410 105h1v1h-1zM395 111h1v1h-1zM397 109h1v1h-1zM433 90h1v1h-1zM401 117h1v1h-1zM393 110h1v1h-1zM371 125h1v1h-1zM410 106h1v1h-1zM382 127h1v1h-1zM391 124h1v1h-1zM440 100h1v1h-1zM364 109h1v1h-1zM416 113h1v1h-1zM385 125h1v1h-1zM369 143h1v1h-1zM375 119h1v1h-1zM381 126h1v1h-1zM396 130h1v1h-1zM392 133h1v1h-1zM389 132h1v1h-1zM388 122h1v1h-1zM407 98h1v1h-1zM405 108h1v1h-1zM367 113h1v1h-1zM390 114h1v1h-1zM377 114h1v1h-1zM411 102h1v1h-1zM363 133h1v1h-1zM404 115h1v1h-1zM407 114h1v1h-1zM386 125h1v1h-1zM384 126h1v1h-1zM399 116h1v1h-1zM371 147h1v1h-1zM377 125h1v1h-1zM363 131h1v1h-1zM395 106h1v1h-1zM373 131h1v1h-1zM388 128h1v1h-1zM361 156h1v1h-1zM379 123h1v1h-1zM414 112h1v1h-1zM397 111h1v1h-1zM420 108h1v1h-1zM334 143h1v1h-1zM342 154h1v1h-1zM426 102h1v1h-1zM390 100h1v1h-1zM365 133h1v1h-1zM402 101h1v1h-1zM401 113h1v1h-1zM401 116h1v1h-1zM401 112h1v1h-1zM411 112h1v1h-1zM405 112h1v1h-1zM400 119h1v1h-1zM400 110h1v1h-1zM400 119h1v1h-1zM388 108h1v1h-1zM396 122h1v1h-1zM384 116h1v1h-1zM394 113h1v1h-1zM406 111h1v1h-1zM391 121h1v1h-1zM395 126h1v1h-1zM421 94h1v1h-1zM427 98h1v1h-1zM389 108h1v1h-1zM372 116h1v1h-1zM426 112h1v1h-1zM362 135h1v1h-1zM424 104h1v1h-1zM416 103h1v1h-1zM377 114h1v1h-1zM393 126h1v1h-1zM376 136h1v1h-1zM399 122h1v1h-1zM379 142h1v1h-1zM365 133h1v1h-1zM396 117h1v1h-1zM377 121h1v1h-1zM388 116h1v1h-1zM382 116h1v1h-1zM373 121h1v1h-1zM392 112h1v1h-1zM375 130h1v1h-1zM396 107h1v1h-1zM378 120h1v1h-1zM410 98h1v1h-1zM376 114h1v1h-1zM400 104h1v1h-1zM406 106h1v1h-1zM391 122h1v1h-1zM373 140h1v1h-1zM408 115h1v1h-1zM366 132h1v1h-1zM396 110h1v1h-1zM362 134h1v1h-1zM383 122h1v1h-1zM383 111h1v1h-1zM382 129h1v1h-1zM395 115h1v1h-1zM400 110h1v1h-1zM389 110h1v1h-1zM400 125h1v1h-1zM423 113h1v1h-1zM399 102h1v1h-1zM406 126h1v1h-1zM379 122h1v1h-1zM373 137h1v1h-1zM371 113h1v1h-1zM408 108h1v1h-1zM397 124h1v1h-1zM403 109h1v1h-1zM370 142h1v1h-1zM357 142h1v1h-1zM398 124h1v1h-1zM353 163h1v1h-1zM381 116h1v1h-1zM361 139h1v1h-1zM387 111h1v1h-1zM389 99h1v1h-1zM362 127h1v1h-1zM413 108h1v1h-1zM400 121h1v1h-1zM390 125h1v1h-1zM373 132h1v1h-1zM372 128h1v1h-1zM381 117h1v1h-1zM406 108h1v1h-1zM387 118h1v1h-1zM349 123h1v1h-1zM363 147h1v1h-1zM392 112h1v1h-1zM378 112h1v1h-1zM408 112h1v1h-1zM401 115h1v1h-1zM415 121h1v1h-1zM410 100h1v1h-1zM402 101h1v1h-1zM402 122h1v1h-1zM352 139h1v1h-1zM409 118h1v1h-1zM409 111h1v1h-1zM393 100h1v1h-1zM363 124h1v1h-1zM394 103h1v1h-1zM416 115h1v1h-1zM403 118h1v1h-1zM387 126h1v1h-1zM347 133h1v1h-1zM377 130h1v1h-1zM408 70h1v1h-1zM393 117h1v1h-1zM409 105h1v1h-1zM393 128h1v1h-1zM372 135h1v1h-1zM411 94h1v1h-1zM400 111h1v1h-1zM408 94h1v1h-1zM391 113h1v1h-1zM367 127h1v1h-1zM432 121h1v1h-1zM382 116h1v1h-1zM395 109h1v1h-1zM398 114h1v1h-1zM417 121h1v1h-1zM395 104h1v1h-1zM423 110h1v1h-1zM394 126h1v1h-1zM407 98h1v1h-1zM419 95h1v1h-1zM396 135h1v1h-1zM361 116h1v1h-1zM383 108h1v1h-1zM405 86h1v1h-1zM393 107h1v1h-1zM410 105h1v1h-1zM386 109h1v1h-1zM358 142h1v1h-1zM376 129h1v1h-1zM368 139h1v1h-1zM355 139h1v1h-1zM385 120h1v1h-1zM408 99h1v1h-1zM407 119h1v1h-1zM399 113h1v1h-1zM405 119h1v1h-1zM381 115h1v1h-1zM422 99h1v1h-1zM406 107h1v1h-1zM398 102h1v1h-1zM349 140h1v1h-1zM402 93h1v1h-1zM408 97h1v1h-1zM400 134h1v1h-1zM360 138h1v1h-1zM402 96h1v1h-1zM386 128h1v1h-1zM391 129h1v1h-1zM394 136h1v1h-1zM389 125h1v1h-1zM376 137h1v1h-1zM399 115h1v1h-1zM411 96h1v1h-1zM391 120h1v1h-1zM369 129h1v1h-1zM378 113h1v1h-1zM396 133h1v1h-1zM386 119h1v1h-1zM392 107h1v1h-1zM387 116h1v1h-1zM395 125h1v1h-1zM391 116h1v1h-1zM365 127h1v1h-1zM405 123h1v1h-1zM405 101h1v1h-1zM400 120h1v1h-1zM394 116h1v1h-1zM440 80h1v1h-1zM403 121h1v1h-1zM434 98h1v1h-1zM381 133h1v1h-1zM376 128h1v1h-1zM363 134h1v1h-1zM356 106h1v1h-1zM372 127h1v1h-1zM388 117h1v1h-1zM399 122h1v1h-1zM396 140h1v1h-1zM391 118h1v1h-1zM390 145h1v1h-1zM373 128h1v1h-1zM377 139h1v1h-1zM389 132h1v1h-1zM406 90h1v1h-1zM355 160h1v1h-1zM398 102h1v1h-1zM403 109h1v1h-1zM379 116h1v1h-1zM398 106h1v1h-1zM411 92h1v1h-1zM376 124h1v1h-1zM403 126h1v1h-1zM376 115h1v1h-1zM391 129h1v1h-1zM392 122h1v1h-1zM394 124h1v1h-1zM381 129h1v1h-1zM386 130h1v1h-1zM416 109h1v1h-1zM415 92h1v1h-1zM390 103h1v1h-1zM412 115h1v1h-1zM387 126h1v1h-1zM391 136h1v1h-1zM396 116h1v1h-1zM411 103h1v1h-1zM391 108h1v1h-1zM357 119h1v1h-1zM410 109h1v1h-1zM439 103h1v1h-1zM398 112h1v1h-1zM365 144h1v1h-1zM399 121h1v1h-1zM420 82h1v1h-1zM388 123h1v1h-1zM393 105h1v1h-1zM387 122h1v1h-1zM403 117h1v1h-1zM351 141h1v1h-1zM377 126h1v1h-1zM390 130h1v1h-1zM410 127h1v1h-1zM389 109h1v1h-1zM374 125h1v1h-1zM382 116h1v1h-1zM364 124h1v1h-1zM377 132h1v1h-1zM378 120h1v1h-1zM402 123h1v1h-1zM428 106h1v1h-1zM385 121h1v1h-1zM376 116h1v1h-1zM393 118h1v1h-1zM348 145h1v1h-1zM400 105h1v1h-1zM415 116h1v1h-1zM373 128h1v1h-1zM376 116h1v1h-1zM426 101h1v1h-1zM385 106h1v1h-1zM387 132h1v1h-1zM377 124h1v1h-1zM429 109h1v1h-1zM390 120h1v1h-1zM369 116h1v1h-1zM395 108h1v1h-1zM426 98h1v1h-1zM370 126h1v1h-1zM357 138h1v1h-1zM423 102h1v1h-1zM385 106h1v1h-1zM410 100h1v1h-1zM402 99h1v1h-1zM368 133h1v1h-1zM365 141h1v1h-1zM413 101h1v1h-1zM375 117h1v1h-1zM395 109h1v1h-1zM368 127h1v1h-1zM407 111h1v1h-1zM379 131h1v1h-1zM374 132h1v1h-1zM414 109h1v1h-1zM399 102h1v1h-1zM383 111h1v1h-1zM404 93h1v1h-1zM371 139h1v1h-1zM411 106h1v1h-1zM413 93h1v1h-1zM407 114h1v1h-1zM384 117h1v1h-1zM372 124h1v1h-1zM389 109h1v1h-1zM372 132h1v1h-1zM396 117h1v1h-1zM387 122h1v1h-1zM387 118h1v1h-1zM395 113h1v1h-1zM373 128h1v1h-1zM390 114h1v1h-1zM380 97h1v1h-1zM360 132h1v1h-1zM417 95h1v1h-1zM388 122h1v1h-1zM386 116h1v1h-1zM408 104h1v1h-1zM403 105h1v1h-1zM351 134h1v1h-1zM418 82h1v1h-1zM418 93h1v1h-1zM382 123h1v1h-1zM402 112h1v1h-1zM406 119h1v1h-1zM380 140h1v1h-1zM395 115h1v1h-1zM398 115h1v1h-1zM418 95h1v1h-1zM350 144h1v1h-1zM380 114h1v1h-1zM370 126h1v1h-1zM417 101h1v1h-1zM376 134h1v1h-1zM369 125h1v1h-1zM373 124h1v1h-1zM398 122h1v1h-1zM395 112h1v1h-1zM400 115h1v1h-1zM388 128h1v1h-1zM390 119h1v1h-1zM374 125h1v1h-1zM383 135h1v1h-1zM377 123h1v1h-1zM372 133h1v1h-1zM425 86h1v1h-1zM399 130h1v1h-1zM389 114h1v1h-1zM392 134h1v1h-1zM384 118h1v1h-1zM420 96h1v1h-1zM418 86h1v1h-1zM377 115h1v1h-1zM390 119h1v1h-1zM430 101h1v1h-1zM367 126h1v1h-1zM392 116h1v1h-1zM409 115h1v1h-1zM379 124h1v1h-1zM406 101h1v1h-1zM365 135h1v1h-1zM404 108h1v1h-1zM418 96h1v1h-1zM374 136h1v1h-1zM392 97h1v1h-1zM428 109h1v1h-1zM384 124h1v1h-1zM387 108h1v1h-1zM392 122h1v1h-1zM366 134h1v1h-1zM396 126h1v1h-1zM427 103h1v1h-1zM389 118h1v1h-1zM419 106h1v1h-1zM343 164h1v1h-1zM395 130h1v1h-1zM349 150h1v1h-1zM370 132h1v1h-1zM392 109h1v1h-1zM419 104h1v1h-1zM386 128h1v1h-1zM420 101h1v1h-1zM381 104h1v1h-1zM385 118h1v1h-1zM361 131h1v1h-1zM369 133h1v1h-1zM377 125h1v1h-1zM389 118h1v1h-1zM423 95h1v1h-1zM427 102h1v1h-1zM408 98h1v1h-1zM394 118h1v1h-1zM396 106h1v1h-1zM418 107h1v1h-1zM367 137h1v1h-1zM390 120h1v1h-1zM411 114h1v1h-1zM375 134h1v1h-1zM427 107h1v1h-1zM394 102h1v1h-1zM398 114h1v1h-1zM393 109h1v1h-1zM390 132h1v1h-1zM402 116h1v1h-1zM383 121h1v1h-1zM386 131h1v1h-1zM389 118h1v1h-1zM417 103h1v1h-1zM371 128h1v1h-1zM411 116h1v1h-1zM411 106h1v1h-1zM395 129h1v1h-1zM380 117h1v1h-1zM402 112h1v1h-1zM376 119h1v1h-1zM365 144h1v1h-1zM418 99h1v1h-1zM361 127h1v1h-1zM384 131h1v1h-1zM382 133h1v1h-1zM388 120h1v1h-1zM404 103h1v1h-1zM384 126h1v1h-1zM393 133h1v1h-1zM393 108h1v1h-1zM372 113h1v1h-1zM400 112h1v1h-1zM408 93h1v1h-1zM393 100h1v1h-1zM427 97h1v1h-1zM405 113h1v1h-1zM407 116h1v1h-1zM344 153h1v1h-1zM384 129h1v1h-1zM410 107h1v1h-1zM375 143h1v1h-1zM386 118h1v1h-1zM404 103h1v1h-1zM419 115h1v1h-1zM398 120h1v1h-1zM391 117h1v1h-1zM399 114h1v1h-1zM351 139h1v1h-1zM392 110h1v1h-1zM367 116h1v1h-1zM378 109h1v1h-1zM367 138h1v1h-1zM353 138h1v1h-1zM383 116h1v1h-1zM397 109h1v1h-1zM401 118h1v1h-1zM371 145h1v1h-1zM376 128h1v1h-1zM367 124h1v1h-1zM395 110h1v1h-1zM407 105h1v1h-1zM404 117h1v1h-1zM401 113h1v1h-1zM425 103h1v1h-1zM383 110h1v1h-1zM390 122h1v1h-1zM417 119h1v1h-1zM368 138h1v1h-1zM367 131h1v1h-1zM394 120h1v1h-1zM430 102h1v1h-1zM375 131h1v1h-1zM398 124h1v1h-1zM371 116h1v1h-1zM406 112h1v1h-1zM400 115h1v1h-1zM395 120h1v1h-1zM380 125h1v1h-1zM384 122h1v1h-1zM361 141h1v1h-1zM365 123h1v1h-1zM398 108h1v1h-1zM341 148h1v1h-1zM420 103h1v1h-1zM373 129h1v1h-1zM396 108h1v1h-1zM424 106h1v1h-1zM341 153h1v1h-1zM364 137h1v1h-1zM377 132h1v1h-1zM392 119h1v1h-1zM418 113h1v1h-1zM426 94h1v1h-1zM379 116h1v1h-1zM419 104h1v1h-1zM390 124h1v1h-1zM389 128h1v1h-1zM412 110h1v1h-1zM375 128h1v1h-1zM374 144h1v1h-1zM410 100h1v1h-1zM394 110h1v1h-1zM395 122h1v1h-1zM393 110h1v1h-1zM359 151h1v1h-1zM398 105h1v1h-1zM427 97h1v1h-1zM392 119h1v1h-1zM401 107h1v1h-1zM388 103h1v1h-1zM416 105h1v1h-1zM405 112h1v1h-1zM351 144h1v1h-1zM405 104h1v1h-1zM405 97h1v1h-1zM352 137h1v1h-1zM379 108h1v1h-1zM417 119h1v1h-1zM417 98h1v1h-1zM386 134h1v1h-1zM439 86h1v1h-1zM408 122h1v1h-1zM392 112h1v1h-1zM398 107h1v1h-1zM399 105h1v1h-1zM409 107h1v1h-1zM370 123h1v1h-1zM398 100h1v1h-1zM409 122h1v1h-1zM454 90h1v1h-1zM398 107h1v1h-1zM393 126h1v1h-1zM370 109h1v1h-1zM397 116h1v1h-1zM397 134h1v1h-1zM375 148h1v1h-1zM373 138h1v1h-1zM393 128h1v1h-1zM387 124h1v1h-1zM428 110h1v1h-1zM408 103h1v1h-1zM383 100h1v1h-1zM416 113h1v1h-1zM388 122h1v1h-1zM373 131h1v1h-1zM363 143h1v1h-1zM397 121h1v1h-1zM396 102h1v1h-1zM412 106h1v1h-1zM341 144h1v1h-1zM374 127h1v1h-1zM397 126h1v1h-1zM388 120h1v1h-1zM350 139h1v1h-1zM391 119h1v1h-1zM384 122h1v1h-1zM410 107h1v1h-1zM375 137h1v1h-1zM421 99h1v1h-1zM370 128h1v1h-1zM423 96h1v1h-1zM387 111h1v1h-1zM416 116h1v1h-1zM390 126h1v1h-1zM362 119h1v1h-1zM416 101h1v1h-1zM391 131h1v1h-1zM405 94h1v1h-1zM374 126h1v1h-1zM383 141h1v1h-1zM392 122h1v1h-1zM420 107h1v1h-1zM379 117h1v1h-1zM442 101h1v1h-1zM396 121h1v1h-1zM428 108h1v1h-1zM362 128h1v1h-1zM384 118h1v1h-1zM406 100h1v1h-1zM418 105h1v1h-1zM382 115h1v1h-1zM436 90h1v1h-1zM382 140h1v1h-1zM402 119h1v1h-1zM418 95h1v1h-1zM414 109h1v1h-1zM395 106h1v1h-1zM418 109h1v1h-1zM376 117h1v1h-1zM414 111h1v1h-1zM372 141h1v1h-1zM370 120h1v1h-1zM417 111h1v1h-1zM416 116h1v1h-1zM397 130h1v1h-1zM380 140h1v1h-1zM393 125h1v1h-1zM385 130h1v1h-1zM420 94h1v1h-1zM447 102h1v1h-1zM378 129h1v1h-1zM405 120h1v1h-1zM405 117h1v1h-1zM405 111h1v1h-1zM396 105h1v1h-1zM413 111h1v1h-1zM353 145h1v1h-1zM380 117h1v1h-1zM389 136h1v1h-1zM388 125h1v1h-1zM368 130h1v1h-1zM381 121h1v1h-1zM392 132h1v1h-1zM401 109h1v1h-1zM398 111h1v1h-1zM364 118h1v1h-1zM370 131h1v1h-1zM360 133h1v1h-1zM387 132h1v1h-1zM388 135h1v1h-1zM388 133h1v1h-1zM400 99h1v1h-1zM398 118h1v1h-1zM416 118h1v1h-1zM398 113h1v1h-1zM400 112h1v1h-1zM411 106h1v1h-1zM406 96h1v1h-1zM439 85h1v1h-1zM392 117h1v1h-1zM385 126h1v1h-1zM361 140h1v1h-1zM412 106h1v1h-1zM424 94h1v1h-1zM403 131h1v1h-1zM393 131h1v1h-1zM380 135h1v1h-1zM395 120h1v1h-1zM354 159h1v1h-1zM404 103h1v1h-1zM382 134h1v1h-1zM406 118h1v1h-1zM425 96h1v1h-1zM353 127h1v1h-1zM379 112h1v1h-1zM381 139h1v1h-1zM369 123h1v1h-1zM414 112h1v1h-1zM409 106h1v1h-1zM402 108h1v1h-1zM404 115h1v1h-1zM392 132h1v1h-1zM401 121h1v1h-1zM414 117h1v1h-1zM405 101h1v1h-1zM384 119h1v1h-1zM407 121h1v1h-1zM382 126h1v1h-1zM365 134h1v1h-1zM422 85h1v1h-1zM392 114h1v1h-1zM391 115h1v1h-1zM382 131h1v1h-1zM395 116h1v1h-1zM376 112h1v1h-1zM398 96h1v1h-1zM425 108h1v1h-1zM377 115h1v1h-1zM371 117h1v1h-1zM386 109h1v1h-1zM393 112h1v1h-1zM387 125h1v1h-1zM367 135h1v1h-1zM396 109h1v1h-1zM393 113h1v1h-1zM388 113h1v1h-1zM381 123h1v1h-1zM390 113h1v1h-1zM390 121h1v1h-1zM372 121h1v1h-1zM393 114h1v1h-1zM390 122h1v1h-1zM395 107h1v1h-1zM387 117h1v1h-1zM404 116h1v1h-1zM363 135h1v1h-1zM391 116h1v1h-1zM362 136h1v1h-1zM423 99h1v1h-1zM379 100h1v1h-1zM403 114h1v1h-1zM386 120h1v1h-1zM406 127h1v1h-1zM390 104h1v1h-1zM392 130h1v1h-1zM363 135h1v1h-1zM375 125h1v1h-1zM398 115h1v1h-1zM404 110h1v1h-1zM379 113h1v1h-1zM380 129h1v1h-1zM393 122h1v1h-1zM376 117h1v1h-1zM404 117h1v1h-1zM355 143h1v1h-1zM372 136h1v1h-1zM411 110h1v1h-1zM396 116h1v1h-1zM443 102h1v1h-1zM373 130h1v1h-1zM409 92h1v1h-1zM401 120h1v1h-1zM416 85h1v1h-1zM421 99h1v1h-1zM373 127h1v1h-1zM369 110h1v1h-1zM376 111h1v1h-1zM448 102h1v1h-1zM401 104h1v1h-1zM360 115h1v1h-1zM356 131h1v1h-1zM399 108h1v1h-1zM402 119h1v1h-1zM377 111h1v1h-1zM397 113h1v1h-1zM361 136h1v1h-1zM394 113h1v1h-1zM404 119h1v1h-1zM399 110h1v1h-1zM370 110h1v1h-1zM395 113h1v1h-1zM381 116h1v1h-1zM348 142h1v1h-1zM350 148h1v1h-1zM397 90h1v1h-1zM372 129h1v1h-1zM406 109h1v1h-1zM371 119h1v1h-1zM392 97h1v1h-1zM424 109h1v1h-1zM439 95h1v1h-1zM381 108h1v1h-1zM420 91h1v1h-1zM397 105h1v1h-1zM331 153h1v1h-1zM341 138h1v1h-1zM406 114h1v1h-1zM416 102h1v1h-1zM392 126h1v1h-1zM391 117h1v1h-1zM386 137h1v1h-1zM373 119h1v1h-1zM417 108h1v1h-1zM391 124h1v1h-1zM380 124h1v1h-1zM405 113h1v1h-1zM379 122h1v1h-1zM392 104h1v1h-1zM383 121h1v1h-1zM403 119h1v1h-1zM378 104h1v1h-1zM367 149h1v1h-1zM404 95h1v1h-1zM410 112h1v1h-1zM388 108h1v1h-1zM386 128h1v1h-1zM412 96h1v1h-1zM376 130h1v1h-1zM399 113h1v1h-1zM402 111h1v1h-1zM406 112h1v1h-1zM388 119h1v1h-1zM384 119h1v1h-1zM433 103h1v1h-1zM375 124h1v1h-1zM358 138h1v1h-1zM367 139h1v1h-1zM389 111h1v1h-1zM375 124h1v1h-1zM407 109h1v1h-1zM412 104h1v1h-1zM357 138h1v1h-1zM356 136h1v1h-1zM387 123h1v1h-1zM398 120h1v1h-1zM361 123h1v1h-1zM378 118h1v1h-1zM356 139h1v1h-1zM404 111h1v1h-1zM420 106h1v1h-1zM397 118h1v1h-1zM397 109h1v1h-1zM398 103h1v1h-1zM416 105h1v1h-1zM408 99h1v1h-1zM400 102h1v1h-1zM413 112h1v1h-1zM365 128h1v1h-1zM400 107h1v1h-1zM380 127h1v1h-1zM391 94h1v1h-1zM406 134h1v1h-1zM401 125h1v1h-1zM413 123h1v1h-1zM397 113h1v1h-1zM388 121h1v1h-1zM433 100h1v1h-1zM396 115h1v1h-1zM404 112h1v1h-1zM387 116h1v1h-1zM379 117h1v1h-1zM385 134h1v1h-1zM398 119h1v1h-1zM394 117h1v1h-1zM403 104h1v1h-1zM396 137h1v1h-1zM415 99h1v1h-1zM402 91h1v1h-1zM351 148h1v1h-1zM355 118h1v1h-1zM390 131h1v1h-1zM392 111h1v1h-1zM402 111h1v1h-1zM400 112h1v1h-1zM386 118h1v1h-1zM417 88h1v1h-1zM371 136h1v1h-1zM385 124h1v1h-1zM376 119h1v1h-1zM398 121h1v1h-1zM402 117h1v1h-1zM388 110h1v1h-1zM373 128h1v1h-1zM356 134h1v1h-1zM344 134h1v1h-1zM383 128h1v1h-1zM372 126h1v1h-1zM385 122h1v1h-1zM371 116h1v1h-1zM378 132h1v1h-1zM377 127h1v1h-1zM378 125h1v1h-1zM380 127h1v1h-1zM365 142h1v1h-1zM371 110h1v1h-1zM354 142h1v1h-1zM375 125h1v1h-1zM394 118h1v1h-1zM395 124h1v1h-1zM390 128h1v1h-1zM363 122h1v1h-1zM383 134h1v1h-1zM362 127h1v1h-1zM387 134h1v1h-1zM371 128h1v1h-1zM374 151h1v1h-1zM374 119h1v1h-1zM385 126h1v1h-1zM362 144h1v1h-1zM369 125h1v1h-1zM376 130h1v1h-1zM370 113h1v1h-1zM361 120h1v1h-1zM369 119h1v1h-1zM365 129h1v1h-1zM379 115h1v1h-1zM377 129h1v1h-1zM388 120h1v1h-1zM359 111h1v1h-1zM367 135h1v1h-1zM378 135h1v1h-1zM387 129h1v1h-1zM378 132h1v1h-1zM369 126h1v1h-1zM355 132h1v1h-1zM369 130h1v1h-1zM376 128h1v1h-1zM386 129h1v1h-1zM363 146h1v1h-1zM381 134h1v1h-1zM376 125h1v1h-1zM389 103h1v1h-1zM381 112h1v1h-1zM358 135h1v1h-1zM364 122h1v1h-1zM375 141h1v1h-1zM365 127h1v1h-1zM367 128h1v1h-1zM360 136h1v1h-1zM367 125h1v1h-1zM364 130h1v1h-1zM373 138h1v1h-1zM371 138h1v1h-1zM379 139h1v1h-1zM377 138h1v1h-1zM376 137h1v1h-1zM367 117h1v1h-1zM359 132h1v1h-1zM369 124h1v1h-1zM385 123h1v1h-1zM373 130h1v1h-1zM375 132h1v1h-1zM379 130h1v1h-1zM376 135h1v1h-1zM369 135h1v1h-1zM373 138h1v1h-1zM360 123h1v1h-1zM360 125h1v1h-1zM373 129h1v1h-1zM369 134h1v1h-1zM358 122h1v1h-1zM370 114h1v1h-1zM381 132h1v1h-1zM370 127h1v1h-1zM369 134h1v1h-1zM394 127h1v1h-1zM375 130h1v1h-1zM366 125h1v1h-1zM385 130h1v1h-1zM387 120h1v1h-1zM362 138h1v1h-1zM358 123h1v1h-1zM371 132h1v1h-1zM379 125h1v1h-1zM360 130h1v1h-1zM387 128h1v1h-1zM376 129h1v1h-1zM391 122h1v1h-1zM375 130h1v1h-1zM376 120h1v1h-1zM382 127h1v1h-1zM366 123h1v1h-1zM358 125h1v1h-1zM370 130h1v1h-1zM357 136h1v1h-1zM357 127h1v1h-1zM369 121h1v1h-1zM374 119h1v1h-1zM381 121h1v1h-1zM385 118h1v1h-1zM370 141h1v1h-1zM355 125h1v1h-1zM387 121h1v1h-1zM377 134h1v1h-1zM374 129h1v1h-1zM358 133h1v1h-1zM365 142h1v1h-1zM383 133h1v1h-1zM369 139h1v1h-1zM384 120h1v1h-1zM364 137h1v1h-1zM388 128h1v1h-1zM358 129h1v1h-1zM359 140h1v1h-1zM370 131h1v1h-1zM365 127h1v1h-1zM365 132h1v1h-1zM379 128h1v1h-1zM381 126h1v1h-1zM360 132h1v1h-1zM377 113h1v1h-1zM386 121h1v1h-1zM386 123h1v1h-1zM367 116h1v1h-1zM370 134h1v1h-1zM372 127h1v1h-1zM378 131h1v1h-1zM365 133h1v1h-1zM357 132h1v1h-1zM370 115h1v1h-1zM375 124h1v1h-1zM371 119h1v1h-1zM358 127h1v1h-1zM354 130h1v1h-1zM368 126h1v1h-1zM378 129h1v1h-1zM384 128h1v1h-1zM368 130h1v1h-1zM355 126h1v1h-1zM360 128h1v1h-1zM368 133h1v1h-1zM383 137h1v1h-1zM353 130h1v1h-1zM365 126h1v1h-1zM363 126h1v1h-1zM371 127h1v1h-1zM371 133h1v1h-1zM361 127h1v1h-1zM380 121h1v1h-1zM384 120h1v1h-1zM386 135h1v1h-1zM378 126h1v1h-1zM384 132h1v1h-1zM380 133h1v1h-1zM374 127h1v1h-1zM357 136h1v1h-1zM374 126h1v1h-1zM377 124h1v1h-1zM364 121h1v1h-1zM380 119h1v1h-1zM372 124h1v1h-1zM363 137h1v1h-1zM383 121h1v1h-1zM362 125h1v1h-1zM378 129h1v1h-1zM360 128h1v1h-1zM359 130h1v1h-1zM376 120h1v1h-1zM368 135h1v1h-1zM367 127h1v1h-1zM370 131h1v1h-1zM373 120h1v1h-1zM388 118h1v1h-1zM362 109h1v1h-1zM377 131h1v1h-1zM375 143h1v1h-1zM385 109h1v1h-1zM379 138h1v1h-1zM368 139h1v1h-1zM370 136h1v1h-1zM389 120h1v1h-1zM373 125h1v1h-1zM396 129h1v1h-1zM363 128h1v1h-1zM378 117h1v1h-1zM369 124h1v1h-1zM374 129h1v1h-1zM375 126h1v1h-1zM382 123h1v1h-1zM372 129h1v1h-1zM382 139h1v1h-1zM368 133h1v1h-1zM369 133h1v1h-1zM377 119h1v1h-1zM381 122h1v1h-1zM377 134h1v1h-1zM392 125h1v1h-1zM367 135h1v1h-1zM360 131h1v1h-1zM381 114h1v1h-1zM377 124h1v1h-1zM366 128h1v1h-1zM393 133h1v1h-1zM370 121h1v1h-1zM398 114h1v1h-1zM361 146h1v1h-1zM366 129h1v1h-1zM380 121h1v1h-1zM389 128h1v1h-1zM388 117h1v1h-1zM369 129h1v1h-1zM373 126h1v1h-1zM380 130h1v1h-1zM382 122h1v1h-1zM370 131h1v1h-1zM370 121h1v1h-1zM356 131h1v1h-1zM385 124h1v1h-1zM363 126h1v1h-1zM381 129h1v1h-1zM377 126h1v1h-1zM372 112h1v1h-1zM375 140h1v1h-1zM380 122h1v1h-1zM383 131h1v1h-1zM365 135h1v1h-1zM373 128h1v1h-1zM377 130h1v1h-1zM365 134h1v1h-1zM375 121h1v1h-1zM387 129h1v1h-1zM384 116h1v1h-1zM374 136h1v1h-1zM341 135h1v1h-1zM383 127h1v1h-1zM382 124h1v1h-1zM375 132h1v1h-1zM374 125h1v1h-1zM367 127h1v1h-1zM364 129h1v1h-1zM382 127h1v1h-1zM390 131h1v1h-1zM373 120h1v1h-1zM357 112h1v1h-1zM357 132h1v1h-1zM380 122h1v1h-1zM381 127h1v1h-1zM387 123h1v1h-1zM370 126h1v1h-1zM368 128h1v1h-1zM367 129h1v1h-1zM383 118h1v1h-1zM391 113h1v1h-1zM363 124h1v1h-1zM366 119h1v1h-1zM371 128h1v1h-1zM383 131h1v1h-1zM369 138h1v1h-1zM382 120h1v1h-1zM380 128h1v1h-1zM374 120h1v1h-1zM384 123h1v1h-1zM364 129h1v1h-1zM370 141h1v1h-1zM388 119h1v1h-1zM372 124h1v1h-1zM365 123h1v1h-1zM369 121h1v1h-1zM366 136h1v1h-1zM386 134h1v1h-1zM364 125h1v1h-1zM380 116h1v1h-1zM381 120h1v1h-1zM370 118h1v1h-1zM393 118h1v1h-1zM378 136h1v1h-1zM376 119h1v1h-1zM383 123h1v1h-1zM368 132h1v1h-1zM358 122h1v1h-1zM377 124h1v1h-1zM363 121h1v1h-1zM363 135h1v1h-1zM364 132h1v1h-1zM383 123h1v1h-1zM388 104h1v1h-1zM373 122h1v1h-1zM374 128h1v1h-1zM376 121h1v1h-1zM384 128h1v1h-1zM375 129h1v1h-1zM370 132h1v1h-1zM382 124h1v1h-1zM371 133h1v1h-1zM365 127h1v1h-1zM365 127h1v1h-1zM369 134h1v1h-1zM369 120h1v1h-1zM369 116h1v1h-1zM381 129h1v1h-1zM371 136h1v1h-1zM375 131h1v1h-1zM375 143h1v1h-1zM375 128h1v1h-1zM382 111h1v1h-1zM368 125h1v1h-1zM352 119h1v1h-1zM383 122h1v1h-1zM379 127h1v1h-1zM382 135h1v1h-1zM355 148h1v1h-1zM363 132h1v1h-1zM381 135h1v1h-1zM374 133h1v1h-1zM370 125h1v1h-1zM383 119h1v1h-1zM359 120h1v1h-1zM368 127h1v1h-1zM376 125h1v1h-1zM363 125h1v1h-1zM366 130h1v1h-1zM370 124h1v1h-1zM371 142h1v1h-1zM368 118h1v1h-1zM387 130h1v1h-1zM359 128h1v1h-1zM366 127h1v1h-1zM368 132h1v1h-1zM365 115h1v1h-1zM377 122h1v1h-1zM392 125h1v1h-1zM384 113h1v1h-1zM397 108h1v1h-1zM351 116h1v1h-1zM365 126h1v1h-1zM396 108h1v1h-1zM375 124h1v1h-1zM375 121h1v1h-1zM373 130h1v1h-1zM373 137h1v1h-1zM385 111h1v1h-1zM374 121h1v1h-1zM366 124h1v1h-1zM379 137h1v1h-1zM373 124h1v1h-1zM378 118h1v1h-1zM376 113h1v1h-1zM379 127h1v1h-1zM370 119h1v1h-1zM376 120h1v1h-1zM375 132h1v1h-1zM363 131h1v1h-1zM376 127h1v1h-1zM360 135h1v1h-1zM373 121h1v1h-1zM364 122h1v1h-1zM390 118h1v1h-1zM378 118h1v1h-1zM373 134h1v1h-1zM372 131h1v1h-1zM384 123h1v1h-1zM366 132h1v1h-1zM389 119h1v1h-1zM388 120h1v1h-1zM384 130h1v1h-1zM367 118h1v1h-1zM382 126h1v1h-1zM375 135h1v1h-1zM354 128h1v1h-1zM365 130h1v1h-1zM387 123h1v1h-1zM372 126h1v1h-1zM371 134h1v1h-1zM389 124h1v1h-1zM381 125h1v1h-1zM382 122h1v1h-1zM376 118h1v1h-1zM363 136h1v1h-1zM373 126h1v1h-1zM357 128h1v1h-1zM385 121h1v1h-1zM370 142h1v1h-1zM395 114h1v1h-1zM363 138h1v1h-1zM360 124h1v1h-1zM382 117h1v1h-1zM359 145h1v1h-1zM370 120h1v1h-1zM376 127h1v1h-1zM405 128h1v1h-1zM373 114h1v1h-1zM378 124h1v1h-1zM338 124h1v1h-1zM354 101h1v1h-1zM361 129h1v1h-1zM352 127h1v1h-1zM338 106h1v1h-1zM366 114h1v1h-1zM362 131h1v1h-1zM336 129h1v1h-1zM352 121h1v1h-1zM329 132h1v1h-1zM336 131h1v1h-1zM323 132h1v1h-1zM318 124h1v1h-1zM332 121h1v1h-1zM316 139h1v1h-1zM332 135h1v1h-1zM362 107h1v1h-1zM316 121h1v1h-1zM349 132h1v1h-1zM319 114h1v1h-1zM323 114h1v1h-1zM348 112h1v1h-1zM323 121h1v1h-1zM345 122h1v1h-1zM330 129h1v1h-1zM366 123h1v1h-1zM336 137h1v1h-1zM364 115h1v1h-1zM351 138h1v1h-1zM344 131h1v1h-1zM337 113h1v1h-1zM342 108h1v1h-1zM330 139h1v1h-1zM355 134h1v1h-1zM336 113h1v1h-1zM352 123h1v1h-1zM369 100h1v1h-1zM323 101h1v1h-1zM317 108h1v1h-1zM322 137h1v1h-1zM318 131h1v1h-1zM318 106h1v1h-1zM332 112h1v1h-1zM337 119h1v1h-1zM354 129h1v1h-1zM327 100h1v1h-1zM342 116h1v1h-1zM366 135h1v1h-1zM346 132h1v1h-1zM343 108h1v1h-1zM344 115h1v1h-1zM351 121h1v1h-1zM325 136h1v1h-1zM344 129h1v1h-1zM365 129h1v1h-1zM336 109h1v1h-1zM363 123h1v1h-1zM360 114h1v1h-1zM357 115h1v1h-1zM321 124h1v1h-1zM339 142h1v1h-1zM318 127h1v1h-1zM369 108h1v1h-1zM354 119h1v1h-1zM330 115h1v1h-1zM362 102h1v1h-1zM318 127h1v1h-1zM339 110h1v1h-1zM314 104h1v1h-1zM339 133h1v1h-1zM360 130h1v1h-1zM315 100h1v1h-1zM333 114h1v1h-1zM326 115h1v1h-1zM333 117h1v1h-1zM364 97h1v1h-1zM342 129h1v1h-1zM352 132h1v1h-1zM328 117h1v1h-1zM369 102h1v1h-1zM316 129h1v1h-1zM337 116h1v1h-1zM323 131h1v1h-1zM327 120h1v1h-1zM348 138h1v1h-1zM343 125h1v1h-1zM333 120h1v1h-1zM337 139h1v1h-1zM369 124h1v1h-1zM324 124h1v1h-1zM358 129h1v1h-1zM315 123h1v1h-1zM334 118h1v1h-1zM323 125h1v1h-1zM334 104h1v1h-1zM356 135h1v1h-1zM319 114h1v1h-1zM353 105h1v1h-1zM361 119h1v1h-1zM328 108h1v1h-1zM368 102h1v1h-1zM323 101h1v1h-1zM328 112h1v1h-1zM317 132h1v1h-1zM337 105h1v1h-1zM356 118h1v1h-1zM323 102h1v1h-1zM367 120h1v1h-1zM345 134h1v1h-1zM349 119h1v1h-1zM341 130h1v1h-1zM329 109h1v1h-1zM340 105h1v1h-1zM340 125h1v1h-1zM339 100h1v1h-1zM328 120h1v1h-1zM319 119h1v1h-1zM330 111h1v1h-1zM355 96h1v1h-1zM345 130h1v1h-1zM342 114h1v1h-1zM355 123h1v1h-1zM338 102h1v1h-1zM354 105h1v1h-1zM331 124h1v1h-1zM369 135h1v1h-1zM332 118h1v1h-1zM329 114h1v1h-1zM358 133h1v1h-1zM319 117h1v1h-1zM370 130h1v1h-1zM352 118h1v1h-1zM336 135h1v1h-1zM351 114h1v1h-1zM324 119h1v1h-1zM317 126h1v1h-1zM348 107h1v1h-1zM327 107h1v1h-1zM353 124h1v1h-1zM336 115h1v1h-1zM321 103h1v1h-1zM336 127h1v1h-1zM368 129h1v1h-1zM367 125h1v1h-1zM364 106h1v1h-1zM348 115h1v1h-1zM330 119h1v1h-1zM337 128h1v1h-1zM361 127h1v1h-1zM320 102h1v1h-1zM342 138h1v1h-1zM343 100h1v1h-1zM357 113h1v1h-1zM359 105h1v1h-1zM336 120h1v1h-1zM368 104h1v1h-1zM370 113h1v1h-1zM342 119h1v1h-1zM336 105h1v1h-1zM359 102h1v1h-1zM341 138h1v1h-1zM345 107h1v1h-1zM314 119h1v1h-1zM345 105h1v1h-1zM354 115h1v1h-1zM332 118h1v1h-1zM347 118h1v1h-1zM318 99h1v1h-1zM364 120h1v1h-1zM329 111h1v1h-1zM348 130h1v1h-1zM350 109h1v1h-1zM362 131h1v1h-1zM347 127h1v1h-1zM333 104h1v1h-1zM367 139h1v1h-1zM320 108h1v1h-1zM332 100h1v1h-1zM318 112h1v1h-1zM369 124h1v1h-1zM368 139h1v1h-1zM314 120h1v1h-1zM355 126h1v1h-1zM352 103h1v1h-1zM339 106h1v1h-1zM361 104h1v1h-1zM339 131h1v1h-1zM352 134h1v1h-1zM343 105h1v1h-1zM349 102h1v1h-1zM344 125h1v1h-1zM326 116h1v1h-1zM331 137h1v1h-1zM334 103h1v1h-1zM356 109h1v1h-1zM324 132h1v1h-1zM347 108h1v1h-1zM320 139h1v1h-1zM341 119h1v1h-1zM335 123h1v1h-1zM328 119h1v1h-1zM326 107h1v1h-1zM351 114h1v1h-1zM329 134h1v1h-1zM317 135h1v1h-1zM323 128h1v1h-1zM348 121h1v1h-1zM369 121h1v1h-1zM317 120h1v1h-1zM365 102h1v1h-1zM316 130h1v1h-1zM363 128h1v1h-1zM354 119h1v1h-1zM355 114h1v1h-1zM358 113h1v1h-1zM317 110h1v1h-1zM314 134h1v1h-1zM371 141h1v1h-1zM318 96h1v1h-1zM356 128h1v1h-1zM333 133h1v1h-1zM362 113h1v1h-1zM315 131h1v1h-1zM348 128h1v1h-1zM319 123h1v1h-1zM361 103h1v1h-1zM321 111h1v1h-1zM357 107h1v1h-1zM371 115h1v1h-1zM338 138h1v1h-1zM354 140h1v1h-1zM333 123h1v1h-1zM361 132h1v1h-1zM351 142h1v1h-1zM336 123h1v1h-1zM335 133h1v1h-1zM333 124h1v1h-1zM357 115h1v1h-1zM344 112h1v1h-1zM339 135h1v1h-1zM347 107h1v1h-1zM320 109h1v1h-1zM334 105h1v1h-1zM332 118h1v1h-1zM318 137h1v1h-1zM314 104h1v1h-1zM325 122h1v1h-1zM333 139h1v1h-1zM362 135h1v1h-1zM323 126h1v1h-1zM340 136h1v1h-1zM340 116h1v1h-1zM344 138h1v1h-1zM314 124h1v1h-1zM367 108h1v1h-1zM369 127h1v1h-1zM344 106h1v1h-1zM326 124h1v1h-1zM370 142h1v1h-1zM316 124h1v1h-1zM336 139h1v1h-1zM328 121h1v1h-1zM360 134h1v1h-1zM347 114h1v1h-1zM332 111h1v1h-1zM357 118h1v1h-1zM356 142h1v1h-1zM334 135h1v1h-1zM339 140h1v1h-1zM346 105h1v1h-1zM328 107h1v1h-1zM328 138h1v1h-1zM362 107h1v1h-1zM365 121h1v1h-1zM359 116h1v1h-1zM323 105h1v1h-1zM316 119h1v1h-1zM370 137h1v1h-1zM346 108h1v1h-1zM363 123h1v1h-1zM328 102h1v1h-1zM347 125h1v1h-1zM353 125h1v1h-1zM358 110h1v1h-1zM349 124h1v1h-1zM316 101h1v1h-1zM331 113h1v1h-1zM367 116h1v1h-1zM317 133h1v1h-1zM362 106h1v1h-1zM340 132h1v1h-1zM345 112h1v1h-1zM351 99h1v1h-1zM328 112h1v1h-1zM332 138h1v1h-1zM359 123h1v1h-1zM323 103h1v1h-1zM331 111h1v1h-1zM338 126h1v1h-1zM369 117h1v1h-1zM339 97h1v1h-1zM314 112h1v1h-1zM345 139h1v1h-1zM326 118h1v1h-1zM321 105h1v1h-1zM319 131h1v1h-1zM346 138h1v1h-1zM322 127h1v1h-1zM350 111h1v1h-1zM352 134h1v1h-1zM324 107h1v1h-1zM365 131h1v1h-1zM318 103h1v1h-1zM360 122h1v1h-1zM342 110h1v1h-1zM364 120h1v1h-1zM353 128h1v1h-1zM355 119h1v1h-1zM339 135h1v1h-1zM363 133h1v1h-1zM362 122h1v1h-1zM355 131h1v1h-1zM329 114h1v1h-1zM326 115h1v1h-1zM357 113h1v1h-1zM371 103h1v1h-1zM353 128h1v1h-1zM328 103h1v1h-1zM351 121h1v1h-1zM358 123h1v1h-1zM330 113h1v1h-1zM339 113h1v1h-1zM353 102h1v1h-1zM361 141h1v1h-1zM343 107h1v1h-1zM353 106h1v1h-1zM323 122h1v1h-1zM370 103h1v1h-1zM324 114h1v1h-1zM336 130h1v1h-1zM343 125h1v1h-1zM366 119h1v1h-1zM318 113h1v1h-1zM332 130h1v1h-1zM346 104h1v1h-1zM334 111h1v1h-1zM345 111h1v1h-1zM355 107h1v1h-1zM320 139h1v1h-1zM346 140h1v1h-1zM368 134h1v1h-1zM360 121h1v1h-1zM346 107h1v1h-1zM333 126h1v1h-1zM357 132h1v1h-1zM360 108h1v1h-1zM354 120h1v1h-1zM315 136h1v1h-1zM334 117h1v1h-1zM362 130h1v1h-1zM339 137h1v1h-1zM346 124h1v1h-1zM349 139h1v1h-1zM341 119h1v1h-1zM371 124h1v1h-1zM344 119h1v1h-1zM359 137h1v1h-1zM348 100h1v1h-1zM336 139h1v1h-1zM350 111h1v1h-1zM322 109h1v1h-1zM356 104h1v1h-1zM344 116h1v1h-1zM348 128h1v1h-1zM346 114h1v1h-1zM349 128h1v1h-1zM354 134h1v1h-1zM314 112h1v1h-1zM345 140h1v1h-1zM332 140h1v1h-1zM367 117h1v1h-1zM361 97h1v1h-1zM368 109h1v1h-1zM356 136h1v1h-1zM326 100h1v1h-1zM355 124h1v1h-1zM320 113h1v1h-1zM334 120h1v1h-1zM368 117h1v1h-1zM344 99h1v1h-1zM334 141h1v1h-1zM343 120h1v1h-1zM325 135h1v1h-1zM344 108h1v1h-1zM357 127h1v1h-1zM347 118h1v1h-1zM346 124h1v1h-1zM367 105h1v1h-1zM368 113h1v1h-1zM325 105h1v1h-1zM358 124h1v1h-1zM347 104h1v1h-1zM317 138h1v1h-1zM367 100h1v1h-1zM324 140h1v1h-1zM371 120h1v1h-1zM369 114h1v1h-1zM317 127h1v1h-1zM359 129h1v1h-1zM331 133h1v1h-1zM365 123h1v1h-1zM361 98h1v1h-1zM368 103h1v1h-1zM323 116h1v1h-1zM323 116h1v1h-1zM340 134h1v1h-1zM363 109h1v1h-1zM354 135h1v1h-1zM365 109h1v1h-1zM351 126h1v1h-1zM340 98h1v1h-1zM362 109h1v1h-1zM315 117h1v1h-1zM329 114h1v1h-1zM345 118h1v1h-1zM367 121h1v1h-1zM360 132h1v1h-1zM325 123h1v1h-1zM320 130h1v1h-1zM339 141h1v1h-1zM349 138h1v1h-1zM369 134h1v1h-1zM323 131h1v1h-1zM369 129h1v1h-1zM319 135h1v1h-1zM367 139h1v1h-1zM333 112h1v1h-1zM353 140h1v1h-1zM315 141h1v1h-1zM331 117h1v1h-1zM332 134h1v1h-1zM359 126h1v1h-1zM355 132h1v1h-1zM366 135h1v1h-1zM346 132h1v1h-1zM329 130h1v1h-1zM368 141h1v1h-1zM345 130h1v1h-1zM328 117h1v1h-1zM359 140h1v1h-1zM353 139h1v1h-1zM370 123h1v1h-1zM346 134h1v1h-1zM366 139h1v1h-1zM361 135h1v1h-1zM349 134h1v1h-1zM329 129h1v1h-1zM343 134h1v1h-1zM335 142h1v1h-1zM368 120h1v1h-1zM363 131h1v1h-1zM330 133h1v1h-1zM320 122h1v1h-1zM335 141h1v1h-1zM335 133h1v1h-1zM339 140h1v1h-1zM341 111h1v1h-1zM316 140h1v1h-1zM332 129h1v1h-1zM315 131h1v1h-1zM361 138h1v1h-1zM324 134h1v1h-1zM330 135h1v1h-1zM350 120h1v1h-1zM319 136h1v1h-1zM347 134h1v1h-1zM327 130h1v1h-1zM327 135h1v1h-1zM347 138h1v1h-1zM319 135h1v1h-1zM367 141h1v1h-1zM360 127h1v1h-1zM352 133h1v1h-1zM333 141h1v1h-1zM329 133h1v1h-1zM333 126h1v1h-1zM358 125h1v1h-1zM366 139h1v1h-1zM350 119h1v1h-1zM357 116h1v1h-1zM328 125h1v1h-1zM363 134h1v1h-1zM362 134h1v1h-1zM316 117h1v1h-1zM352 133h1v1h-1zM350 111h1v1h-1zM357 133h1v1h-1zM356 139h1v1h-1zM332 142h1v1h-1zM325 137h1v1h-1zM363 140h1v1h-1zM364 122h1v1h-1zM334 113h1v1h-1zM364 141h1v1h-1zM361 138h1v1h-1zM342 133h1v1h-1zM355 141h1v1h-1zM350 138h1v1h-1zM315 127h1v1h-1zM358 141h1v1h-1zM367 128h1v1h-1zM329 118h1v1h-1zM324 126h1v1h-1zM331 135h1v1h-1zM315 141h1v1h-1zM324 138h1v1h-1zM338 129h1v1h-1zM359 125h1v1h-1zM318 136h1v1h-1zM365 128h1v1h-1zM324 136h1v1h-1zM355 140h1v1h-1zM367 133h1v1h-1zM319 129h1v1h-1zM354 131h1v1h-1zM330 124h1v1h-1zM345 128h1v1h-1zM328 141h1v1h-1zM342 119h1v1h-1zM344 131h1v1h-1zM328 142h1v1h-1zM325 138h1v1h-1zM341 130h1v1h-1zM348 139h1v1h-1zM370 125h1v1h-1zM336 132h1v1h-1zM321 138h1v1h-1zM344 138h1v1h-1zM335 115h1v1h-1zM351 135h1v1h-1zM368 142h1v1h-1zM360 139h1v1h-1zM335 136h1v1h-1zM325 132h1v1h-1zM348 140h1v1h-1zM326 120h1v1h-1zM359 136h1v1h-1zM342 125h1v1h-1zM319 134h1v1h-1zM346 130h1v1h-1zM352 137h1v1h-1zM336 140h1v1h-1zM363 135h1v1h-1zM323 131h1v1h-1zM316 122h1v1h-1zM333 134h1v1h-1zM353 131h1v1h-1zM367 135h1v1h-1zM354 133h1v1h-1zM332 135h1v1h-1zM365 141h1v1h-1zM331 122h1v1h-1zM335 136h1v1h-1zM350 142h1v1h-1zM363 119h1v1h-1zM350 138h1v1h-1zM343 136h1v1h-1zM351 122h1v1h-1zM330 142h1v1h-1zM333 137h1v1h-1zM356 137h1v1h-1zM319 142h1v1h-1zM339 138h1v1h-1zM363 137h1v1h-1zM349 140h1v1h-1zM320 131h1v1h-1zM354 131h1v1h-1zM326 141h1v1h-1zM364 137h1v1h-1zM319 139h1v1h-1zM353 138h1v1h-1zM356 128h1v1h-1zM331 136h1v1h-1zM334 140h1v1h-1zM360 126h1v1h-1zM333 141h1v1h-1zM325 128h1v1h-1zM350 141h1v1h-1zM345 120h1v1h-1zM369 136h1v1h-1zM352 117h1v1h-1zM324 124h1v1h-1zM352 136h1v1h-1zM364 135h1v1h-1zM323 136h1v1h-1zM317 135h1v1h-1zM317 137h1v1h-1zM324 128h1v1h-1zM333 138h1v1h-1zM323 134h1v1h-1zM323 127h1v1h-1zM326 131h1v1h-1zM330 139h1v1h-1zM352 123h1v1h-1zM355 130h1v1h-1zM347 139h1v1h-1zM368 125h1v1h-1zM361 129h1v1h-1zM321 128h1v1h-1zM350 139h1v1h-1zM371 124h1v1h-1zM352 126h1v1h-1zM342 137h1v1h-1zM343 111h1v1h-1zM319 135h1v1h-1zM319 118h1v1h-1zM318 137h1v1h-1zM365 138h1v1h-1zM356 130h1v1h-1zM345 133h1v1h-1zM349 130h1v1h-1zM364 140h1v1h-1zM353 140h1v1h-1zM332 125h1v1h-1zM359 142h1v1h-1zM336 138h1v1h-1zM333 127h1v1h-1zM359 132h1v1h-1zM366 127h1v1h-1zM336 141h1v1h-1zM337 139h1v1h-1zM370 130h1v1h-1zM335 123h1v1h-1zM333 120h1v1h-1zM350 142h1v1h-1zM323 131h1v1h-1zM337 119h1v1h-1zM327 115h1v1h-1zM330 131h1v1h-1zM355 139h1v1h-1zM327 128h1v1h-1zM335 133h1v1h-1zM330 134h1v1h-1zM343 134h1v1h-1zM338 128h1v1h-1zM363 139h1v1h-1zM348 142h1v1h-1zM348 129h1v1h-1zM349 139h1v1h-1zM318 119h1v1h-1zM341 141h1v1h-1zM345 142h1v1h-1zM344 127h1v1h-1zM321 142h1v1h-1zM358 131h1v1h-1zM346 134h1v1h-1zM363 139h1v1h-1zM321 138h1v1h-1zM351 131h1v1h-1zM358 122h1v1h-1zM348 136h1v1h-1zM341 138h1v1h-1zM317 139h1v1h-1zM358 123h1v1h-1zM354 131h1v1h-1zM353 138h1v1h-1zM340 139h1v1h-1zM364 130h1v1h-1zM322 133h1v1h-1zM364 123h1v1h-1zM348 131h1v1h-1zM354 124h1v1h-1zM351 141h1v1h-1zM322 128h1v1h-1zM351 125h1v1h-1zM354 138h1v1h-1zM321 135h1v1h-1zM368 114h1v1h-1zM334 131h1v1h-1zM346 136h1v1h-1zM343 141h1v1h-1zM319 141h1v1h-1zM361 128h1v1h-1zM351 119h1v1h-1zM358 122h1v1h-1zM350 134h1v1h-1zM353 139h1v1h-1zM346 139h1v1h-1zM316 132h1v1h-1zM329 129h1v1h-1zM339 139h1v1h-1zM357 131h1v1h-1zM341 140h1v1h-1zM339 127h1v1h-1zM360 136h1v1h-1zM316 129h1v1h-1zM329 138h1v1h-1zM333 128h1v1h-1zM334 132h1v1h-1zM335 142h1v1h-1zM332 142h1v1h-1zM370 130h1v1h-1zM368 116h1v1h-1zM370 121h1v1h-1zM355 117h1v1h-1zM315 124h1v1h-1zM364 132h1v1h-1zM326 128h1v1h-1zM366 137h1v1h-1zM342 134h1v1h-1zM318 134h1v1h-1zM323 127h1v1h-1zM330 118h1v1h-1zM327 133h1v1h-1zM328 123h1v1h-1zM348 140h1v1h-1zM358 137h1v1h-1zM328 140h1v1h-1zM331 105h1v1h-1zM351 123h1v1h-1zM317 120h1v1h-1zM356 135h1v1h-1zM368 117h1v1h-1zM328 148h1v1h-1zM345 148h1v1h-1zM356 147h1v1h-1zM317 160h1v1h-1zM328 144h1v1h-1zM398 189h1v1h-1zM339 146h1v1h-1zM341 179h1v1h-1zM327 143h1v1h-1zM340 149h1v1h-1zM346 144h1v1h-1zM341 150h1v1h-1zM331 149h1v1h-1zM343 150h1v1h-1zM340 163h1v1h-1zM405 147h1v1h-1zM317 189h1v1h-1zM330 152h1v1h-1zM380 153h1v1h-1zM367 156h1v1h-1zM336 145h1v1h-1zM316 145h1v1h-1zM321 150h1v1h-1zM319 187h1v1h-1zM350 177h1v1h-1zM329 155h1v1h-1zM364 156h1v1h-1zM333 146h1v1h-1zM335 144h1v1h-1zM345 162h1v1h-1zM319 146h1v1h-1zM344 149h1v1h-1zM336 145h1v1h-1zM342 148h1v1h-1zM342 205h1v1h-1zM317 160h1v1h-1zM374 151h1v1h-1zM389 149h1v1h-1zM347 151h1v1h-1zM324 148h1v1h-1zM365 157h1v1h-1zM321 147h1v1h-1zM368 153h1v1h-1zM326 156h1v1h-1zM340 152h1v1h-1zM327 155h1v1h-1zM323 147h1v1h-1zM318 143h1v1h-1zM425 153h1v1h-1zM359 150h1v1h-1zM318 158h1v1h-1zM330 158h1v1h-1zM383 145h1v1h-1zM314 155h1v1h-1zM331 147h1v1h-1zM334 150h1v1h-1zM382 156h1v1h-1zM380 161h1v1h-1zM324 144h1v1h-1zM327 153h1v1h-1zM316 166h1v1h-1zM359 148h1v1h-1zM326 144h1v1h-1zM340 144h1v1h-1zM349 176h1v1h-1zM333 151h1v1h-1zM365 148h1v1h-1zM323 146h1v1h-1zM318 147h1v1h-1zM332 188h1v1h-1zM332 143h1v1h-1zM323 169h1v1h-1zM321 147h1v1h-1zM330 162h1v1h-1zM356 147h1v1h-1zM323 159h1v1h-1zM324 147h1v1h-1zM320 153h1v1h-1zM326 150h1v1h-1zM352 163h1v1h-1zM338 161h1v1h-1zM345 174h1v1h-1zM374 155h1v1h-1zM337 146h1v1h-1zM353 150h1v1h-1zM350 146h1v1h-1zM355 154h1v1h-1zM322 147h1v1h-1zM319 174h1v1h-1zM319 156h1v1h-1zM336 146h1v1h-1zM358 187h1v1h-1zM318 144h1v1h-1zM362 145h1v1h-1zM337 145h1v1h-1zM333 157h1v1h-1zM379 150h1v1h-1zM344 146h1v1h-1zM336 153h1v1h-1zM348 149h1v1h-1zM340 179h1v1h-1zM339 160h1v1h-1zM318 179h1v1h-1zM369 158h1v1h-1zM392 173h1v1h-1zM327 147h1v1h-1zM341 160h1v1h-1zM339 150h1v1h-1zM315 145h1v1h-1zM317 145h1v1h-1zM337 154h1v1h-1zM382 147h1v1h-1zM357 154h1v1h-1zM319 144h1v1h-1zM403 152h1v1h-1zM336 143h1v1h-1zM337 158h1v1h-1zM371 145h1v1h-1zM345 146h1v1h-1zM346 150h1v1h-1zM314 155h1v1h-1zM330 155h1v1h-1zM384 162h1v1h-1zM367 146h1v1h-1zM318 153h1v1h-1zM335 195h1v1h-1zM372 151h1v1h-1zM384 157h1v1h-1zM323 156h1v1h-1zM388 154h1v1h-1zM329 160h1v1h-1zM330 163h1v1h-1zM357 150h1v1h-1zM355 167h1v1h-1zM316 149h1v1h-1zM319 146h1v1h-1zM324 149h1v1h-1zM322 175h1v1h-1zM320 159h1v1h-1zM319 154h1v1h-1zM341 157h1v1h-1zM399 169h1v1h-1zM319 147h1v1h-1zM341 150h1v1h-1zM327 145h1v1h-1zM331 145h1v1h-1zM389 146h1v1h-1zM322 158h1v1h-1zM384 150h1v1h-1zM345 148h1v1h-1zM364 146h1v1h-1zM357 143h1v1h-1zM371 164h1v1h-1zM389 158h1v1h-1zM326 145h1v1h-1zM331 164h1v1h-1zM316 148h1v1h-1zM314 144h1v1h-1zM380 148h1v1h-1zM373 147h1v1h-1zM318 157h1v1h-1zM350 150h1v1h-1zM388 152h1v1h-1zM334 161h1v1h-1zM351 147h1v1h-1zM341 152h1v1h-1zM327 149h1v1h-1zM320 150h1v1h-1zM320 184h1v1h-1zM317 164h1v1h-1zM356 156h1v1h-1zM385 156h1v1h-1zM335 144h1v1h-1zM344 145h1v1h-1zM332 184h1v1h-1zM338 172h1v1h-1zM328 168h1v1h-1zM358 148h1v1h-1zM375 166h1v1h-1zM335 146h1v1h-1zM322 154h1v1h-1zM322 192h1v1h-1zM341 145h1v1h-1zM323 162h1v1h-1zM379 157h1v1h-1zM380 155h1v1h-1zM350 199h1v1h-1zM334 148h1v1h-1zM364 198h1v1h-1zM338 160h1v1h-1zM344 183h1v1h-1zM350 150h1v1h-1zM351 148h1v1h-1zM336 146h1v1h-1zM332 153h1v1h-1zM372 144h1v1h-1zM317 167h1v1h-1zM344 176h1v1h-1zM351 157h1v1h-1zM321 202h1v1h-1zM336 156h1v1h-1zM350 205h1v1h-1zM333 166h1v1h-1zM342 174h1v1h-1zM353 200h1v1h-1zM340 170h1v1h-1zM332 173h1v1h-1zM326 185h1v1h-1zM330 158h1v1h-1zM354 206h1v1h-1zM330 146h1v1h-1zM315 182h1v1h-1zM362 149h1v1h-1zM349 162h1v1h-1zM358 157h1v1h-1zM325 188h1v1h-1zM343 175h1v1h-1zM344 204h1v1h-1zM354 176h1v1h-1zM350 154h1v1h-1zM341 197h1v1h-1zM355 146h1v1h-1zM356 156h1v1h-1zM315 179h1v1h-1zM318 189h1v1h-1zM347 148h1v1h-1zM323 200h1v1h-1zM361 161h1v1h-1zM331 166h1v1h-1zM343 168h1v1h-1zM324 178h1v1h-1zM323 198h1v1h-1zM324 150h1v1h-1zM331 203h1v1h-1zM333 205h1v1h-1zM329 207h1v1h-1zM348 200h1v1h-1zM348 199h1v1h-1zM328 194h1v1h-1zM314 178h1v1h-1zM325 144h1v1h-1zM364 147h1v1h-1zM326 168h1v1h-1zM363 150h1v1h-1zM352 200h1v1h-1zM314 190h1v1h-1zM318 165h1v1h-1zM347 159h1v1h-1zM325 196h1v1h-1zM337 203h1v1h-1zM314 159h1v1h-1zM319 156h1v1h-1zM346 161h1v1h-1zM341 151h1v1h-1zM321 144h1v1h-1zM349 175h1v1h-1zM344 160h1v1h-1zM365 143h1v1h-1zM332 170h1v1h-1zM365 149h1v1h-1zM316 176h1v1h-1zM358 163h1v1h-1zM315 156h1v1h-1zM358 206h1v1h-1zM360 197h1v1h-1zM324 191h1v1h-1zM314 154h1v1h-1zM315 188h1v1h-1zM316 173h1v1h-1zM315 148h1v1h-1zM314 100h1v1h-1zM315 133h1v1h-1zM316 195h1v1h-1zM316 204h1v1h-1zM316 116h1v1h-1zM315 131h1v1h-1zM315 121h1v1h-1zM314 192h1v1h-1zM315 203h1v1h-1zM314 198h1v1h-1zM315 143h1v1h-1zM314 199h1v1h-1zM314 175h1v1h-1zM315 123h1v1h-1zM315 150h1v1h-1zM314 138h1v1h-1zM314 171h1v1h-1zM314 164h1v1h-1zM315 110h1v1h-1zM315 203h1v1h-1zM315 128h1v1h-1zM314 97h1v1h-1zM315 163h1v1h-1zM315 149h1v1h-1zM315 127h1v1h-1zM314 168h1v1h-1zM316 108h1v1h-1zM315 120h1v1h-1zM314 199h1v1h-1zM315 163h1v1h-1zM315 111h1v1h-1zM315 207h1v1h-1zM316 208h1v1h-1zM315 168h1v1h-1zM314 114h1v1h-1zM314 101h1v1h-1zM315 148h1v1h-1zM314 161h1v1h-1zM315 107h1v1h-1zM314 101h1v1h-1zM315 118h1v1h-1zM315 132h1v1h-1zM315 189h1v1h-1zM315 109h1v1h-1zM314 146h1v1h-1zM314 106h1v1h-1zM315 141h1v1h-1zM315 105h1v1h-1zM314 173h1v1h-1zM314 115h1v1h-1zM315 198h1v1h-1zM316 101h1v1h-1zM315 145h1v1h-1zM315 144h1v1h-1zM315 183h1v1h-1zM314 105h1v1h-1zM318 107h1v1h-1zM315 114h1v1h-1zM314 109h1v1h-1zM318 139h1v1h-1zM315 135h1v1h-1zM317 118h1v1h-1zM314 111h1v1h-1zM316 140h1v1h-1zM314 120h1v1h-1zM318 115h1v1h-1zM316 111h1v1h-1zM315 123h1v1h-1zM315 100h1v1h-1zM316 115h1v1h-1zM318 122h1v1h-1zM314 133h1v1h-1zM316 121h1v1h-1zM317 111h1v1h-1zM314 119h1v1h-1zM314 138h1v1h-1zM315 135h1v1h-1zM316 115h1v1h-1zM318 103h1v1h-1zM317 108h1v1h-1zM315 104h1v1h-1zM318 106h1v1h-1zM316 126h1v1h-1zM316 134h1v1h-1zM314 119h1v1h-1zM316 131h1v1h-1zM315 113h1v1h-1zM316 131h1v1h-1zM315 107h1v1h-1zM315 135h1v1h-1zM316 140h1v1h-1zM315 138h1v1h-1zM315 128h1v1h-1zM315 102h1v1h-1zM316 102h1v1h-1zM316 139h1v1h-1zM318 113h1v1h-1zM314 129h1v1h-1zM315 115h1v1h-1zM314 115h1v1h-1zM317 131h1v1h-1zM317 124h1v1h-1zM317 107h1v1h-1zM314 135h1v1h-1zM315 120h1v1h-1zM316 116h1v1h-1zM314 118h1v1h-1zM317 124h1v1h-1zM316 102h1v1h-1zM315 101h1v1h-1zM318 121h1v1h-1zM316 131h1v1h-1zM316 137h1v1h-1zM316 140h1v1h-1zM316 107h1v1h-1zM316 104h1v1h-1zM316 115h1v1h-1zM316 106h1v1h-1zM317 102h1v1h-1zM315 132h1v1h-1zM315 114h1v1h-1zM317 127h1v1h-1zM317 104h1v1h-1zM318 129h1v1h-1zM315 140h1v1h-1zM317 100h1v1h-1zM314 118h1v1h-1zM316 138h1v1h-1zM316 132h1v1h-1zM315 136h1v1h-1zM316 110h1v1h-1zM314 111h1v1h-1zM316 141h1v1h-1zM317 140h1v1h-1zM314 105h1v1h-1zM317 135h1v1h-1zM317 126h1v1h-1zM317 105h1v1h-1zM317 114h1v1h-1zM315 206h1v1h-1zM325 207h1v1h-1zM324 206h1v1h-1zM323 207h1v1h-1zM329 207h1v1h-1zM343 206h1v1h-1zM316 208h1v1h-1zM321 207h1v1h-1zM335 206h1v1h-1zM322 208h1v1h-1zM317 208h1v1h-1zM339 207h1v1h-1zM326 206h1v1h-1zM315 206h1v1h-1zM346 206h1v1h-1zM335 207h1v1h-1zM319 207h1v1h-1zM334 206h1v1h-1zM336 208h1v1h-1zM328 206h1v1h-1zM327 207h1v1h-1zM319 207h1v1h-1zM316 206h1v1h-1zM325 207h1v1h-1zM326 206h1v1h-1zM318 207h1v1h-1zM330 208h1v1h-1zM341 206h1v1h-1zM338 206h1v1h-1zM379 107h1v1h-1zM405 101h1v1h-1zM360 116h1v1h-1zM406 99h1v1h-1zM375 88h1v1h-1zM424 104h1v1h-1zM437 102h1v1h-1zM359 114h1v1h-1zM403 83h1v1h-1zM406 117h1v1h-1zM367 120h1v1h-1zM401 64h1v1h-1zM375 137h1v1h-1zM387 90h1v1h-1zM393 120h1v1h-1zM350 162h1v1h-1zM394 112h1v1h-1zM394 102h1v1h-1zM396 95h1v1h-1zM360 105h1v1h-1zM383 116h1v1h-1zM405 94h1v1h-1zM401 87h1v1h-1zM409 106h1v1h-1zM418 93h1v1h-1zM367 113h1v1h-1zM386 120h1v1h-1zM378 93h1v1h-1zM403 104h1v1h-1zM400 93h1v1h-1zM412 91h1v1h-1zM395 96h1v1h-1zM400 116h1v1h-1zM378 136h1v1h-1zM386 93h1v1h-1zM372 129h1v1h-1zM372 126h1v1h-1zM380 115h1v1h-1zM409 116h1v1h-1zM437 109h1v1h-1zM357 102h1v1h-1zM370 123h1v1h-1zM436 91h1v1h-1zM451 71h1v1h-1zM386 93h1v1h-1zM413 93h1v1h-1zM406 78h1v1h-1zM410 98h1v1h-1zM385 123h1v1h-1zM417 119h1v1h-1zM384 104h1v1h-1zM384 119h1v1h-1zM425 92h1v1h-1zM387 109h1v1h-1zM397 123h1v1h-1zM378 107h1v1h-1zM412 104h1v1h-1zM393 129h1v1h-1zM395 116h1v1h-1zM385 91h1v1h-1zM394 104h1v1h-1zM399 115h1v1h-1zM398 105h1v1h-1zM391 101h1v1h-1zM365 117h1v1h-1zM411 86h1v1h-1zM390 124h1v1h-1zM385 104h1v1h-1zM373 129h1v1h-1zM384 121h1v1h-1z" fill="#1a1a1a"/>
<rect x="38.8" y="24.1" width="197.8" height="184.7" fill="none" stroke="#000" stroke-width="2"/>
<text x="1.0" y="12.7" font-size="17" text-anchor="start" font-weight="bold" fill="#000" >A</text>
<line x1="33.4" y1="208.8" x2="38.8" y2="208.8" stroke="#000" stroke-width="1.6"/>
<text x="16.70" y="212.40" font-size="10" fill="#000" > 0</text><path transform="translate(16.70,212.40) scale(0.00488,-0.00488)" d="M763 0L583 0L583 1147Q518 1085 412.5 1023Q307 961 223 930L223 1104Q374 1175 487 1276Q600 1377 647 1409L763 1409Z" fill="#000" class="one"/>
<text x="28.7" y="209.3" font-size="7" text-anchor="start" fill="#000" >0</text>
<line x1="33.4" y1="162.4" x2="38.8" y2="162.4" stroke="#000" stroke-width="1.6"/>
<text x="16.70" y="166.00" font-size="10" fill="#000" > 0</text><path transform="translate(16.70,166.00) scale(0.00488,-0.00488)" d="M763 0L583 0L583 1147Q518 1085 412.5 1023Q307 961 223 930L223 1104Q374 1175 487 1276Q600 1377 647 1409L763 1409Z" fill="#000" class="one"/>
<text x="28.70" y="162.90" font-size="7" fill="#000" > </text><path transform="translate(28.70,162.90) scale(0.00342,-0.00342)" d="M763 0L583 0L583 1147Q518 1085 412.5 1023Q307 961 223 930L223 1104Q374 1175 487 1276Q600 1377 647 1409L763 1409Z" fill="#000" class="one"/>
<line x1="33.4" y1="116.6" x2="38.8" y2="116.6" stroke="#000" stroke-width="1.6"/>
<text x="16.70" y="120.20" font-size="10" fill="#000" > 0</text><path transform="translate(16.70,120.20) scale(0.00488,-0.00488)" d="M763 0L583 0L583 1147Q518 1085 412.5 1023Q307 961 223 930L223 1104Q374 1175 487 1276Q600 1377 647 1409L763 1409Z" fill="#000" class="one"/>
<text x="28.7" y="117.1" font-size="7" text-anchor="start" fill="#000" >2</text>
<line x1="33.4" y1="71.4" x2="38.8" y2="71.4" stroke="#000" stroke-width="1.6"/>
<text x="16.70" y="75.00" font-size="10" fill="#000" > 0</text><path transform="translate(16.70,75.00) scale(0.00488,-0.00488)" d="M763 0L583 0L583 1147Q518 1085 412.5 1023Q307 961 223 930L223 1104Q374 1175 487 1276Q600 1377 647 1409L763 1409Z" fill="#000" class="one"/>
<text x="28.7" y="71.9" font-size="7" text-anchor="start" fill="#000" >3</text>
<line x1="33.4" y1="24.1" x2="38.8" y2="24.1" stroke="#000" stroke-width="1.6"/>
<text x="16.70" y="27.70" font-size="10" fill="#000" > 0</text><path transform="translate(16.70,27.70) scale(0.00488,-0.00488)" d="M763 0L583 0L583 1147Q518 1085 412.5 1023Q307 961 223 930L223 1104Q374 1175 487 1276Q600 1377 647 1409L763 1409Z" fill="#000" class="one"/>
<text x="28.7" y="24.6" font-size="7" text-anchor="start" fill="#000" >4</text>
<line x1="38.6" y1="208.8" x2="38.6" y2="211.4" stroke="#000" stroke-width="1.3"/>
<text x="31.50" y="220.60" font-size="10" fill="#000" > 0</text><path transform="translate(31.50,220.60) scale(0.00488,-0.00488)" d="M763 0L583 0L583 1147Q518 1085 412.5 1023Q307 961 223 930L223 1104Q374 1175 487 1276Q600 1377 647 1409L763 1409Z" fill="#000" class="one"/>
<text x="43.6" y="217.7" font-size="7" text-anchor="start" fill="#000" >0</text>
<line x1="85.2" y1="208.8" x2="85.2" y2="211.4" stroke="#000" stroke-width="1.3"/>
<text x="79.30" y="220.60" font-size="10" fill="#000" > 0</text><path transform="translate(79.30,220.60) scale(0.00488,-0.00488)" d="M763 0L583 0L583 1147Q518 1085 412.5 1023Q307 961 223 930L223 1104Q374 1175 487 1276Q600 1377 647 1409L763 1409Z" fill="#000" class="one"/>
<text x="91.40" y="217.70" font-size="7" fill="#000" > </text><path transform="translate(91.40,217.70) scale(0.00342,-0.00342)" d="M763 0L583 0L583 1147Q518 1085 412.5 1023Q307 961 223 930L223 1104Q374 1175 487 1276Q600 1377 647 1409L763 1409Z" fill="#000" class="one"/>
<line x1="134.5" y1="208.8" x2="134.5" y2="211.4" stroke="#000" stroke-width="1.3"/>
<text x="129.30" y="220.60" font-size="10" fill="#000" > 0</text><path transform="translate(129.30,220.60) scale(0.00488,-0.00488)" d="M763 0L583 0L583 1147Q518 1085 412.5 1023Q307 961 223 930L223 1104Q374 1175 487 1276Q600 1377 647 1409L763 1409Z" fill="#000" class="one"/>
<text x="141.4" y="217.7" font-size="7" text-anchor="start" fill="#000" >2</text>
<line x1="184.3" y1="208.8" x2="184.3" y2="211.4" stroke="#000" stroke-width="1.3"/>
<text x="178.80" y="220.60" font-size="10" fill="#000" > 0</text><path transform="translate(178.80,220.60) scale(0.00488,-0.00488)" d="M763 0L583 0L583 1147Q518 1085 412.5 1023Q307 961 223 930L223 1104Q374 1175 487 1276Q600 1377 647 1409L763 1409Z" fill="#000" class="one"/>
<text x="190.9" y="217.7" font-size="7" text-anchor="start" fill="#000" >3</text>
<line x1="236.6" y1="208.8" x2="236.6" y2="211.4" stroke="#000" stroke-width="1.3"/>
<text x="228.50" y="220.60" font-size="10" fill="#000" > 0</text><path transform="translate(228.50,220.60) scale(0.00488,-0.00488)" d="M763 0L583 0L583 1147Q518 1085 412.5 1023Q307 961 223 930L223 1104Q374 1175 487 1276Q600 1377 647 1409L763 1409Z" fill="#000" class="one"/>
<text x="240.6" y="217.7" font-size="7" text-anchor="start" fill="#000" >4</text>
<text x="122.0" y="235.4" font-size="13" text-anchor="start" fill="#000" >FSC</text>
<text transform="translate(10.9,115.7) rotate(-90)" x="0" y="0" font-size="13" text-anchor="middle" fill="#000">SSC</text>
<rect x="312.3" y="24.1" width="197.9" height="184.7" fill="none" stroke="#000" stroke-width="2"/>
<text x="262.0" y="12.7" font-size="17" text-anchor="start" font-weight="bold" fill="#000" >B</text>
<line x1="306.9" y1="208.8" x2="312.3" y2="208.8" stroke="#000" stroke-width="1.6"/>
<text x="290.70" y="212.40" font-size="10" fill="#000" > 0</text><path transform="translate(290.70,212.40) scale(0.00488,-0.00488)" d="M763 0L583 0L583 1147Q518 1085 412.5 1023Q307 961 223 930L223 1104Q374 1175 487 1276Q600 1377 647 1409L763 1409Z" fill="#000" class="one"/>
<text x="302.7" y="209.3" font-size="7" text-anchor="start" fill="#000" >0</text>
<line x1="306.9" y1="162.4" x2="312.3" y2="162.4" stroke="#000" stroke-width="1.6"/>
<text x="290.70" y="166.00" font-size="10" fill="#000" > 0</text><path transform="translate(290.70,166.00) scale(0.00488,-0.00488)" d="M763 0L583 0L583 1147Q518 1085 412.5 1023Q307 961 223 930L223 1104Q374 1175 487 1276Q600 1377 647 1409L763 1409Z" fill="#000" class="one"/>
<text x="302.70" y="162.90" font-size="7" fill="#000" > </text><path transform="translate(302.70,162.90) scale(0.00342,-0.00342)" d="M763 0L583 0L583 1147Q518 1085 412.5 1023Q307 961 223 930L223 1104Q374 1175 487 1276Q600 1377 647 1409L763 1409Z" fill="#000" class="one"/>
<line x1="306.9" y1="116.6" x2="312.3" y2="116.6" stroke="#000" stroke-width="1.6"/>
<text x="290.70" y="120.20" font-size="10" fill="#000" > 0</text><path transform="translate(290.70,120.20) scale(0.00488,-0.00488)" d="M763 0L583 0L583 1147Q518 1085 412.5 1023Q307 961 223 930L223 1104Q374 1175 487 1276Q600 1377 647 1409L763 1409Z" fill="#000" class="one"/>
<text x="302.7" y="117.1" font-size="7" text-anchor="start" fill="#000" >2</text>
<line x1="306.9" y1="71.4" x2="312.3" y2="71.4" stroke="#000" stroke-width="1.6"/>
<text x="290.70" y="75.00" font-size="10" fill="#000" > 0</text><path transform="translate(290.70,75.00) scale(0.00488,-0.00488)" d="M763 0L583 0L583 1147Q518 1085 412.5 1023Q307 961 223 930L223 1104Q374 1175 487 1276Q600 1377 647 1409L763 1409Z" fill="#000" class="one"/>
<text x="302.7" y="71.9" font-size="7" text-anchor="start" fill="#000" >3</text>
<line x1="306.9" y1="24.1" x2="312.3" y2="24.1" stroke="#000" stroke-width="1.6"/>
<text x="290.70" y="27.70" font-size="10" fill="#000" > 0</text><path transform="translate(290.70,27.70) scale(0.00488,-0.00488)" d="M763 0L583 0L583 1147Q518 1085 412.5 1023Q307 961 223 930L223 1104Q374 1175 487 1276Q600 1377 647 1409L763 1409Z" fill="#000" class="one"/>
<text x="302.7" y="24.6" font-size="7" text-anchor="start" fill="#000" >4</text>
<line x1="312.6" y1="208.8" x2="312.6" y2="211.4" stroke="#000" stroke-width="1.3"/>
<text x="305.50" y="220.60" font-size="10" fill="#000" > 0</text><path transform="translate(305.50,220.60) scale(0.00488,-0.00488)" d="M763 0L583 0L583 1147Q518 1085 412.5 1023Q307 961 223 930L223 1104Q374 1175 487 1276Q600 1377 647 1409L763 1409Z" fill="#000" class="one"/>
<text x="317.6" y="217.7" font-size="7" text-anchor="start" fill="#000" >0</text>
<line x1="359.2" y1="208.8" x2="359.2" y2="211.4" stroke="#000" stroke-width="1.3"/>
<text x="353.30" y="220.60" font-size="10" fill="#000" > 0</text><path transform="translate(353.30,220.60) scale(0.00488,-0.00488)" d="M763 0L583 0L583 1147Q518 1085 412.5 1023Q307 961 223 930L223 1104Q374 1175 487 1276Q600 1377 647 1409L763 1409Z" fill="#000" class="one"/>
<text x="365.40" y="217.70" font-size="7" fill="#000" > </text><path transform="translate(365.40,217.70) scale(0.00342,-0.00342)" d="M763 0L583 0L583 1147Q518 1085 412.5 1023Q307 961 223 930L223 1104Q374 1175 487 1276Q600 1377 647 1409L763 1409Z" fill="#000" class="one"/>
<line x1="408.5" y1="208.8" x2="408.5" y2="211.4" stroke="#000" stroke-width="1.3"/>
<text x="403.30" y="220.60" font-size="10" fill="#000" > 0</text><path transform="translate(403.30,220.60) scale(0.00488,-0.00488)" d="M763 0L583 0L583 1147Q518 1085 412.5 1023Q307 961 223 930L223 1104Q374 1175 487 1276Q600 1377 647 1409L763 1409Z" fill="#000" class="one"/>
<text x="415.4" y="217.7" font-size="7" text-anchor="start" fill="#000" >2</text>
<line x1="458.3" y1="208.8" x2="458.3" y2="211.4" stroke="#000" stroke-width="1.3"/>
<text x="452.80" y="220.60" font-size="10" fill="#000" > 0</text><path transform="translate(452.80,220.60) scale(0.00488,-0.00488)" d="M763 0L583 0L583 1147Q518 1085 412.5 1023Q307 961 223 930L223 1104Q374 1175 487 1276Q600 1377 647 1409L763 1409Z" fill="#000" class="one"/>
<text x="464.9" y="217.7" font-size="7" text-anchor="start" fill="#000" >3</text>
<line x1="510.6" y1="208.8" x2="510.6" y2="211.4" stroke="#000" stroke-width="1.3"/>
<text x="502.50" y="220.60" font-size="10" fill="#000" > 0</text><path transform="translate(502.50,220.60) scale(0.00488,-0.00488)" d="M763 0L583 0L583 1147Q518 1085 412.5 1023Q307 961 223 930L223 1104Q374 1175 487 1276Q600 1377 647 1409L763 1409Z" fill="#000" class="one"/>
<text x="514.6" y="217.7" font-size="7" text-anchor="start" fill="#000" >4</text>
<text x="391.20" y="235.40" font-size="13" fill="#000" >CD4 </text><path transform="translate(417.21,235.40) scale(0.00635,-0.00635)" d="M763 0L583 0L583 1147Q518 1085 412.5 1023Q307 961 223 930L223 1104Q374 1175 487 1276Q600 1377 647 1409L763 1409Z" fill="#000" class="one"/>
<text transform="translate(285.4,116.7) rotate(-90)" x="0" y="0" font-size="13" text-anchor="middle" fill="#000">Annexin V</text>
<line x1="361.2" y1="25" x2="361.2" y2="208" stroke="#6a6a6a" stroke-width="1.7"/>
<line x1="313" y1="143" x2="509.5" y2="143" stroke="#333" stroke-width="1.6"/>
<text x="-0.8" y="267.9" font-size="17" text-anchor="start" font-weight="bold" fill="#000" >C</text>
<line x1="39.5" y1="280.5" x2="39.5" y2="452.6" stroke="#777" stroke-width="1"/>
<line x1="39.5" y1="452.6" x2="238.5" y2="452.6" stroke="#777" stroke-width="1"/>
<line x1="37" y1="452.6" x2="39.5" y2="452.6" stroke="#777" stroke-width="1"/>
<text x="32.3" y="455.8" font-size="11" text-anchor="end" fill="#111" >0</text>
<line x1="37" y1="433.5" x2="39.5" y2="433.5" stroke="#777" stroke-width="1"/>
<text x="32.9" y="437.4" font-size="11" text-anchor="end" fill="#111" >50</text>
<line x1="37" y1="414.4" x2="39.5" y2="414.4" stroke="#777" stroke-width="1"/>
<text x="15.25" y="418.26" font-size="11" fill="#111" > 00</text><path transform="translate(15.25,418.26) scale(0.00537,-0.00537)" d="M763 0L583 0L583 1147Q518 1085 412.5 1023Q307 961 223 930L223 1104Q374 1175 487 1276Q600 1377 647 1409L763 1409Z" fill="#111" class="one"/>
<line x1="37" y1="395.2" x2="39.5" y2="395.2" stroke="#777" stroke-width="1"/>
<text x="15.75" y="399.14" font-size="11" fill="#111" > 50</text><path transform="translate(15.75,399.14) scale(0.00537,-0.00537)" d="M763 0L583 0L583 1147Q518 1085 412.5 1023Q307 961 223 930L223 1104Q374 1175 487 1276Q600 1377 647 1409L763 1409Z" fill="#111" class="one"/>
<line x1="37" y1="376.1" x2="39.5" y2="376.1" stroke="#777" stroke-width="1"/>
<text x="34.1" y="380.0" font-size="11" text-anchor="end" fill="#111" >200</text>
<line x1="37" y1="357.0" x2="39.5" y2="357.0" stroke="#777" stroke-width="1"/>
<text x="34.1" y="360.9" font-size="11" text-anchor="end" fill="#111" >250</text>
<line x1="37" y1="337.9" x2="39.5" y2="337.9" stroke="#777" stroke-width="1"/>
<text x="34.1" y="341.8" font-size="11" text-anchor="end" fill="#111" >300</text>
<line x1="37" y1="318.8" x2="39.5" y2="318.8" stroke="#777" stroke-width="1"/>
<text x="34.1" y="322.7" font-size="11" text-anchor="end" fill="#111" >350</text>
<line x1="37" y1="299.6" x2="39.5" y2="299.6" stroke="#777" stroke-width="1"/>
<text x="34.1" y="303.5" font-size="11" text-anchor="end" fill="#111" >400</text>
<line x1="37" y1="280.5" x2="39.5" y2="280.5" stroke="#777" stroke-width="1"/>
<text x="34.1" y="284.4" font-size="11" text-anchor="end" fill="#111" >450</text>
<line x1="39.5" y1="452.6" x2="39.5" y2="455.6" stroke="#777" stroke-width="1"/>
<line x1="105.8" y1="452.6" x2="105.8" y2="455.6" stroke="#777" stroke-width="1"/>
<line x1="172.5" y1="452.6" x2="172.5" y2="455.6" stroke="#777" stroke-width="1"/>
<line x1="238.5" y1="452.6" x2="238.5" y2="455.6" stroke="#777" stroke-width="1"/>
<line x1="63.2" y1="439.3" x2="63.2" y2="437.1" stroke="#000" stroke-width="1.3"/>
<line x1="59.900000000000006" y1="437.1" x2="66.5" y2="437.1" stroke="#000" stroke-width="1.3"/>
<rect x="54.0" y="439.8" width="17.7" height="12.8" fill="#fff" stroke="#000" stroke-width="1"/>
<line x1="82.0" y1="370.2" x2="82.0" y2="362.4" stroke="#000" stroke-width="1.3"/>
<line x1="78.7" y1="362.4" x2="85.3" y2="362.4" stroke="#000" stroke-width="1.3"/>
<rect x="72.2" y="370.2" width="19.3" height="82.4" fill="#000"/>
<line x1="129.0" y1="412.1" x2="129.0" y2="411.2" stroke="#000" stroke-width="1.3"/>
<line x1="125.7" y1="411.2" x2="132.3" y2="411.2" stroke="#000" stroke-width="1.3"/>
<rect x="120.5" y="412.6" width="18.2" height="40.0" fill="#fff" stroke="#000" stroke-width="1"/>
<line x1="149.0" y1="327.9" x2="149.0" y2="308.3" stroke="#000" stroke-width="1.3"/>
<line x1="145.7" y1="308.3" x2="152.3" y2="308.3" stroke="#000" stroke-width="1.3"/>
<rect x="139.2" y="327.9" width="19.8" height="124.7" fill="#000"/>
<line x1="195.0" y1="412.1" x2="195.0" y2="411.2" stroke="#000" stroke-width="1.3"/>
<line x1="191.7" y1="411.2" x2="198.3" y2="411.2" stroke="#000" stroke-width="1.3"/>
<rect x="186.5" y="412.6" width="18.0" height="40.0" fill="#fff" stroke="#000" stroke-width="1"/>
<line x1="215.0" y1="325.2" x2="215.0" y2="300.2" stroke="#000" stroke-width="1.3"/>
<line x1="211.7" y1="300.2" x2="218.3" y2="300.2" stroke="#000" stroke-width="1.3"/>
<rect x="205.0" y="325.2" width="19.7" height="127.4" fill="#000"/>
<rect x="56.6" y="306.9" width="4.6" height="6.2" fill="#fff" stroke="#000" stroke-width="1"/>
<rect x="56.1" y="316.5" width="5.6" height="7.2" fill="#000"/>
<text x="64.6" y="313.3" font-size="10.5" text-anchor="start" fill="#000" >Control</text>
<text x="64.6" y="323.6" font-size="10.5" text-anchor="start" fill="#000" >Immune</text>
<text x="58.3" y="467.9" font-size="10.5" fill="#000">GPIb<tspan font-size="7.5" dy="3">α</tspan></text>
<text x="126.6" y="467.9" font-size="10.5" text-anchor="start" fill="#000" >GPVI</text>
<text x="198.8" y="467.9" font-size="10.5" fill="#000">α<tspan font-size="7.5" dy="3">2</tspan></text>
<text transform="translate(13,366) rotate(-90)" font-size="10.6" font-weight="bold" text-anchor="middle" fill="#000">Mean Fluorescence Intensity</text>
<text x="261.2" y="274.2" font-size="17" text-anchor="start" font-weight="bold" fill="#000" >D</text>
<line x1="311.0" y1="279.6" x2="311.0" y2="440.5" stroke="#000" stroke-width="2"/>
<line x1="310.0" y1="439.5" x2="508.5" y2="439.5" stroke="#000" stroke-width="2"/>
<line x1="308.3" y1="439.5" x2="311.0" y2="439.5" stroke="#000" stroke-width="1.5"/>
<text x="301.4" y="445.5" font-size="11.5" text-anchor="middle" font-weight="bold" fill="#000" >0</text>
<line x1="308.3" y1="423.6" x2="311.0" y2="423.6" stroke="#000" stroke-width="1.5"/>
<text x="298.20" y="429.42" font-size="11.5" font-weight="bold" fill="#000" > </text><path transform="translate(298.20,429.42) scale(0.00562,-0.00562)" d="M848 0L567 0L567 1059Q413 915 204 846L204 1101Q314 1137 443 1237Q572 1337 620 1409L848 1409Z" fill="#000" class="oneb"/>
<line x1="308.3" y1="407.7" x2="311.0" y2="407.7" stroke="#000" stroke-width="1.5"/>
<text x="301.4" y="413.3" font-size="11.5" text-anchor="middle" font-weight="bold" fill="#000" >2</text>
<line x1="308.3" y1="391.8" x2="311.0" y2="391.8" stroke="#000" stroke-width="1.5"/>
<text x="301.4" y="397.3" font-size="11.5" text-anchor="middle" font-weight="bold" fill="#000" >3</text>
<line x1="308.3" y1="375.9" x2="311.0" y2="375.9" stroke="#000" stroke-width="1.5"/>
<text x="301.4" y="381.2" font-size="11.5" text-anchor="middle" font-weight="bold" fill="#000" >4</text>
<line x1="308.3" y1="360.0" x2="311.0" y2="360.0" stroke="#000" stroke-width="1.5"/>
<text x="301.4" y="365.1" font-size="11.5" text-anchor="middle" font-weight="bold" fill="#000" >5</text>
<line x1="308.3" y1="344.1" x2="311.0" y2="344.1" stroke="#000" stroke-width="1.5"/>
<text x="301.4" y="349.0" font-size="11.5" text-anchor="middle" font-weight="bold" fill="#000" >6</text>
<line x1="308.3" y1="328.2" x2="311.0" y2="328.2" stroke="#000" stroke-width="1.5"/>
<text x="301.4" y="332.9" font-size="11.5" text-anchor="middle" font-weight="bold" fill="#000" >7</text>
<line x1="308.3" y1="312.3" x2="311.0" y2="312.3" stroke="#000" stroke-width="1.5"/>
<text x="301.4" y="316.9" font-size="11.5" text-anchor="middle" font-weight="bold" fill="#000" >8</text>
<line x1="308.3" y1="296.4" x2="311.0" y2="296.4" stroke="#000" stroke-width="1.5"/>
<text x="301.4" y="300.8" font-size="11.5" text-anchor="middle" font-weight="bold" fill="#000" >9</text>
<line x1="308.3" y1="280.5" x2="311.0" y2="280.5" stroke="#000" stroke-width="1.5"/>
<text x="295.00" y="284.70" font-size="11.5" font-weight="bold" fill="#000" > 0</text><path transform="translate(295.00,284.70) scale(0.00562,-0.00562)" d="M848 0L567 0L567 1059Q413 915 204 846L204 1101Q314 1137 443 1237Q572 1337 620 1409L848 1409Z" fill="#000" class="oneb"/>
<line x1="311.0" y1="439.5" x2="311.0" y2="442.0" stroke="#000" stroke-width="1.5"/>
<text x="311.6" y="454.0" font-size="11.5" text-anchor="middle" font-weight="bold" fill="#000" >0</text>
<line x1="350.8" y1="439.5" x2="350.8" y2="442.0" stroke="#000" stroke-width="1.5"/>
<text x="345.00" y="454.00" font-size="11.5" font-weight="bold" fill="#000" > 0</text><path transform="translate(345.00,454.00) scale(0.00562,-0.00562)" d="M848 0L567 0L567 1059Q413 915 204 846L204 1101Q314 1137 443 1237Q572 1337 620 1409L848 1409Z" fill="#000" class="oneb"/>
<line x1="390.6" y1="439.5" x2="390.6" y2="442.0" stroke="#000" stroke-width="1.5"/>
<text x="391.2" y="454.0" font-size="11.5" text-anchor="middle" font-weight="bold" fill="#000" >20</text>
<line x1="430.4" y1="439.5" x2="430.4" y2="442.0" stroke="#000" stroke-width="1.5"/>
<text x="431.0" y="454.0" font-size="11.5" text-anchor="middle" font-weight="bold" fill="#000" >30</text>
<line x1="470.2" y1="439.5" x2="470.2" y2="442.0" stroke="#000" stroke-width="1.5"/>
<text x="470.8" y="454.0" font-size="11.5" text-anchor="middle" font-weight="bold" fill="#000" >40</text>
<line x1="508.3" y1="439.5" x2="508.3" y2="442.0" stroke="#000" stroke-width="1.5"/>
<text x="508.9" y="454.0" font-size="11.5" text-anchor="middle" font-weight="bold" fill="#000" >50</text>
<text x="371.2" y="471.8" font-size="13.4" text-anchor="start" font-weight="bold" fill="#000" >Time (hours)</text>
<text transform="translate(275.8,360.5) rotate(-90)" font-size="13.6" font-weight="bold" text-anchor="middle" fill="#000">Particle Count</text>
<text transform="translate(292.6,359) rotate(-90)" font-size="13.6" font-weight="bold" text-anchor="middle" fill="#000">(Fold increase)</text>
<polyline points="311,424 406.5,345.3 502.3,307.5" fill="none" stroke="#000" stroke-width="2.2" stroke-linejoin="round"/>
<polyline points="311,424 406.5,409.4 502.7,410.8" fill="none" stroke="#000" stroke-width="2.2" stroke-linejoin="round"/>
<line x1="406.5" y1="340.5" x2="406.5" y2="350.3" stroke="#000" stroke-width="1.5"/>
<line x1="404.5" y1="340.5" x2="408.5" y2="340.5" stroke="#000" stroke-width="1.5"/>
<line x1="404.5" y1="350.3" x2="408.5" y2="350.3" stroke="#000" stroke-width="1.5"/>
<line x1="502.3" y1="301.7" x2="502.3" y2="315.1" stroke="#000" stroke-width="1.5"/>
<line x1="500.3" y1="301.7" x2="504.3" y2="301.7" stroke="#000" stroke-width="1.5"/>
<line x1="500.3" y1="315.1" x2="504.3" y2="315.1" stroke="#000" stroke-width="1.5"/>
<line x1="406.5" y1="401.5" x2="406.5" y2="417.6" stroke="#000" stroke-width="1.5"/>
<line x1="404.5" y1="401.5" x2="408.5" y2="401.5" stroke="#000" stroke-width="1.5"/>
<line x1="404.5" y1="417.6" x2="408.5" y2="417.6" stroke="#000" stroke-width="1.5"/>
<line x1="502.9" y1="407.6" x2="502.9" y2="415.2" stroke="#000" stroke-width="1.5"/>
<line x1="500.9" y1="407.6" x2="504.9" y2="407.6" stroke="#000" stroke-width="1.5"/>
<line x1="500.9" y1="415.2" x2="504.9" y2="415.2" stroke="#000" stroke-width="1.5"/>
<circle cx="311" cy="424" r="2.8" fill="#000"/>
<circle cx="406.5" cy="345.3" r="2.8" fill="#000"/>
<circle cx="502.3" cy="307.5" r="2.8" fill="#000"/>
<circle cx="406.5" cy="409.4" r="2.6" fill="#fff" stroke="#000" stroke-width="1.7"/>
<circle cx="502.9" cy="410.8" r="2.6" fill="#fff" stroke="#000" stroke-width="1.7"/>
<line x1="406.9" y1="364" x2="423.8" y2="364" stroke="#000" stroke-width="2.1"/>
<circle cx="415.8" cy="364.2" r="3.9" fill="#000"/>
<line x1="406.5" y1="389.3" x2="424.2" y2="389.3" stroke="#000" stroke-width="2.1"/>
<circle cx="416" cy="389.3" r="3.05" fill="#fff" stroke="#000" stroke-width="2.1"/>
<text x="425.6" y="363.0" font-size="12.2" text-anchor="start" font-weight="bold" fill="#000" >Megakaryocyte</text>
<text x="425.6" y="373.8" font-size="12.2" text-anchor="start" font-weight="bold" fill="#000" >microparticles</text>
<text x="425.2" y="394.6" font-size="12.2" text-anchor="start" font-weight="bold" fill="#000" >Megakaryocytes</text>
</g>
</svg></body></html>
